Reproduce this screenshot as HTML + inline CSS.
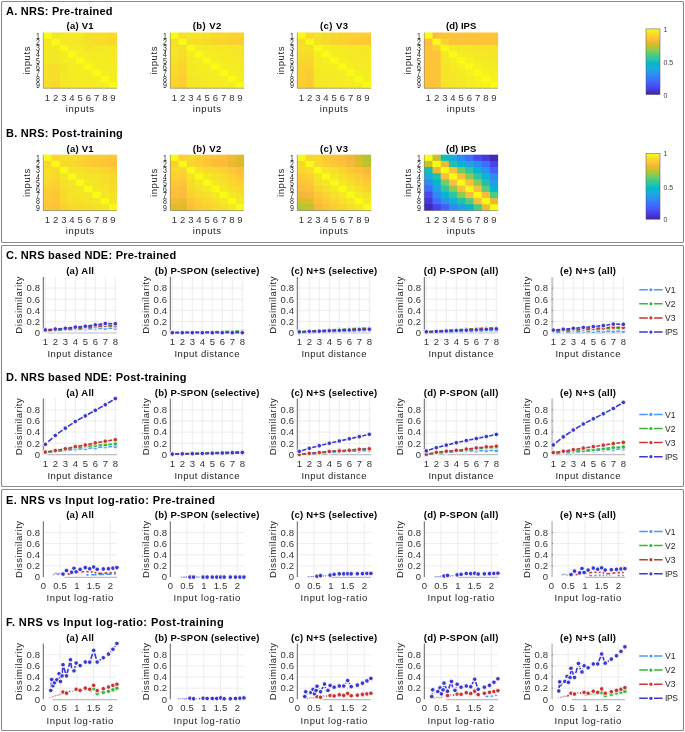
<!DOCTYPE html>
<html><head><meta charset="utf-8"><style>
html,body{margin:0;padding:0;background:#fff;width:685px;height:732px;overflow:hidden;font-family:"Liberation Sans",sans-serif}
svg{display:block;will-change:transform}
</style></head><body>
<svg width="685" height="732" viewBox="0 0 685 732" font-family="'Liberation Sans', sans-serif">
<defs><linearGradient id="parula" x1="0" y1="1" x2="0" y2="0"><stop offset='0.0000' stop-color='#3e26a8'/><stop offset='0.0159' stop-color='#402ab4'/><stop offset='0.0317' stop-color='#422ec0'/><stop offset='0.0476' stop-color='#4332cb'/><stop offset='0.0635' stop-color='#4537d5'/><stop offset='0.0794' stop-color='#463cde'/><stop offset='0.0952' stop-color='#4741e5'/><stop offset='0.1111' stop-color='#4747eb'/><stop offset='0.1270' stop-color='#484df0'/><stop offset='0.1429' stop-color='#4852f4'/><stop offset='0.1587' stop-color='#4758f8'/><stop offset='0.1746' stop-color='#465efb'/><stop offset='0.1905' stop-color='#4563fd'/><stop offset='0.2063' stop-color='#4269fe'/><stop offset='0.2222' stop-color='#3e6fff'/><stop offset='0.2381' stop-color='#3875fe'/><stop offset='0.2540' stop-color='#327cfc'/><stop offset='0.2698' stop-color='#2f81fa'/><stop offset='0.2857' stop-color='#2e87f7'/><stop offset='0.3016' stop-color='#2d8cf3'/><stop offset='0.3175' stop-color='#2b91ef'/><stop offset='0.3333' stop-color='#2797eb'/><stop offset='0.3492' stop-color='#259be8'/><stop offset='0.3651' stop-color='#23a0e5'/><stop offset='0.3810' stop-color='#20a5e3'/><stop offset='0.3968' stop-color='#1ca9df'/><stop offset='0.4127' stop-color='#18addb'/><stop offset='0.4286' stop-color='#12b1d6'/><stop offset='0.4444' stop-color='#08b5d0'/><stop offset='0.4603' stop-color='#01b8ca'/><stop offset='0.4762' stop-color='#02bac3'/><stop offset='0.4921' stop-color='#0bbdbd'/><stop offset='0.5079' stop-color='#19bfb6'/><stop offset='0.5238' stop-color='#24c1ae'/><stop offset='0.5397' stop-color='#2cc4a7'/><stop offset='0.5556' stop-color='#31c69f'/><stop offset='0.5714' stop-color='#37c897'/><stop offset='0.5873' stop-color='#3fca8e'/><stop offset='0.6032' stop-color='#4acb84'/><stop offset='0.6190' stop-color='#57cc7a'/><stop offset='0.6349' stop-color='#64cd6f'/><stop offset='0.6508' stop-color='#72cd64'/><stop offset='0.6667' stop-color='#81cc59'/><stop offset='0.6825' stop-color='#8fcb4e'/><stop offset='0.6984' stop-color='#9dc943'/><stop offset='0.7143' stop-color='#abc739'/><stop offset='0.7302' stop-color='#b9c431'/><stop offset='0.7460' stop-color='#c5c22a'/><stop offset='0.7619' stop-color='#d1bf27'/><stop offset='0.7778' stop-color='#dcbd29'/><stop offset='0.7937' stop-color='#e6bb2d'/><stop offset='0.8095' stop-color='#f0ba36'/><stop offset='0.8254' stop-color='#f8ba3d'/><stop offset='0.8413' stop-color='#febe3c'/><stop offset='0.8571' stop-color='#fec338'/><stop offset='0.8730' stop-color='#fec934'/><stop offset='0.8889' stop-color='#fccf30'/><stop offset='0.9048' stop-color='#fad62d'/><stop offset='0.9206' stop-color='#f7dc2a'/><stop offset='0.9365' stop-color='#f5e327'/><stop offset='0.9524' stop-color='#f5e924'/><stop offset='0.9683' stop-color='#f6ef20'/><stop offset='0.9841' stop-color='#f7f51b'/><stop offset='1.0000' stop-color='#f9fb15'/></linearGradient></defs>
<rect width="685" height="732" fill="#fff"/>
<rect x="1.5" y="1.5" width="682" height="241.0" fill="none" stroke="#8a8a8a" stroke-width="1.1" rx="1"/>
<rect x="1.5" y="245.5" width="682" height="241.0" fill="none" stroke="#8a8a8a" stroke-width="1.1" rx="1"/>
<rect x="1.5" y="489.5" width="682" height="241.0" fill="none" stroke="#8a8a8a" stroke-width="1.1" rx="1"/>
<text x="6.00" y="14.70" font-size="11" text-anchor="start" font-weight="bold" fill="#000" letter-spacing="0.25">A. NRS: Pre-trained</text>
<text x="6.00" y="136.90" font-size="11" text-anchor="start" font-weight="bold" fill="#000" letter-spacing="0.25">B. NRS: Post-training</text>
<text x="80.20" y="29.30" font-size="9.5" text-anchor="middle" font-weight="bold" fill="#000" letter-spacing="0.25">(a) V1</text>
<rect x="43.30" y="32.50" width="9.00" height="7.00" fill="#f9fb15"/>
<rect x="51.50" y="32.50" width="9.00" height="7.00" fill="#f5e626"/>
<rect x="59.70" y="32.50" width="9.00" height="7.00" fill="#f5e825"/>
<rect x="67.90" y="32.50" width="9.00" height="7.00" fill="#f5e825"/>
<rect x="76.10" y="32.50" width="9.00" height="7.00" fill="#f5e825"/>
<rect x="84.30" y="32.50" width="9.00" height="7.00" fill="#f5e227"/>
<rect x="92.50" y="32.50" width="9.00" height="7.00" fill="#f6e028"/>
<rect x="100.70" y="32.50" width="9.00" height="7.00" fill="#f6de29"/>
<rect x="108.90" y="32.50" width="8.20" height="7.00" fill="#f7dc2a"/>
<rect x="43.30" y="38.70" width="9.00" height="7.00" fill="#f5e626"/>
<rect x="51.50" y="38.70" width="9.00" height="7.00" fill="#f9fb15"/>
<rect x="59.70" y="38.70" width="9.00" height="7.00" fill="#f5e825"/>
<rect x="67.90" y="38.70" width="9.00" height="7.00" fill="#f5e825"/>
<rect x="76.10" y="38.70" width="9.00" height="7.00" fill="#f5e626"/>
<rect x="84.30" y="38.70" width="9.00" height="7.00" fill="#f6e028"/>
<rect x="92.50" y="38.70" width="9.00" height="7.00" fill="#f6de29"/>
<rect x="100.70" y="38.70" width="9.00" height="7.00" fill="#f7dc2a"/>
<rect x="108.90" y="38.70" width="8.20" height="7.00" fill="#f9d82c"/>
<rect x="43.30" y="44.90" width="9.00" height="7.00" fill="#f5e825"/>
<rect x="51.50" y="44.90" width="9.00" height="7.00" fill="#f5e825"/>
<rect x="59.70" y="44.90" width="9.00" height="7.00" fill="#f9fb15"/>
<rect x="67.90" y="44.90" width="9.00" height="7.00" fill="#f5ec22"/>
<rect x="76.10" y="44.90" width="9.00" height="7.00" fill="#f5ec22"/>
<rect x="84.30" y="44.90" width="9.00" height="7.00" fill="#f5e427"/>
<rect x="92.50" y="44.90" width="9.00" height="7.00" fill="#f5e825"/>
<rect x="100.70" y="44.90" width="9.00" height="7.00" fill="#f5e825"/>
<rect x="108.90" y="44.90" width="8.20" height="7.00" fill="#f5e626"/>
<rect x="43.30" y="51.10" width="9.00" height="7.00" fill="#f5e825"/>
<rect x="51.50" y="51.10" width="9.00" height="7.00" fill="#f5e825"/>
<rect x="59.70" y="51.10" width="9.00" height="7.00" fill="#f5ec22"/>
<rect x="67.90" y="51.10" width="9.00" height="7.00" fill="#f9fb15"/>
<rect x="76.10" y="51.10" width="9.00" height="7.00" fill="#f5ee21"/>
<rect x="84.30" y="51.10" width="9.00" height="7.00" fill="#f5ec22"/>
<rect x="92.50" y="51.10" width="9.00" height="7.00" fill="#f5ec22"/>
<rect x="100.70" y="51.10" width="9.00" height="7.00" fill="#f5ea24"/>
<rect x="108.90" y="51.10" width="8.20" height="7.00" fill="#f5e825"/>
<rect x="43.30" y="57.30" width="9.00" height="7.00" fill="#f5e825"/>
<rect x="51.50" y="57.30" width="9.00" height="7.00" fill="#f5e626"/>
<rect x="59.70" y="57.30" width="9.00" height="7.00" fill="#f5ec22"/>
<rect x="67.90" y="57.30" width="9.00" height="7.00" fill="#f5ee21"/>
<rect x="76.10" y="57.30" width="9.00" height="7.00" fill="#f9fb15"/>
<rect x="84.30" y="57.30" width="9.00" height="7.00" fill="#f5ee21"/>
<rect x="92.50" y="57.30" width="9.00" height="7.00" fill="#f5ec22"/>
<rect x="100.70" y="57.30" width="9.00" height="7.00" fill="#f5ec22"/>
<rect x="108.90" y="57.30" width="8.20" height="7.00" fill="#f5ea24"/>
<rect x="43.30" y="63.50" width="9.00" height="7.00" fill="#f5e227"/>
<rect x="51.50" y="63.50" width="9.00" height="7.00" fill="#f6e028"/>
<rect x="59.70" y="63.50" width="9.00" height="7.00" fill="#f5e427"/>
<rect x="67.90" y="63.50" width="9.00" height="7.00" fill="#f5ec22"/>
<rect x="76.10" y="63.50" width="9.00" height="7.00" fill="#f5ee21"/>
<rect x="84.30" y="63.50" width="9.00" height="7.00" fill="#f9fb15"/>
<rect x="92.50" y="63.50" width="9.00" height="7.00" fill="#f5ee21"/>
<rect x="100.70" y="63.50" width="9.00" height="7.00" fill="#f5ec22"/>
<rect x="108.90" y="63.50" width="8.20" height="7.00" fill="#f5ea24"/>
<rect x="43.30" y="69.70" width="9.00" height="7.00" fill="#f6e028"/>
<rect x="51.50" y="69.70" width="9.00" height="7.00" fill="#f6de29"/>
<rect x="59.70" y="69.70" width="9.00" height="7.00" fill="#f5e825"/>
<rect x="67.90" y="69.70" width="9.00" height="7.00" fill="#f5ec22"/>
<rect x="76.10" y="69.70" width="9.00" height="7.00" fill="#f5ec22"/>
<rect x="84.30" y="69.70" width="9.00" height="7.00" fill="#f5ee21"/>
<rect x="92.50" y="69.70" width="9.00" height="7.00" fill="#f9fb15"/>
<rect x="100.70" y="69.70" width="9.00" height="7.00" fill="#f5ee21"/>
<rect x="108.90" y="69.70" width="8.20" height="7.00" fill="#f5ec22"/>
<rect x="43.30" y="75.90" width="9.00" height="7.00" fill="#f6de29"/>
<rect x="51.50" y="75.90" width="9.00" height="7.00" fill="#f7dc2a"/>
<rect x="59.70" y="75.90" width="9.00" height="7.00" fill="#f5e825"/>
<rect x="67.90" y="75.90" width="9.00" height="7.00" fill="#f5ea24"/>
<rect x="76.10" y="75.90" width="9.00" height="7.00" fill="#f5ec22"/>
<rect x="84.30" y="75.90" width="9.00" height="7.00" fill="#f5ec22"/>
<rect x="92.50" y="75.90" width="9.00" height="7.00" fill="#f5ee21"/>
<rect x="100.70" y="75.90" width="9.00" height="7.00" fill="#f9fb15"/>
<rect x="108.90" y="75.90" width="8.20" height="7.00" fill="#f5ee21"/>
<rect x="43.30" y="82.10" width="9.00" height="6.20" fill="#f7dc2a"/>
<rect x="51.50" y="82.10" width="9.00" height="6.20" fill="#f9d82c"/>
<rect x="59.70" y="82.10" width="9.00" height="6.20" fill="#f5e626"/>
<rect x="67.90" y="82.10" width="9.00" height="6.20" fill="#f5e825"/>
<rect x="76.10" y="82.10" width="9.00" height="6.20" fill="#f5ea24"/>
<rect x="84.30" y="82.10" width="9.00" height="6.20" fill="#f5ea24"/>
<rect x="92.50" y="82.10" width="9.00" height="6.20" fill="#f5ec22"/>
<rect x="100.70" y="82.10" width="9.00" height="6.20" fill="#f5ee21"/>
<rect x="108.90" y="82.10" width="8.20" height="6.20" fill="#f9fb15"/>
<path d="M43.30 32.50V88.30H117.10" fill="none" stroke="#262626" stroke-width="0.6" stroke-opacity="0.6"/>
<text x="47.50" y="100.50" font-size="9.5" text-anchor="middle" fill="#333" letter-spacing="0.2">1</text>
<text x="55.70" y="100.50" font-size="9.5" text-anchor="middle" fill="#333" letter-spacing="0.2">2</text>
<text x="63.90" y="100.50" font-size="9.5" text-anchor="middle" fill="#333" letter-spacing="0.2">3</text>
<text x="72.10" y="100.50" font-size="9.5" text-anchor="middle" fill="#333" letter-spacing="0.2">4</text>
<text x="80.30" y="100.50" font-size="9.5" text-anchor="middle" fill="#333" letter-spacing="0.2">5</text>
<text x="88.50" y="100.50" font-size="9.5" text-anchor="middle" fill="#333" letter-spacing="0.2">6</text>
<text x="96.70" y="100.50" font-size="9.5" text-anchor="middle" fill="#333" letter-spacing="0.2">7</text>
<text x="104.90" y="100.50" font-size="9.5" text-anchor="middle" fill="#333" letter-spacing="0.2">8</text>
<text x="113.10" y="100.50" font-size="9.5" text-anchor="middle" fill="#333" letter-spacing="0.2">9</text>
<text x="80.20" y="111.70" font-size="9.5" text-anchor="middle" fill="#222" letter-spacing="0.6">inputs</text>
<text transform="translate(39.90,38.80) scale(0.78,1)" font-size="9" text-anchor="end" fill="#222">1</text>
<text transform="translate(39.90,45.00) scale(0.78,1)" font-size="9" text-anchor="end" fill="#222">2</text>
<text transform="translate(39.90,51.20) scale(0.78,1)" font-size="9" text-anchor="end" fill="#222">3</text>
<text transform="translate(39.90,57.40) scale(0.78,1)" font-size="9" text-anchor="end" fill="#222">4</text>
<text transform="translate(39.90,63.60) scale(0.78,1)" font-size="9" text-anchor="end" fill="#222">5</text>
<text transform="translate(39.90,69.80) scale(0.78,1)" font-size="9" text-anchor="end" fill="#222">6</text>
<text transform="translate(39.90,76.00) scale(0.78,1)" font-size="9" text-anchor="end" fill="#222">7</text>
<text transform="translate(39.90,82.20) scale(0.78,1)" font-size="9" text-anchor="end" fill="#222">8</text>
<text transform="translate(39.90,88.40) scale(0.78,1)" font-size="9" text-anchor="end" fill="#222">9</text>
<text transform="translate(30.00,60.40) rotate(-90)" font-size="9.5" text-anchor="middle" fill="#222" letter-spacing="0.6">inputs</text>
<text x="80.20" y="151.50" font-size="9.5" text-anchor="middle" font-weight="bold" fill="#000" letter-spacing="0.25">(a) V1</text>
<rect x="43.30" y="154.70" width="9.00" height="7.00" fill="#f9fb15"/>
<rect x="51.50" y="154.70" width="9.00" height="7.00" fill="#f9d72c"/>
<rect x="59.70" y="154.70" width="9.00" height="7.00" fill="#f6df29"/>
<rect x="67.90" y="154.70" width="9.00" height="7.00" fill="#f6dd29"/>
<rect x="76.10" y="154.70" width="9.00" height="7.00" fill="#f8d92b"/>
<rect x="84.30" y="154.70" width="9.00" height="7.00" fill="#fccf30"/>
<rect x="92.50" y="154.70" width="9.00" height="7.00" fill="#fdcb33"/>
<rect x="100.70" y="154.70" width="9.00" height="7.00" fill="#fec934"/>
<rect x="108.90" y="154.70" width="8.20" height="7.00" fill="#fec636"/>
<rect x="43.30" y="160.90" width="9.00" height="7.00" fill="#f9d72c"/>
<rect x="51.50" y="160.90" width="9.00" height="7.00" fill="#f9fb15"/>
<rect x="59.70" y="160.90" width="9.00" height="7.00" fill="#f7db2a"/>
<rect x="67.90" y="160.90" width="9.00" height="7.00" fill="#f9d72c"/>
<rect x="76.10" y="160.90" width="9.00" height="7.00" fill="#fbd32e"/>
<rect x="84.30" y="160.90" width="9.00" height="7.00" fill="#fdcb33"/>
<rect x="92.50" y="160.90" width="9.00" height="7.00" fill="#fec735"/>
<rect x="100.70" y="160.90" width="9.00" height="7.00" fill="#fec438"/>
<rect x="108.90" y="160.90" width="8.20" height="7.00" fill="#fec239"/>
<rect x="43.30" y="167.10" width="9.00" height="7.00" fill="#f6df29"/>
<rect x="51.50" y="167.10" width="9.00" height="7.00" fill="#f7db2a"/>
<rect x="59.70" y="167.10" width="9.00" height="7.00" fill="#f9fb15"/>
<rect x="67.90" y="167.10" width="9.00" height="7.00" fill="#f5e526"/>
<rect x="76.10" y="167.10" width="9.00" height="7.00" fill="#f5e327"/>
<rect x="84.30" y="167.10" width="9.00" height="7.00" fill="#f6dd29"/>
<rect x="92.50" y="167.10" width="9.00" height="7.00" fill="#f7db2a"/>
<rect x="100.70" y="167.10" width="9.00" height="7.00" fill="#f9d72c"/>
<rect x="108.90" y="167.10" width="8.20" height="7.00" fill="#fccf30"/>
<rect x="43.30" y="173.30" width="9.00" height="7.00" fill="#f6dd29"/>
<rect x="51.50" y="173.30" width="9.00" height="7.00" fill="#f9d72c"/>
<rect x="59.70" y="173.30" width="9.00" height="7.00" fill="#f5e526"/>
<rect x="67.90" y="173.30" width="9.00" height="7.00" fill="#f9fb15"/>
<rect x="76.10" y="173.30" width="9.00" height="7.00" fill="#f5e725"/>
<rect x="84.30" y="173.30" width="9.00" height="7.00" fill="#f5e327"/>
<rect x="92.50" y="173.30" width="9.00" height="7.00" fill="#f5e327"/>
<rect x="100.70" y="173.30" width="9.00" height="7.00" fill="#f6df29"/>
<rect x="108.90" y="173.30" width="8.20" height="7.00" fill="#f9d72c"/>
<rect x="43.30" y="179.50" width="9.00" height="7.00" fill="#f8d92b"/>
<rect x="51.50" y="179.50" width="9.00" height="7.00" fill="#fbd32e"/>
<rect x="59.70" y="179.50" width="9.00" height="7.00" fill="#f5e327"/>
<rect x="67.90" y="179.50" width="9.00" height="7.00" fill="#f5e725"/>
<rect x="76.10" y="179.50" width="9.00" height="7.00" fill="#f9fb15"/>
<rect x="84.30" y="179.50" width="9.00" height="7.00" fill="#f5e725"/>
<rect x="92.50" y="179.50" width="9.00" height="7.00" fill="#f5e526"/>
<rect x="100.70" y="179.50" width="9.00" height="7.00" fill="#f5e128"/>
<rect x="108.90" y="179.50" width="8.20" height="7.00" fill="#f7db2a"/>
<rect x="43.30" y="185.70" width="9.00" height="7.00" fill="#fccf30"/>
<rect x="51.50" y="185.70" width="9.00" height="7.00" fill="#fdcb33"/>
<rect x="59.70" y="185.70" width="9.00" height="7.00" fill="#f6dd29"/>
<rect x="67.90" y="185.70" width="9.00" height="7.00" fill="#f5e327"/>
<rect x="76.10" y="185.70" width="9.00" height="7.00" fill="#f5e725"/>
<rect x="84.30" y="185.70" width="9.00" height="7.00" fill="#f9fb15"/>
<rect x="92.50" y="185.70" width="9.00" height="7.00" fill="#f5e725"/>
<rect x="100.70" y="185.70" width="9.00" height="7.00" fill="#f5e526"/>
<rect x="108.90" y="185.70" width="8.20" height="7.00" fill="#f6dd29"/>
<rect x="43.30" y="191.90" width="9.00" height="7.00" fill="#fdcb33"/>
<rect x="51.50" y="191.90" width="9.00" height="7.00" fill="#fec735"/>
<rect x="59.70" y="191.90" width="9.00" height="7.00" fill="#f7db2a"/>
<rect x="67.90" y="191.90" width="9.00" height="7.00" fill="#f5e327"/>
<rect x="76.10" y="191.90" width="9.00" height="7.00" fill="#f5e526"/>
<rect x="84.30" y="191.90" width="9.00" height="7.00" fill="#f5e725"/>
<rect x="92.50" y="191.90" width="9.00" height="7.00" fill="#f9fb15"/>
<rect x="100.70" y="191.90" width="9.00" height="7.00" fill="#f5e725"/>
<rect x="108.90" y="191.90" width="8.20" height="7.00" fill="#f5e128"/>
<rect x="43.30" y="198.10" width="9.00" height="7.00" fill="#fec934"/>
<rect x="51.50" y="198.10" width="9.00" height="7.00" fill="#fec438"/>
<rect x="59.70" y="198.10" width="9.00" height="7.00" fill="#f9d72c"/>
<rect x="67.90" y="198.10" width="9.00" height="7.00" fill="#f6df29"/>
<rect x="76.10" y="198.10" width="9.00" height="7.00" fill="#f5e128"/>
<rect x="84.30" y="198.10" width="9.00" height="7.00" fill="#f5e526"/>
<rect x="92.50" y="198.10" width="9.00" height="7.00" fill="#f5e725"/>
<rect x="100.70" y="198.10" width="9.00" height="7.00" fill="#f9fb15"/>
<rect x="108.90" y="198.10" width="8.20" height="7.00" fill="#f5e526"/>
<rect x="43.30" y="204.30" width="9.00" height="6.20" fill="#fec636"/>
<rect x="51.50" y="204.30" width="9.00" height="6.20" fill="#fec239"/>
<rect x="59.70" y="204.30" width="9.00" height="6.20" fill="#fccf30"/>
<rect x="67.90" y="204.30" width="9.00" height="6.20" fill="#f9d72c"/>
<rect x="76.10" y="204.30" width="9.00" height="6.20" fill="#f7db2a"/>
<rect x="84.30" y="204.30" width="9.00" height="6.20" fill="#f6dd29"/>
<rect x="92.50" y="204.30" width="9.00" height="6.20" fill="#f5e128"/>
<rect x="100.70" y="204.30" width="9.00" height="6.20" fill="#f5e526"/>
<rect x="108.90" y="204.30" width="8.20" height="6.20" fill="#f9fb15"/>
<path d="M43.30 154.70V210.50H117.10" fill="none" stroke="#262626" stroke-width="0.6" stroke-opacity="0.6"/>
<text x="47.50" y="222.70" font-size="9.5" text-anchor="middle" fill="#333" letter-spacing="0.2">1</text>
<text x="55.70" y="222.70" font-size="9.5" text-anchor="middle" fill="#333" letter-spacing="0.2">2</text>
<text x="63.90" y="222.70" font-size="9.5" text-anchor="middle" fill="#333" letter-spacing="0.2">3</text>
<text x="72.10" y="222.70" font-size="9.5" text-anchor="middle" fill="#333" letter-spacing="0.2">4</text>
<text x="80.30" y="222.70" font-size="9.5" text-anchor="middle" fill="#333" letter-spacing="0.2">5</text>
<text x="88.50" y="222.70" font-size="9.5" text-anchor="middle" fill="#333" letter-spacing="0.2">6</text>
<text x="96.70" y="222.70" font-size="9.5" text-anchor="middle" fill="#333" letter-spacing="0.2">7</text>
<text x="104.90" y="222.70" font-size="9.5" text-anchor="middle" fill="#333" letter-spacing="0.2">8</text>
<text x="113.10" y="222.70" font-size="9.5" text-anchor="middle" fill="#333" letter-spacing="0.2">9</text>
<text x="80.20" y="233.90" font-size="9.5" text-anchor="middle" fill="#222" letter-spacing="0.6">inputs</text>
<text transform="translate(39.90,161.00) scale(0.78,1)" font-size="9" text-anchor="end" fill="#222">1</text>
<text transform="translate(39.90,167.20) scale(0.78,1)" font-size="9" text-anchor="end" fill="#222">2</text>
<text transform="translate(39.90,173.40) scale(0.78,1)" font-size="9" text-anchor="end" fill="#222">3</text>
<text transform="translate(39.90,179.60) scale(0.78,1)" font-size="9" text-anchor="end" fill="#222">4</text>
<text transform="translate(39.90,185.80) scale(0.78,1)" font-size="9" text-anchor="end" fill="#222">5</text>
<text transform="translate(39.90,192.00) scale(0.78,1)" font-size="9" text-anchor="end" fill="#222">6</text>
<text transform="translate(39.90,198.20) scale(0.78,1)" font-size="9" text-anchor="end" fill="#222">7</text>
<text transform="translate(39.90,204.40) scale(0.78,1)" font-size="9" text-anchor="end" fill="#222">8</text>
<text transform="translate(39.90,210.60) scale(0.78,1)" font-size="9" text-anchor="end" fill="#222">9</text>
<text transform="translate(30.00,182.60) rotate(-90)" font-size="9.5" text-anchor="middle" fill="#222" letter-spacing="0.6">inputs</text>
<text x="207.20" y="29.30" font-size="9.5" text-anchor="middle" font-weight="bold" fill="#000" letter-spacing="0.4">(b) V2</text>
<rect x="170.30" y="32.50" width="9.00" height="7.00" fill="#f9fb15"/>
<rect x="178.50" y="32.50" width="9.00" height="7.00" fill="#f6e028"/>
<rect x="186.70" y="32.50" width="9.00" height="7.00" fill="#f5e427"/>
<rect x="194.90" y="32.50" width="9.00" height="7.00" fill="#f5e427"/>
<rect x="203.10" y="32.50" width="9.00" height="7.00" fill="#f6e028"/>
<rect x="211.30" y="32.50" width="9.00" height="7.00" fill="#f7dc2a"/>
<rect x="219.50" y="32.50" width="9.00" height="7.00" fill="#f8da2b"/>
<rect x="227.70" y="32.50" width="9.00" height="7.00" fill="#fad62d"/>
<rect x="235.90" y="32.50" width="8.20" height="7.00" fill="#fad42e"/>
<rect x="170.30" y="38.70" width="9.00" height="7.00" fill="#f6e028"/>
<rect x="178.50" y="38.70" width="9.00" height="7.00" fill="#f9fb15"/>
<rect x="186.70" y="38.70" width="9.00" height="7.00" fill="#f6e028"/>
<rect x="194.90" y="38.70" width="9.00" height="7.00" fill="#f6de29"/>
<rect x="203.10" y="38.70" width="9.00" height="7.00" fill="#f8da2b"/>
<rect x="211.30" y="38.70" width="9.00" height="7.00" fill="#fad62d"/>
<rect x="219.50" y="38.70" width="9.00" height="7.00" fill="#fbd22f"/>
<rect x="227.70" y="38.70" width="9.00" height="7.00" fill="#fdce31"/>
<rect x="235.90" y="38.70" width="8.20" height="7.00" fill="#fdcc32"/>
<rect x="170.30" y="44.90" width="9.00" height="7.00" fill="#f5e427"/>
<rect x="178.50" y="44.90" width="9.00" height="7.00" fill="#f6e028"/>
<rect x="186.70" y="44.90" width="9.00" height="7.00" fill="#f9fb15"/>
<rect x="194.90" y="44.90" width="9.00" height="7.00" fill="#f5ec22"/>
<rect x="203.10" y="44.90" width="9.00" height="7.00" fill="#f5ea24"/>
<rect x="211.30" y="44.90" width="9.00" height="7.00" fill="#f5e825"/>
<rect x="219.50" y="44.90" width="9.00" height="7.00" fill="#f5e825"/>
<rect x="227.70" y="44.90" width="9.00" height="7.00" fill="#f5e626"/>
<rect x="235.90" y="44.90" width="8.20" height="7.00" fill="#f5e427"/>
<rect x="170.30" y="51.10" width="9.00" height="7.00" fill="#f5e427"/>
<rect x="178.50" y="51.10" width="9.00" height="7.00" fill="#f6de29"/>
<rect x="186.70" y="51.10" width="9.00" height="7.00" fill="#f5ec22"/>
<rect x="194.90" y="51.10" width="9.00" height="7.00" fill="#f9fb15"/>
<rect x="203.10" y="51.10" width="9.00" height="7.00" fill="#f5ee21"/>
<rect x="211.30" y="51.10" width="9.00" height="7.00" fill="#f5ec22"/>
<rect x="219.50" y="51.10" width="9.00" height="7.00" fill="#f5ea24"/>
<rect x="227.70" y="51.10" width="9.00" height="7.00" fill="#f5e825"/>
<rect x="235.90" y="51.10" width="8.20" height="7.00" fill="#f5e626"/>
<rect x="170.30" y="57.30" width="9.00" height="7.00" fill="#f6e028"/>
<rect x="178.50" y="57.30" width="9.00" height="7.00" fill="#f8da2b"/>
<rect x="186.70" y="57.30" width="9.00" height="7.00" fill="#f5ea24"/>
<rect x="194.90" y="57.30" width="9.00" height="7.00" fill="#f5ee21"/>
<rect x="203.10" y="57.30" width="9.00" height="7.00" fill="#f9fb15"/>
<rect x="211.30" y="57.30" width="9.00" height="7.00" fill="#f5ee21"/>
<rect x="219.50" y="57.30" width="9.00" height="7.00" fill="#f5ec22"/>
<rect x="227.70" y="57.30" width="9.00" height="7.00" fill="#f5ea24"/>
<rect x="235.90" y="57.30" width="8.20" height="7.00" fill="#f5e825"/>
<rect x="170.30" y="63.50" width="9.00" height="7.00" fill="#f7dc2a"/>
<rect x="178.50" y="63.50" width="9.00" height="7.00" fill="#fad62d"/>
<rect x="186.70" y="63.50" width="9.00" height="7.00" fill="#f5e825"/>
<rect x="194.90" y="63.50" width="9.00" height="7.00" fill="#f5ec22"/>
<rect x="203.10" y="63.50" width="9.00" height="7.00" fill="#f5ee21"/>
<rect x="211.30" y="63.50" width="9.00" height="7.00" fill="#f9fb15"/>
<rect x="219.50" y="63.50" width="9.00" height="7.00" fill="#f5ee21"/>
<rect x="227.70" y="63.50" width="9.00" height="7.00" fill="#f5ec22"/>
<rect x="235.90" y="63.50" width="8.20" height="7.00" fill="#f5ea24"/>
<rect x="170.30" y="69.70" width="9.00" height="7.00" fill="#f8da2b"/>
<rect x="178.50" y="69.70" width="9.00" height="7.00" fill="#fbd22f"/>
<rect x="186.70" y="69.70" width="9.00" height="7.00" fill="#f5e825"/>
<rect x="194.90" y="69.70" width="9.00" height="7.00" fill="#f5ea24"/>
<rect x="203.10" y="69.70" width="9.00" height="7.00" fill="#f5ec22"/>
<rect x="211.30" y="69.70" width="9.00" height="7.00" fill="#f5ee21"/>
<rect x="219.50" y="69.70" width="9.00" height="7.00" fill="#f9fb15"/>
<rect x="227.70" y="69.70" width="9.00" height="7.00" fill="#f5ee21"/>
<rect x="235.90" y="69.70" width="8.20" height="7.00" fill="#f5ec22"/>
<rect x="170.30" y="75.90" width="9.00" height="7.00" fill="#fad62d"/>
<rect x="178.50" y="75.90" width="9.00" height="7.00" fill="#fdce31"/>
<rect x="186.70" y="75.90" width="9.00" height="7.00" fill="#f5e626"/>
<rect x="194.90" y="75.90" width="9.00" height="7.00" fill="#f5e825"/>
<rect x="203.10" y="75.90" width="9.00" height="7.00" fill="#f5ea24"/>
<rect x="211.30" y="75.90" width="9.00" height="7.00" fill="#f5ec22"/>
<rect x="219.50" y="75.90" width="9.00" height="7.00" fill="#f5ee21"/>
<rect x="227.70" y="75.90" width="9.00" height="7.00" fill="#f9fb15"/>
<rect x="235.90" y="75.90" width="8.20" height="7.00" fill="#f5ee21"/>
<rect x="170.30" y="82.10" width="9.00" height="6.20" fill="#fad42e"/>
<rect x="178.50" y="82.10" width="9.00" height="6.20" fill="#fdcc32"/>
<rect x="186.70" y="82.10" width="9.00" height="6.20" fill="#f5e427"/>
<rect x="194.90" y="82.10" width="9.00" height="6.20" fill="#f5e626"/>
<rect x="203.10" y="82.10" width="9.00" height="6.20" fill="#f5e825"/>
<rect x="211.30" y="82.10" width="9.00" height="6.20" fill="#f5ea24"/>
<rect x="219.50" y="82.10" width="9.00" height="6.20" fill="#f5ec22"/>
<rect x="227.70" y="82.10" width="9.00" height="6.20" fill="#f5ee21"/>
<rect x="235.90" y="82.10" width="8.20" height="6.20" fill="#f9fb15"/>
<path d="M170.30 32.50V88.30H244.10" fill="none" stroke="#262626" stroke-width="0.6" stroke-opacity="0.6"/>
<text x="174.50" y="100.50" font-size="9.5" text-anchor="middle" fill="#333" letter-spacing="0.2">1</text>
<text x="182.70" y="100.50" font-size="9.5" text-anchor="middle" fill="#333" letter-spacing="0.2">2</text>
<text x="190.90" y="100.50" font-size="9.5" text-anchor="middle" fill="#333" letter-spacing="0.2">3</text>
<text x="199.10" y="100.50" font-size="9.5" text-anchor="middle" fill="#333" letter-spacing="0.2">4</text>
<text x="207.30" y="100.50" font-size="9.5" text-anchor="middle" fill="#333" letter-spacing="0.2">5</text>
<text x="215.50" y="100.50" font-size="9.5" text-anchor="middle" fill="#333" letter-spacing="0.2">6</text>
<text x="223.70" y="100.50" font-size="9.5" text-anchor="middle" fill="#333" letter-spacing="0.2">7</text>
<text x="231.90" y="100.50" font-size="9.5" text-anchor="middle" fill="#333" letter-spacing="0.2">8</text>
<text x="240.10" y="100.50" font-size="9.5" text-anchor="middle" fill="#333" letter-spacing="0.2">9</text>
<text x="207.20" y="111.70" font-size="9.5" text-anchor="middle" fill="#222" letter-spacing="0.6">inputs</text>
<text transform="translate(166.90,38.80) scale(0.78,1)" font-size="9" text-anchor="end" fill="#222">1</text>
<text transform="translate(166.90,45.00) scale(0.78,1)" font-size="9" text-anchor="end" fill="#222">2</text>
<text transform="translate(166.90,51.20) scale(0.78,1)" font-size="9" text-anchor="end" fill="#222">3</text>
<text transform="translate(166.90,57.40) scale(0.78,1)" font-size="9" text-anchor="end" fill="#222">4</text>
<text transform="translate(166.90,63.60) scale(0.78,1)" font-size="9" text-anchor="end" fill="#222">5</text>
<text transform="translate(166.90,69.80) scale(0.78,1)" font-size="9" text-anchor="end" fill="#222">6</text>
<text transform="translate(166.90,76.00) scale(0.78,1)" font-size="9" text-anchor="end" fill="#222">7</text>
<text transform="translate(166.90,82.20) scale(0.78,1)" font-size="9" text-anchor="end" fill="#222">8</text>
<text transform="translate(166.90,88.40) scale(0.78,1)" font-size="9" text-anchor="end" fill="#222">9</text>
<text transform="translate(157.00,60.40) rotate(-90)" font-size="9.5" text-anchor="middle" fill="#222" letter-spacing="0.6">inputs</text>
<text x="207.20" y="151.50" font-size="9.5" text-anchor="middle" font-weight="bold" fill="#000" letter-spacing="0.4">(b) V2</text>
<rect x="170.30" y="154.70" width="9.00" height="7.00" fill="#f9fb15"/>
<rect x="178.50" y="154.70" width="9.00" height="7.00" fill="#fcd12f"/>
<rect x="186.70" y="154.70" width="9.00" height="7.00" fill="#f8d92c"/>
<rect x="194.90" y="154.70" width="9.00" height="7.00" fill="#fcd12f"/>
<rect x="203.10" y="154.70" width="9.00" height="7.00" fill="#fec934"/>
<rect x="211.30" y="154.70" width="9.00" height="7.00" fill="#fec139"/>
<rect x="219.50" y="154.70" width="9.00" height="7.00" fill="#febe3c"/>
<rect x="227.70" y="154.70" width="9.00" height="7.00" fill="#f1ba37"/>
<rect x="235.90" y="154.70" width="8.20" height="7.00" fill="#dfbc2a"/>
<rect x="170.30" y="160.90" width="9.00" height="7.00" fill="#fcd12f"/>
<rect x="178.50" y="160.90" width="9.00" height="7.00" fill="#f9fb15"/>
<rect x="186.70" y="160.90" width="9.00" height="7.00" fill="#fad52e"/>
<rect x="194.90" y="160.90" width="9.00" height="7.00" fill="#fdcd32"/>
<rect x="203.10" y="160.90" width="9.00" height="7.00" fill="#fec537"/>
<rect x="211.30" y="160.90" width="9.00" height="7.00" fill="#febe3c"/>
<rect x="219.50" y="160.90" width="9.00" height="7.00" fill="#fabc3d"/>
<rect x="227.70" y="160.90" width="9.00" height="7.00" fill="#ebba32"/>
<rect x="235.90" y="160.90" width="8.20" height="7.00" fill="#dfbc2a"/>
<rect x="170.30" y="167.10" width="9.00" height="7.00" fill="#f8d92c"/>
<rect x="178.50" y="167.10" width="9.00" height="7.00" fill="#fad52e"/>
<rect x="186.70" y="167.10" width="9.00" height="7.00" fill="#f9fb15"/>
<rect x="194.90" y="167.10" width="9.00" height="7.00" fill="#f5e526"/>
<rect x="203.10" y="167.10" width="9.00" height="7.00" fill="#f7dd2a"/>
<rect x="211.30" y="167.10" width="9.00" height="7.00" fill="#f8d92c"/>
<rect x="219.50" y="167.10" width="9.00" height="7.00" fill="#fcd12f"/>
<rect x="227.70" y="167.10" width="9.00" height="7.00" fill="#fec537"/>
<rect x="235.90" y="167.10" width="8.20" height="7.00" fill="#febe3c"/>
<rect x="170.30" y="173.30" width="9.00" height="7.00" fill="#fcd12f"/>
<rect x="178.50" y="173.30" width="9.00" height="7.00" fill="#fdcd32"/>
<rect x="186.70" y="173.30" width="9.00" height="7.00" fill="#f5e526"/>
<rect x="194.90" y="173.30" width="9.00" height="7.00" fill="#f9fb15"/>
<rect x="203.10" y="173.30" width="9.00" height="7.00" fill="#f5e924"/>
<rect x="211.30" y="173.30" width="9.00" height="7.00" fill="#f6e128"/>
<rect x="219.50" y="173.30" width="9.00" height="7.00" fill="#f7dd2a"/>
<rect x="227.70" y="173.30" width="9.00" height="7.00" fill="#fcd12f"/>
<rect x="235.90" y="173.30" width="8.20" height="7.00" fill="#fec934"/>
<rect x="170.30" y="179.50" width="9.00" height="7.00" fill="#fec934"/>
<rect x="178.50" y="179.50" width="9.00" height="7.00" fill="#fec537"/>
<rect x="186.70" y="179.50" width="9.00" height="7.00" fill="#f7dd2a"/>
<rect x="194.90" y="179.50" width="9.00" height="7.00" fill="#f5e924"/>
<rect x="203.10" y="179.50" width="9.00" height="7.00" fill="#f9fb15"/>
<rect x="211.30" y="179.50" width="9.00" height="7.00" fill="#f5e924"/>
<rect x="219.50" y="179.50" width="9.00" height="7.00" fill="#f6e128"/>
<rect x="227.70" y="179.50" width="9.00" height="7.00" fill="#f8d92c"/>
<rect x="235.90" y="179.50" width="8.20" height="7.00" fill="#fcd12f"/>
<rect x="170.30" y="185.70" width="9.00" height="7.00" fill="#fec139"/>
<rect x="178.50" y="185.70" width="9.00" height="7.00" fill="#febe3c"/>
<rect x="186.70" y="185.70" width="9.00" height="7.00" fill="#f8d92c"/>
<rect x="194.90" y="185.70" width="9.00" height="7.00" fill="#f6e128"/>
<rect x="203.10" y="185.70" width="9.00" height="7.00" fill="#f5e924"/>
<rect x="211.30" y="185.70" width="9.00" height="7.00" fill="#f9fb15"/>
<rect x="219.50" y="185.70" width="9.00" height="7.00" fill="#f5e924"/>
<rect x="227.70" y="185.70" width="9.00" height="7.00" fill="#f6e128"/>
<rect x="235.90" y="185.70" width="8.20" height="7.00" fill="#f8d92c"/>
<rect x="170.30" y="191.90" width="9.00" height="7.00" fill="#febe3c"/>
<rect x="178.50" y="191.90" width="9.00" height="7.00" fill="#fabc3d"/>
<rect x="186.70" y="191.90" width="9.00" height="7.00" fill="#fcd12f"/>
<rect x="194.90" y="191.90" width="9.00" height="7.00" fill="#f7dd2a"/>
<rect x="203.10" y="191.90" width="9.00" height="7.00" fill="#f6e128"/>
<rect x="211.30" y="191.90" width="9.00" height="7.00" fill="#f5e924"/>
<rect x="219.50" y="191.90" width="9.00" height="7.00" fill="#f9fb15"/>
<rect x="227.70" y="191.90" width="9.00" height="7.00" fill="#f5e924"/>
<rect x="235.90" y="191.90" width="8.20" height="7.00" fill="#f6e128"/>
<rect x="170.30" y="198.10" width="9.00" height="7.00" fill="#f1ba37"/>
<rect x="178.50" y="198.10" width="9.00" height="7.00" fill="#ebba32"/>
<rect x="186.70" y="198.10" width="9.00" height="7.00" fill="#fec537"/>
<rect x="194.90" y="198.10" width="9.00" height="7.00" fill="#fcd12f"/>
<rect x="203.10" y="198.10" width="9.00" height="7.00" fill="#f8d92c"/>
<rect x="211.30" y="198.10" width="9.00" height="7.00" fill="#f6e128"/>
<rect x="219.50" y="198.10" width="9.00" height="7.00" fill="#f5e924"/>
<rect x="227.70" y="198.10" width="9.00" height="7.00" fill="#f9fb15"/>
<rect x="235.90" y="198.10" width="8.20" height="7.00" fill="#f5e924"/>
<rect x="170.30" y="204.30" width="9.00" height="6.20" fill="#dfbc2a"/>
<rect x="178.50" y="204.30" width="9.00" height="6.20" fill="#dfbc2a"/>
<rect x="186.70" y="204.30" width="9.00" height="6.20" fill="#febe3c"/>
<rect x="194.90" y="204.30" width="9.00" height="6.20" fill="#fec934"/>
<rect x="203.10" y="204.30" width="9.00" height="6.20" fill="#fcd12f"/>
<rect x="211.30" y="204.30" width="9.00" height="6.20" fill="#f8d92c"/>
<rect x="219.50" y="204.30" width="9.00" height="6.20" fill="#f6e128"/>
<rect x="227.70" y="204.30" width="9.00" height="6.20" fill="#f5e924"/>
<rect x="235.90" y="204.30" width="8.20" height="6.20" fill="#f9fb15"/>
<path d="M170.30 154.70V210.50H244.10" fill="none" stroke="#262626" stroke-width="0.6" stroke-opacity="0.6"/>
<text x="174.50" y="222.70" font-size="9.5" text-anchor="middle" fill="#333" letter-spacing="0.2">1</text>
<text x="182.70" y="222.70" font-size="9.5" text-anchor="middle" fill="#333" letter-spacing="0.2">2</text>
<text x="190.90" y="222.70" font-size="9.5" text-anchor="middle" fill="#333" letter-spacing="0.2">3</text>
<text x="199.10" y="222.70" font-size="9.5" text-anchor="middle" fill="#333" letter-spacing="0.2">4</text>
<text x="207.30" y="222.70" font-size="9.5" text-anchor="middle" fill="#333" letter-spacing="0.2">5</text>
<text x="215.50" y="222.70" font-size="9.5" text-anchor="middle" fill="#333" letter-spacing="0.2">6</text>
<text x="223.70" y="222.70" font-size="9.5" text-anchor="middle" fill="#333" letter-spacing="0.2">7</text>
<text x="231.90" y="222.70" font-size="9.5" text-anchor="middle" fill="#333" letter-spacing="0.2">8</text>
<text x="240.10" y="222.70" font-size="9.5" text-anchor="middle" fill="#333" letter-spacing="0.2">9</text>
<text x="207.20" y="233.90" font-size="9.5" text-anchor="middle" fill="#222" letter-spacing="0.6">inputs</text>
<text transform="translate(166.90,161.00) scale(0.78,1)" font-size="9" text-anchor="end" fill="#222">1</text>
<text transform="translate(166.90,167.20) scale(0.78,1)" font-size="9" text-anchor="end" fill="#222">2</text>
<text transform="translate(166.90,173.40) scale(0.78,1)" font-size="9" text-anchor="end" fill="#222">3</text>
<text transform="translate(166.90,179.60) scale(0.78,1)" font-size="9" text-anchor="end" fill="#222">4</text>
<text transform="translate(166.90,185.80) scale(0.78,1)" font-size="9" text-anchor="end" fill="#222">5</text>
<text transform="translate(166.90,192.00) scale(0.78,1)" font-size="9" text-anchor="end" fill="#222">6</text>
<text transform="translate(166.90,198.20) scale(0.78,1)" font-size="9" text-anchor="end" fill="#222">7</text>
<text transform="translate(166.90,204.40) scale(0.78,1)" font-size="9" text-anchor="end" fill="#222">8</text>
<text transform="translate(166.90,210.60) scale(0.78,1)" font-size="9" text-anchor="end" fill="#222">9</text>
<text transform="translate(157.00,182.60) rotate(-90)" font-size="9.5" text-anchor="middle" fill="#222" letter-spacing="0.6">inputs</text>
<text x="334.20" y="29.30" font-size="9.5" text-anchor="middle" font-weight="bold" fill="#000" letter-spacing="0.4">(c) V3</text>
<rect x="297.30" y="32.50" width="9.00" height="7.00" fill="#f9fb15"/>
<rect x="305.50" y="32.50" width="9.00" height="7.00" fill="#f7dc2a"/>
<rect x="313.70" y="32.50" width="9.00" height="7.00" fill="#f6e028"/>
<rect x="321.90" y="32.50" width="9.00" height="7.00" fill="#f7dc2a"/>
<rect x="330.10" y="32.50" width="9.00" height="7.00" fill="#f9d82c"/>
<rect x="338.30" y="32.50" width="9.00" height="7.00" fill="#fad42e"/>
<rect x="346.50" y="32.50" width="9.00" height="7.00" fill="#fbd22f"/>
<rect x="354.70" y="32.50" width="9.00" height="7.00" fill="#fcd030"/>
<rect x="362.90" y="32.50" width="8.20" height="7.00" fill="#fdce31"/>
<rect x="297.30" y="38.70" width="9.00" height="7.00" fill="#f7dc2a"/>
<rect x="305.50" y="38.70" width="9.00" height="7.00" fill="#f9fb15"/>
<rect x="313.70" y="38.70" width="9.00" height="7.00" fill="#f6e028"/>
<rect x="321.90" y="38.70" width="9.00" height="7.00" fill="#f8da2b"/>
<rect x="330.10" y="38.70" width="9.00" height="7.00" fill="#fad42e"/>
<rect x="338.30" y="38.70" width="9.00" height="7.00" fill="#fcd030"/>
<rect x="346.50" y="38.70" width="9.00" height="7.00" fill="#fdcc32"/>
<rect x="354.70" y="38.70" width="9.00" height="7.00" fill="#feca33"/>
<rect x="362.90" y="38.70" width="8.20" height="7.00" fill="#fec835"/>
<rect x="297.30" y="44.90" width="9.00" height="7.00" fill="#f6e028"/>
<rect x="305.50" y="44.90" width="9.00" height="7.00" fill="#f6e028"/>
<rect x="313.70" y="44.90" width="9.00" height="7.00" fill="#f9fb15"/>
<rect x="321.90" y="44.90" width="9.00" height="7.00" fill="#f5ee21"/>
<rect x="330.10" y="44.90" width="9.00" height="7.00" fill="#f5ec22"/>
<rect x="338.30" y="44.90" width="9.00" height="7.00" fill="#f5ea24"/>
<rect x="346.50" y="44.90" width="9.00" height="7.00" fill="#f5e825"/>
<rect x="354.70" y="44.90" width="9.00" height="7.00" fill="#f5e825"/>
<rect x="362.90" y="44.90" width="8.20" height="7.00" fill="#f5e626"/>
<rect x="297.30" y="51.10" width="9.00" height="7.00" fill="#f7dc2a"/>
<rect x="305.50" y="51.10" width="9.00" height="7.00" fill="#f8da2b"/>
<rect x="313.70" y="51.10" width="9.00" height="7.00" fill="#f5ee21"/>
<rect x="321.90" y="51.10" width="9.00" height="7.00" fill="#f9fb15"/>
<rect x="330.10" y="51.10" width="9.00" height="7.00" fill="#f5ee21"/>
<rect x="338.30" y="51.10" width="9.00" height="7.00" fill="#f5ec22"/>
<rect x="346.50" y="51.10" width="9.00" height="7.00" fill="#f5ea24"/>
<rect x="354.70" y="51.10" width="9.00" height="7.00" fill="#f5ea24"/>
<rect x="362.90" y="51.10" width="8.20" height="7.00" fill="#f5e825"/>
<rect x="297.30" y="57.30" width="9.00" height="7.00" fill="#f9d82c"/>
<rect x="305.50" y="57.30" width="9.00" height="7.00" fill="#fad42e"/>
<rect x="313.70" y="57.30" width="9.00" height="7.00" fill="#f5ec22"/>
<rect x="321.90" y="57.30" width="9.00" height="7.00" fill="#f5ee21"/>
<rect x="330.10" y="57.30" width="9.00" height="7.00" fill="#f9fb15"/>
<rect x="338.30" y="57.30" width="9.00" height="7.00" fill="#f5ee21"/>
<rect x="346.50" y="57.30" width="9.00" height="7.00" fill="#f5ec22"/>
<rect x="354.70" y="57.30" width="9.00" height="7.00" fill="#f5ea24"/>
<rect x="362.90" y="57.30" width="8.20" height="7.00" fill="#f5ea24"/>
<rect x="297.30" y="63.50" width="9.00" height="7.00" fill="#fad42e"/>
<rect x="305.50" y="63.50" width="9.00" height="7.00" fill="#fcd030"/>
<rect x="313.70" y="63.50" width="9.00" height="7.00" fill="#f5ea24"/>
<rect x="321.90" y="63.50" width="9.00" height="7.00" fill="#f5ec22"/>
<rect x="330.10" y="63.50" width="9.00" height="7.00" fill="#f5ee21"/>
<rect x="338.30" y="63.50" width="9.00" height="7.00" fill="#f9fb15"/>
<rect x="346.50" y="63.50" width="9.00" height="7.00" fill="#f5ee21"/>
<rect x="354.70" y="63.50" width="9.00" height="7.00" fill="#f5ec22"/>
<rect x="362.90" y="63.50" width="8.20" height="7.00" fill="#f5ea24"/>
<rect x="297.30" y="69.70" width="9.00" height="7.00" fill="#fbd22f"/>
<rect x="305.50" y="69.70" width="9.00" height="7.00" fill="#fdcc32"/>
<rect x="313.70" y="69.70" width="9.00" height="7.00" fill="#f5e825"/>
<rect x="321.90" y="69.70" width="9.00" height="7.00" fill="#f5ea24"/>
<rect x="330.10" y="69.70" width="9.00" height="7.00" fill="#f5ec22"/>
<rect x="338.30" y="69.70" width="9.00" height="7.00" fill="#f5ee21"/>
<rect x="346.50" y="69.70" width="9.00" height="7.00" fill="#f9fb15"/>
<rect x="354.70" y="69.70" width="9.00" height="7.00" fill="#f5ee21"/>
<rect x="362.90" y="69.70" width="8.20" height="7.00" fill="#f5ec22"/>
<rect x="297.30" y="75.90" width="9.00" height="7.00" fill="#fcd030"/>
<rect x="305.50" y="75.90" width="9.00" height="7.00" fill="#feca33"/>
<rect x="313.70" y="75.90" width="9.00" height="7.00" fill="#f5e825"/>
<rect x="321.90" y="75.90" width="9.00" height="7.00" fill="#f5ea24"/>
<rect x="330.10" y="75.90" width="9.00" height="7.00" fill="#f5ea24"/>
<rect x="338.30" y="75.90" width="9.00" height="7.00" fill="#f5ec22"/>
<rect x="346.50" y="75.90" width="9.00" height="7.00" fill="#f5ee21"/>
<rect x="354.70" y="75.90" width="9.00" height="7.00" fill="#f9fb15"/>
<rect x="362.90" y="75.90" width="8.20" height="7.00" fill="#f5ee21"/>
<rect x="297.30" y="82.10" width="9.00" height="6.20" fill="#fdce31"/>
<rect x="305.50" y="82.10" width="9.00" height="6.20" fill="#fec835"/>
<rect x="313.70" y="82.10" width="9.00" height="6.20" fill="#f5e626"/>
<rect x="321.90" y="82.10" width="9.00" height="6.20" fill="#f5e825"/>
<rect x="330.10" y="82.10" width="9.00" height="6.20" fill="#f5ea24"/>
<rect x="338.30" y="82.10" width="9.00" height="6.20" fill="#f5ea24"/>
<rect x="346.50" y="82.10" width="9.00" height="6.20" fill="#f5ec22"/>
<rect x="354.70" y="82.10" width="9.00" height="6.20" fill="#f5ee21"/>
<rect x="362.90" y="82.10" width="8.20" height="6.20" fill="#f9fb15"/>
<path d="M297.30 32.50V88.30H371.10" fill="none" stroke="#262626" stroke-width="0.6" stroke-opacity="0.6"/>
<text x="301.50" y="100.50" font-size="9.5" text-anchor="middle" fill="#333" letter-spacing="0.2">1</text>
<text x="309.70" y="100.50" font-size="9.5" text-anchor="middle" fill="#333" letter-spacing="0.2">2</text>
<text x="317.90" y="100.50" font-size="9.5" text-anchor="middle" fill="#333" letter-spacing="0.2">3</text>
<text x="326.10" y="100.50" font-size="9.5" text-anchor="middle" fill="#333" letter-spacing="0.2">4</text>
<text x="334.30" y="100.50" font-size="9.5" text-anchor="middle" fill="#333" letter-spacing="0.2">5</text>
<text x="342.50" y="100.50" font-size="9.5" text-anchor="middle" fill="#333" letter-spacing="0.2">6</text>
<text x="350.70" y="100.50" font-size="9.5" text-anchor="middle" fill="#333" letter-spacing="0.2">7</text>
<text x="358.90" y="100.50" font-size="9.5" text-anchor="middle" fill="#333" letter-spacing="0.2">8</text>
<text x="367.10" y="100.50" font-size="9.5" text-anchor="middle" fill="#333" letter-spacing="0.2">9</text>
<text x="334.20" y="111.70" font-size="9.5" text-anchor="middle" fill="#222" letter-spacing="0.6">inputs</text>
<text transform="translate(293.90,38.80) scale(0.78,1)" font-size="9" text-anchor="end" fill="#222">1</text>
<text transform="translate(293.90,45.00) scale(0.78,1)" font-size="9" text-anchor="end" fill="#222">2</text>
<text transform="translate(293.90,51.20) scale(0.78,1)" font-size="9" text-anchor="end" fill="#222">3</text>
<text transform="translate(293.90,57.40) scale(0.78,1)" font-size="9" text-anchor="end" fill="#222">4</text>
<text transform="translate(293.90,63.60) scale(0.78,1)" font-size="9" text-anchor="end" fill="#222">5</text>
<text transform="translate(293.90,69.80) scale(0.78,1)" font-size="9" text-anchor="end" fill="#222">6</text>
<text transform="translate(293.90,76.00) scale(0.78,1)" font-size="9" text-anchor="end" fill="#222">7</text>
<text transform="translate(293.90,82.20) scale(0.78,1)" font-size="9" text-anchor="end" fill="#222">8</text>
<text transform="translate(293.90,88.40) scale(0.78,1)" font-size="9" text-anchor="end" fill="#222">9</text>
<text transform="translate(284.00,60.40) rotate(-90)" font-size="9.5" text-anchor="middle" fill="#222" letter-spacing="0.6">inputs</text>
<text x="334.20" y="151.50" font-size="9.5" text-anchor="middle" font-weight="bold" fill="#000" letter-spacing="0.4">(c) V3</text>
<rect x="297.30" y="154.70" width="9.00" height="7.00" fill="#f9fb15"/>
<rect x="305.50" y="154.70" width="9.00" height="7.00" fill="#f9d82c"/>
<rect x="313.70" y="154.70" width="9.00" height="7.00" fill="#f9d82c"/>
<rect x="321.90" y="154.70" width="9.00" height="7.00" fill="#fdcc32"/>
<rect x="330.10" y="154.70" width="9.00" height="7.00" fill="#fec437"/>
<rect x="338.30" y="154.70" width="9.00" height="7.00" fill="#fdbd3d"/>
<rect x="346.50" y="154.70" width="9.00" height="7.00" fill="#f0ba36"/>
<rect x="354.70" y="154.70" width="9.00" height="7.00" fill="#d7be28"/>
<rect x="362.90" y="154.70" width="8.20" height="7.00" fill="#b0c636"/>
<rect x="297.30" y="160.90" width="9.00" height="7.00" fill="#f9d82c"/>
<rect x="305.50" y="160.90" width="9.00" height="7.00" fill="#f9fb15"/>
<rect x="313.70" y="160.90" width="9.00" height="7.00" fill="#f7dc2a"/>
<rect x="321.90" y="160.90" width="9.00" height="7.00" fill="#fcd030"/>
<rect x="330.10" y="160.90" width="9.00" height="7.00" fill="#fec835"/>
<rect x="338.30" y="160.90" width="9.00" height="7.00" fill="#fec13a"/>
<rect x="346.50" y="160.90" width="9.00" height="7.00" fill="#f5ba3a"/>
<rect x="354.70" y="160.90" width="9.00" height="7.00" fill="#debd29"/>
<rect x="362.90" y="160.90" width="8.20" height="7.00" fill="#c1c32d"/>
<rect x="297.30" y="167.10" width="9.00" height="7.00" fill="#f9d82c"/>
<rect x="305.50" y="167.10" width="9.00" height="7.00" fill="#f7dc2a"/>
<rect x="313.70" y="167.10" width="9.00" height="7.00" fill="#f9fb15"/>
<rect x="321.90" y="167.10" width="9.00" height="7.00" fill="#f5e427"/>
<rect x="330.10" y="167.10" width="9.00" height="7.00" fill="#f6e028"/>
<rect x="338.30" y="167.10" width="9.00" height="7.00" fill="#fad42e"/>
<rect x="346.50" y="167.10" width="9.00" height="7.00" fill="#fec835"/>
<rect x="354.70" y="167.10" width="9.00" height="7.00" fill="#fec13a"/>
<rect x="362.90" y="167.10" width="8.20" height="7.00" fill="#f5ba3a"/>
<rect x="297.30" y="173.30" width="9.00" height="7.00" fill="#fdcc32"/>
<rect x="305.50" y="173.30" width="9.00" height="7.00" fill="#fcd030"/>
<rect x="313.70" y="173.30" width="9.00" height="7.00" fill="#f5e427"/>
<rect x="321.90" y="173.30" width="9.00" height="7.00" fill="#f9fb15"/>
<rect x="330.10" y="173.30" width="9.00" height="7.00" fill="#f5e825"/>
<rect x="338.30" y="173.30" width="9.00" height="7.00" fill="#f6e028"/>
<rect x="346.50" y="173.30" width="9.00" height="7.00" fill="#fad42e"/>
<rect x="354.70" y="173.30" width="9.00" height="7.00" fill="#fdcc32"/>
<rect x="362.90" y="173.30" width="8.20" height="7.00" fill="#fec13a"/>
<rect x="297.30" y="179.50" width="9.00" height="7.00" fill="#fec437"/>
<rect x="305.50" y="179.50" width="9.00" height="7.00" fill="#fec835"/>
<rect x="313.70" y="179.50" width="9.00" height="7.00" fill="#f6e028"/>
<rect x="321.90" y="179.50" width="9.00" height="7.00" fill="#f5e825"/>
<rect x="330.10" y="179.50" width="9.00" height="7.00" fill="#f9fb15"/>
<rect x="338.30" y="179.50" width="9.00" height="7.00" fill="#f5e825"/>
<rect x="346.50" y="179.50" width="9.00" height="7.00" fill="#f6e028"/>
<rect x="354.70" y="179.50" width="9.00" height="7.00" fill="#fad42e"/>
<rect x="362.90" y="179.50" width="8.20" height="7.00" fill="#fdcc32"/>
<rect x="297.30" y="185.70" width="9.00" height="7.00" fill="#fdbd3d"/>
<rect x="305.50" y="185.70" width="9.00" height="7.00" fill="#fec13a"/>
<rect x="313.70" y="185.70" width="9.00" height="7.00" fill="#fad42e"/>
<rect x="321.90" y="185.70" width="9.00" height="7.00" fill="#f6e028"/>
<rect x="330.10" y="185.70" width="9.00" height="7.00" fill="#f5e825"/>
<rect x="338.30" y="185.70" width="9.00" height="7.00" fill="#f9fb15"/>
<rect x="346.50" y="185.70" width="9.00" height="7.00" fill="#f5e825"/>
<rect x="354.70" y="185.70" width="9.00" height="7.00" fill="#f6e028"/>
<rect x="362.90" y="185.70" width="8.20" height="7.00" fill="#fad42e"/>
<rect x="297.30" y="191.90" width="9.00" height="7.00" fill="#f0ba36"/>
<rect x="305.50" y="191.90" width="9.00" height="7.00" fill="#f5ba3a"/>
<rect x="313.70" y="191.90" width="9.00" height="7.00" fill="#fec835"/>
<rect x="321.90" y="191.90" width="9.00" height="7.00" fill="#fad42e"/>
<rect x="330.10" y="191.90" width="9.00" height="7.00" fill="#f6e028"/>
<rect x="338.30" y="191.90" width="9.00" height="7.00" fill="#f5e825"/>
<rect x="346.50" y="191.90" width="9.00" height="7.00" fill="#f9fb15"/>
<rect x="354.70" y="191.90" width="9.00" height="7.00" fill="#f5e825"/>
<rect x="362.90" y="191.90" width="8.20" height="7.00" fill="#f6e028"/>
<rect x="297.30" y="198.10" width="9.00" height="7.00" fill="#d7be28"/>
<rect x="305.50" y="198.10" width="9.00" height="7.00" fill="#debd29"/>
<rect x="313.70" y="198.10" width="9.00" height="7.00" fill="#fec13a"/>
<rect x="321.90" y="198.10" width="9.00" height="7.00" fill="#fdcc32"/>
<rect x="330.10" y="198.10" width="9.00" height="7.00" fill="#fad42e"/>
<rect x="338.30" y="198.10" width="9.00" height="7.00" fill="#f6e028"/>
<rect x="346.50" y="198.10" width="9.00" height="7.00" fill="#f5e825"/>
<rect x="354.70" y="198.10" width="9.00" height="7.00" fill="#f9fb15"/>
<rect x="362.90" y="198.10" width="8.20" height="7.00" fill="#f5e825"/>
<rect x="297.30" y="204.30" width="9.00" height="6.20" fill="#b0c636"/>
<rect x="305.50" y="204.30" width="9.00" height="6.20" fill="#c1c32d"/>
<rect x="313.70" y="204.30" width="9.00" height="6.20" fill="#f5ba3a"/>
<rect x="321.90" y="204.30" width="9.00" height="6.20" fill="#fec13a"/>
<rect x="330.10" y="204.30" width="9.00" height="6.20" fill="#fdcc32"/>
<rect x="338.30" y="204.30" width="9.00" height="6.20" fill="#fad42e"/>
<rect x="346.50" y="204.30" width="9.00" height="6.20" fill="#f6e028"/>
<rect x="354.70" y="204.30" width="9.00" height="6.20" fill="#f5e825"/>
<rect x="362.90" y="204.30" width="8.20" height="6.20" fill="#f9fb15"/>
<path d="M297.30 154.70V210.50H371.10" fill="none" stroke="#262626" stroke-width="0.6" stroke-opacity="0.6"/>
<text x="301.50" y="222.70" font-size="9.5" text-anchor="middle" fill="#333" letter-spacing="0.2">1</text>
<text x="309.70" y="222.70" font-size="9.5" text-anchor="middle" fill="#333" letter-spacing="0.2">2</text>
<text x="317.90" y="222.70" font-size="9.5" text-anchor="middle" fill="#333" letter-spacing="0.2">3</text>
<text x="326.10" y="222.70" font-size="9.5" text-anchor="middle" fill="#333" letter-spacing="0.2">4</text>
<text x="334.30" y="222.70" font-size="9.5" text-anchor="middle" fill="#333" letter-spacing="0.2">5</text>
<text x="342.50" y="222.70" font-size="9.5" text-anchor="middle" fill="#333" letter-spacing="0.2">6</text>
<text x="350.70" y="222.70" font-size="9.5" text-anchor="middle" fill="#333" letter-spacing="0.2">7</text>
<text x="358.90" y="222.70" font-size="9.5" text-anchor="middle" fill="#333" letter-spacing="0.2">8</text>
<text x="367.10" y="222.70" font-size="9.5" text-anchor="middle" fill="#333" letter-spacing="0.2">9</text>
<text x="334.20" y="233.90" font-size="9.5" text-anchor="middle" fill="#222" letter-spacing="0.6">inputs</text>
<text transform="translate(293.90,161.00) scale(0.78,1)" font-size="9" text-anchor="end" fill="#222">1</text>
<text transform="translate(293.90,167.20) scale(0.78,1)" font-size="9" text-anchor="end" fill="#222">2</text>
<text transform="translate(293.90,173.40) scale(0.78,1)" font-size="9" text-anchor="end" fill="#222">3</text>
<text transform="translate(293.90,179.60) scale(0.78,1)" font-size="9" text-anchor="end" fill="#222">4</text>
<text transform="translate(293.90,185.80) scale(0.78,1)" font-size="9" text-anchor="end" fill="#222">5</text>
<text transform="translate(293.90,192.00) scale(0.78,1)" font-size="9" text-anchor="end" fill="#222">6</text>
<text transform="translate(293.90,198.20) scale(0.78,1)" font-size="9" text-anchor="end" fill="#222">7</text>
<text transform="translate(293.90,204.40) scale(0.78,1)" font-size="9" text-anchor="end" fill="#222">8</text>
<text transform="translate(293.90,210.60) scale(0.78,1)" font-size="9" text-anchor="end" fill="#222">9</text>
<text transform="translate(284.00,182.60) rotate(-90)" font-size="9.5" text-anchor="middle" fill="#222" letter-spacing="0.6">inputs</text>
<text x="461.20" y="29.30" font-size="9.5" text-anchor="middle" font-weight="bold" fill="#000" letter-spacing="0.02">(d) IPS</text>
<rect x="424.30" y="32.50" width="9.00" height="7.00" fill="#f9fb15"/>
<rect x="432.50" y="32.50" width="9.00" height="7.00" fill="#fdbd3d"/>
<rect x="440.70" y="32.50" width="9.00" height="7.00" fill="#fec437"/>
<rect x="448.90" y="32.50" width="9.00" height="7.00" fill="#fec437"/>
<rect x="457.10" y="32.50" width="9.00" height="7.00" fill="#fec437"/>
<rect x="465.30" y="32.50" width="9.00" height="7.00" fill="#fec437"/>
<rect x="473.50" y="32.50" width="9.00" height="7.00" fill="#fec437"/>
<rect x="481.70" y="32.50" width="9.00" height="7.00" fill="#fec437"/>
<rect x="489.90" y="32.50" width="8.20" height="7.00" fill="#fec437"/>
<rect x="424.30" y="38.70" width="9.00" height="7.00" fill="#fdbd3d"/>
<rect x="432.50" y="38.70" width="9.00" height="7.00" fill="#f9fb15"/>
<rect x="440.70" y="38.70" width="9.00" height="7.00" fill="#fcd030"/>
<rect x="448.90" y="38.70" width="9.00" height="7.00" fill="#fec339"/>
<rect x="457.10" y="38.70" width="9.00" height="7.00" fill="#fec339"/>
<rect x="465.30" y="38.70" width="9.00" height="7.00" fill="#fec339"/>
<rect x="473.50" y="38.70" width="9.00" height="7.00" fill="#fec339"/>
<rect x="481.70" y="38.70" width="9.00" height="7.00" fill="#fec339"/>
<rect x="489.90" y="38.70" width="8.20" height="7.00" fill="#fec339"/>
<rect x="424.30" y="44.90" width="9.00" height="7.00" fill="#fec437"/>
<rect x="432.50" y="44.90" width="9.00" height="7.00" fill="#fcd030"/>
<rect x="440.70" y="44.90" width="9.00" height="7.00" fill="#f9fb15"/>
<rect x="448.90" y="44.90" width="9.00" height="7.00" fill="#f5ea24"/>
<rect x="457.10" y="44.90" width="9.00" height="7.00" fill="#f5e825"/>
<rect x="465.30" y="44.90" width="9.00" height="7.00" fill="#f5e626"/>
<rect x="473.50" y="44.90" width="9.00" height="7.00" fill="#f5e427"/>
<rect x="481.70" y="44.90" width="9.00" height="7.00" fill="#f5e427"/>
<rect x="489.90" y="44.90" width="8.20" height="7.00" fill="#f5e227"/>
<rect x="424.30" y="51.10" width="9.00" height="7.00" fill="#fec437"/>
<rect x="432.50" y="51.10" width="9.00" height="7.00" fill="#fec339"/>
<rect x="440.70" y="51.10" width="9.00" height="7.00" fill="#f5ea24"/>
<rect x="448.90" y="51.10" width="9.00" height="7.00" fill="#f9fb15"/>
<rect x="457.10" y="51.10" width="9.00" height="7.00" fill="#f5ee21"/>
<rect x="465.30" y="51.10" width="9.00" height="7.00" fill="#f5ea24"/>
<rect x="473.50" y="51.10" width="9.00" height="7.00" fill="#f5e825"/>
<rect x="481.70" y="51.10" width="9.00" height="7.00" fill="#f5e626"/>
<rect x="489.90" y="51.10" width="8.20" height="7.00" fill="#f5e427"/>
<rect x="424.30" y="57.30" width="9.00" height="7.00" fill="#fec437"/>
<rect x="432.50" y="57.30" width="9.00" height="7.00" fill="#fec339"/>
<rect x="440.70" y="57.30" width="9.00" height="7.00" fill="#f5e825"/>
<rect x="448.90" y="57.30" width="9.00" height="7.00" fill="#f5ee21"/>
<rect x="457.10" y="57.30" width="9.00" height="7.00" fill="#f9fb15"/>
<rect x="465.30" y="57.30" width="9.00" height="7.00" fill="#f6f020"/>
<rect x="473.50" y="57.30" width="9.00" height="7.00" fill="#f5ec22"/>
<rect x="481.70" y="57.30" width="9.00" height="7.00" fill="#f5ea24"/>
<rect x="489.90" y="57.30" width="8.20" height="7.00" fill="#f5e825"/>
<rect x="424.30" y="63.50" width="9.00" height="7.00" fill="#fec437"/>
<rect x="432.50" y="63.50" width="9.00" height="7.00" fill="#fec339"/>
<rect x="440.70" y="63.50" width="9.00" height="7.00" fill="#f5e626"/>
<rect x="448.90" y="63.50" width="9.00" height="7.00" fill="#f5ea24"/>
<rect x="457.10" y="63.50" width="9.00" height="7.00" fill="#f6f020"/>
<rect x="465.30" y="63.50" width="9.00" height="7.00" fill="#f9fb15"/>
<rect x="473.50" y="63.50" width="9.00" height="7.00" fill="#f6f21e"/>
<rect x="481.70" y="63.50" width="9.00" height="7.00" fill="#f5ee21"/>
<rect x="489.90" y="63.50" width="8.20" height="7.00" fill="#f5ec22"/>
<rect x="424.30" y="69.70" width="9.00" height="7.00" fill="#fec437"/>
<rect x="432.50" y="69.70" width="9.00" height="7.00" fill="#fec339"/>
<rect x="440.70" y="69.70" width="9.00" height="7.00" fill="#f5e427"/>
<rect x="448.90" y="69.70" width="9.00" height="7.00" fill="#f5e825"/>
<rect x="457.10" y="69.70" width="9.00" height="7.00" fill="#f5ec22"/>
<rect x="465.30" y="69.70" width="9.00" height="7.00" fill="#f6f21e"/>
<rect x="473.50" y="69.70" width="9.00" height="7.00" fill="#f9fb15"/>
<rect x="481.70" y="69.70" width="9.00" height="7.00" fill="#f6f21e"/>
<rect x="489.90" y="69.70" width="8.20" height="7.00" fill="#f6f020"/>
<rect x="424.30" y="75.90" width="9.00" height="7.00" fill="#fec437"/>
<rect x="432.50" y="75.90" width="9.00" height="7.00" fill="#fec339"/>
<rect x="440.70" y="75.90" width="9.00" height="7.00" fill="#f5e427"/>
<rect x="448.90" y="75.90" width="9.00" height="7.00" fill="#f5e626"/>
<rect x="457.10" y="75.90" width="9.00" height="7.00" fill="#f5ea24"/>
<rect x="465.30" y="75.90" width="9.00" height="7.00" fill="#f5ee21"/>
<rect x="473.50" y="75.90" width="9.00" height="7.00" fill="#f6f21e"/>
<rect x="481.70" y="75.90" width="9.00" height="7.00" fill="#f9fb15"/>
<rect x="489.90" y="75.90" width="8.20" height="7.00" fill="#f6f21e"/>
<rect x="424.30" y="82.10" width="9.00" height="6.20" fill="#fec437"/>
<rect x="432.50" y="82.10" width="9.00" height="6.20" fill="#fec339"/>
<rect x="440.70" y="82.10" width="9.00" height="6.20" fill="#f5e227"/>
<rect x="448.90" y="82.10" width="9.00" height="6.20" fill="#f5e427"/>
<rect x="457.10" y="82.10" width="9.00" height="6.20" fill="#f5e825"/>
<rect x="465.30" y="82.10" width="9.00" height="6.20" fill="#f5ec22"/>
<rect x="473.50" y="82.10" width="9.00" height="6.20" fill="#f6f020"/>
<rect x="481.70" y="82.10" width="9.00" height="6.20" fill="#f6f21e"/>
<rect x="489.90" y="82.10" width="8.20" height="6.20" fill="#f9fb15"/>
<path d="M424.30 32.50V88.30H498.10" fill="none" stroke="#262626" stroke-width="0.6" stroke-opacity="0.6"/>
<text x="428.50" y="100.50" font-size="9.5" text-anchor="middle" fill="#333" letter-spacing="0.2">1</text>
<text x="436.70" y="100.50" font-size="9.5" text-anchor="middle" fill="#333" letter-spacing="0.2">2</text>
<text x="444.90" y="100.50" font-size="9.5" text-anchor="middle" fill="#333" letter-spacing="0.2">3</text>
<text x="453.10" y="100.50" font-size="9.5" text-anchor="middle" fill="#333" letter-spacing="0.2">4</text>
<text x="461.30" y="100.50" font-size="9.5" text-anchor="middle" fill="#333" letter-spacing="0.2">5</text>
<text x="469.50" y="100.50" font-size="9.5" text-anchor="middle" fill="#333" letter-spacing="0.2">6</text>
<text x="477.70" y="100.50" font-size="9.5" text-anchor="middle" fill="#333" letter-spacing="0.2">7</text>
<text x="485.90" y="100.50" font-size="9.5" text-anchor="middle" fill="#333" letter-spacing="0.2">8</text>
<text x="494.10" y="100.50" font-size="9.5" text-anchor="middle" fill="#333" letter-spacing="0.2">9</text>
<text x="461.20" y="111.70" font-size="9.5" text-anchor="middle" fill="#222" letter-spacing="0.6">inputs</text>
<text transform="translate(420.90,38.80) scale(0.78,1)" font-size="9" text-anchor="end" fill="#222">1</text>
<text transform="translate(420.90,45.00) scale(0.78,1)" font-size="9" text-anchor="end" fill="#222">2</text>
<text transform="translate(420.90,51.20) scale(0.78,1)" font-size="9" text-anchor="end" fill="#222">3</text>
<text transform="translate(420.90,57.40) scale(0.78,1)" font-size="9" text-anchor="end" fill="#222">4</text>
<text transform="translate(420.90,63.60) scale(0.78,1)" font-size="9" text-anchor="end" fill="#222">5</text>
<text transform="translate(420.90,69.80) scale(0.78,1)" font-size="9" text-anchor="end" fill="#222">6</text>
<text transform="translate(420.90,76.00) scale(0.78,1)" font-size="9" text-anchor="end" fill="#222">7</text>
<text transform="translate(420.90,82.20) scale(0.78,1)" font-size="9" text-anchor="end" fill="#222">8</text>
<text transform="translate(420.90,88.40) scale(0.78,1)" font-size="9" text-anchor="end" fill="#222">9</text>
<text transform="translate(411.00,60.40) rotate(-90)" font-size="9.5" text-anchor="middle" fill="#222" letter-spacing="0.6">inputs</text>
<text x="461.20" y="151.50" font-size="9.5" text-anchor="middle" font-weight="bold" fill="#000" letter-spacing="0.02">(d) IPS</text>
<rect x="424.30" y="154.70" width="9.00" height="7.00" fill="#f9fb15"/>
<rect x="432.50" y="154.70" width="9.00" height="7.00" fill="#c8c129"/>
<rect x="440.70" y="154.70" width="9.00" height="7.00" fill="#12beb9"/>
<rect x="448.90" y="154.70" width="9.00" height="7.00" fill="#1caadf"/>
<rect x="457.10" y="154.70" width="9.00" height="7.00" fill="#2d8cf3"/>
<rect x="465.30" y="154.70" width="9.00" height="7.00" fill="#3f6eff"/>
<rect x="473.50" y="154.70" width="9.00" height="7.00" fill="#484aee"/>
<rect x="481.70" y="154.70" width="9.00" height="7.00" fill="#4539d9"/>
<rect x="489.90" y="154.70" width="8.20" height="7.00" fill="#402bb7"/>
<rect x="424.30" y="160.90" width="9.00" height="7.00" fill="#c8c129"/>
<rect x="432.50" y="160.90" width="9.00" height="7.00" fill="#f9fb15"/>
<rect x="440.70" y="160.90" width="9.00" height="7.00" fill="#eaba31"/>
<rect x="448.90" y="160.90" width="9.00" height="7.00" fill="#21c1b0"/>
<rect x="457.10" y="160.90" width="9.00" height="7.00" fill="#05b6ce"/>
<rect x="465.30" y="160.90" width="9.00" height="7.00" fill="#22a1e4"/>
<rect x="473.50" y="160.90" width="9.00" height="7.00" fill="#2d8cf3"/>
<rect x="481.70" y="160.90" width="9.00" height="7.00" fill="#3f6eff"/>
<rect x="489.90" y="160.90" width="8.20" height="7.00" fill="#4743e7"/>
<rect x="424.30" y="167.10" width="9.00" height="7.00" fill="#12beb9"/>
<rect x="432.50" y="167.10" width="9.00" height="7.00" fill="#eaba31"/>
<rect x="440.70" y="167.10" width="9.00" height="7.00" fill="#f9fb15"/>
<rect x="448.90" y="167.10" width="9.00" height="7.00" fill="#fdbd3d"/>
<rect x="457.10" y="167.10" width="9.00" height="7.00" fill="#71cd64"/>
<rect x="465.30" y="167.10" width="9.00" height="7.00" fill="#2fc5a2"/>
<rect x="473.50" y="167.10" width="9.00" height="7.00" fill="#05b6ce"/>
<rect x="481.70" y="167.10" width="9.00" height="7.00" fill="#2895ec"/>
<rect x="489.90" y="167.10" width="8.20" height="7.00" fill="#465ffb"/>
<rect x="424.30" y="173.30" width="9.00" height="7.00" fill="#1caadf"/>
<rect x="432.50" y="173.30" width="9.00" height="7.00" fill="#21c1b0"/>
<rect x="440.70" y="173.30" width="9.00" height="7.00" fill="#fdbd3d"/>
<rect x="448.90" y="173.30" width="9.00" height="7.00" fill="#f9fb15"/>
<rect x="457.10" y="173.30" width="9.00" height="7.00" fill="#fdbd3d"/>
<rect x="465.30" y="173.30" width="9.00" height="7.00" fill="#8dcb4f"/>
<rect x="473.50" y="173.30" width="9.00" height="7.00" fill="#2fc5a2"/>
<rect x="481.70" y="173.30" width="9.00" height="7.00" fill="#11b1d6"/>
<rect x="489.90" y="173.30" width="8.20" height="7.00" fill="#2d8cf3"/>
<rect x="424.30" y="179.50" width="9.00" height="7.00" fill="#2d8cf3"/>
<rect x="432.50" y="179.50" width="9.00" height="7.00" fill="#05b6ce"/>
<rect x="440.70" y="179.50" width="9.00" height="7.00" fill="#71cd64"/>
<rect x="448.90" y="179.50" width="9.00" height="7.00" fill="#fdbd3d"/>
<rect x="457.10" y="179.50" width="9.00" height="7.00" fill="#f9fb15"/>
<rect x="465.30" y="179.50" width="9.00" height="7.00" fill="#fdbd3d"/>
<rect x="473.50" y="179.50" width="9.00" height="7.00" fill="#8dcb4f"/>
<rect x="481.70" y="179.50" width="9.00" height="7.00" fill="#21c1b0"/>
<rect x="489.90" y="179.50" width="8.20" height="7.00" fill="#259ce7"/>
<rect x="424.30" y="185.70" width="9.00" height="7.00" fill="#3f6eff"/>
<rect x="432.50" y="185.70" width="9.00" height="7.00" fill="#22a1e4"/>
<rect x="440.70" y="185.70" width="9.00" height="7.00" fill="#2fc5a2"/>
<rect x="448.90" y="185.70" width="9.00" height="7.00" fill="#8dcb4f"/>
<rect x="457.10" y="185.70" width="9.00" height="7.00" fill="#fdbd3d"/>
<rect x="465.30" y="185.70" width="9.00" height="7.00" fill="#f9fb15"/>
<rect x="473.50" y="185.70" width="9.00" height="7.00" fill="#fdbd3d"/>
<rect x="481.70" y="185.70" width="9.00" height="7.00" fill="#58cc79"/>
<rect x="489.90" y="185.70" width="8.20" height="7.00" fill="#05b6ce"/>
<rect x="424.30" y="191.90" width="9.00" height="7.00" fill="#484aee"/>
<rect x="432.50" y="191.90" width="9.00" height="7.00" fill="#2d8cf3"/>
<rect x="440.70" y="191.90" width="9.00" height="7.00" fill="#05b6ce"/>
<rect x="448.90" y="191.90" width="9.00" height="7.00" fill="#2fc5a2"/>
<rect x="457.10" y="191.90" width="9.00" height="7.00" fill="#8dcb4f"/>
<rect x="465.30" y="191.90" width="9.00" height="7.00" fill="#fdbd3d"/>
<rect x="473.50" y="191.90" width="9.00" height="7.00" fill="#f9fb15"/>
<rect x="481.70" y="191.90" width="9.00" height="7.00" fill="#fabb3d"/>
<rect x="489.90" y="191.90" width="8.20" height="7.00" fill="#48cb86"/>
<rect x="424.30" y="198.10" width="9.00" height="7.00" fill="#4539d9"/>
<rect x="432.50" y="198.10" width="9.00" height="7.00" fill="#3f6eff"/>
<rect x="440.70" y="198.10" width="9.00" height="7.00" fill="#2895ec"/>
<rect x="448.90" y="198.10" width="9.00" height="7.00" fill="#11b1d6"/>
<rect x="457.10" y="198.10" width="9.00" height="7.00" fill="#21c1b0"/>
<rect x="465.30" y="198.10" width="9.00" height="7.00" fill="#58cc79"/>
<rect x="473.50" y="198.10" width="9.00" height="7.00" fill="#fabb3d"/>
<rect x="481.70" y="198.10" width="9.00" height="7.00" fill="#f9fb15"/>
<rect x="489.90" y="198.10" width="8.20" height="7.00" fill="#eaba31"/>
<rect x="424.30" y="204.30" width="9.00" height="6.20" fill="#402bb7"/>
<rect x="432.50" y="204.30" width="9.00" height="6.20" fill="#4743e7"/>
<rect x="440.70" y="204.30" width="9.00" height="6.20" fill="#465ffb"/>
<rect x="448.90" y="204.30" width="9.00" height="6.20" fill="#2d8cf3"/>
<rect x="457.10" y="204.30" width="9.00" height="6.20" fill="#259ce7"/>
<rect x="465.30" y="204.30" width="9.00" height="6.20" fill="#05b6ce"/>
<rect x="473.50" y="204.30" width="9.00" height="6.20" fill="#48cb86"/>
<rect x="481.70" y="204.30" width="9.00" height="6.20" fill="#eaba31"/>
<rect x="489.90" y="204.30" width="8.20" height="6.20" fill="#f9fb15"/>
<path d="M424.30 154.70V210.50H498.10" fill="none" stroke="#262626" stroke-width="0.6" stroke-opacity="0.6"/>
<text x="428.50" y="222.70" font-size="9.5" text-anchor="middle" fill="#333" letter-spacing="0.2">1</text>
<text x="436.70" y="222.70" font-size="9.5" text-anchor="middle" fill="#333" letter-spacing="0.2">2</text>
<text x="444.90" y="222.70" font-size="9.5" text-anchor="middle" fill="#333" letter-spacing="0.2">3</text>
<text x="453.10" y="222.70" font-size="9.5" text-anchor="middle" fill="#333" letter-spacing="0.2">4</text>
<text x="461.30" y="222.70" font-size="9.5" text-anchor="middle" fill="#333" letter-spacing="0.2">5</text>
<text x="469.50" y="222.70" font-size="9.5" text-anchor="middle" fill="#333" letter-spacing="0.2">6</text>
<text x="477.70" y="222.70" font-size="9.5" text-anchor="middle" fill="#333" letter-spacing="0.2">7</text>
<text x="485.90" y="222.70" font-size="9.5" text-anchor="middle" fill="#333" letter-spacing="0.2">8</text>
<text x="494.10" y="222.70" font-size="9.5" text-anchor="middle" fill="#333" letter-spacing="0.2">9</text>
<text x="461.20" y="233.90" font-size="9.5" text-anchor="middle" fill="#222" letter-spacing="0.6">inputs</text>
<text transform="translate(420.90,161.00) scale(0.78,1)" font-size="9" text-anchor="end" fill="#222">1</text>
<text transform="translate(420.90,167.20) scale(0.78,1)" font-size="9" text-anchor="end" fill="#222">2</text>
<text transform="translate(420.90,173.40) scale(0.78,1)" font-size="9" text-anchor="end" fill="#222">3</text>
<text transform="translate(420.90,179.60) scale(0.78,1)" font-size="9" text-anchor="end" fill="#222">4</text>
<text transform="translate(420.90,185.80) scale(0.78,1)" font-size="9" text-anchor="end" fill="#222">5</text>
<text transform="translate(420.90,192.00) scale(0.78,1)" font-size="9" text-anchor="end" fill="#222">6</text>
<text transform="translate(420.90,198.20) scale(0.78,1)" font-size="9" text-anchor="end" fill="#222">7</text>
<text transform="translate(420.90,204.40) scale(0.78,1)" font-size="9" text-anchor="end" fill="#222">8</text>
<text transform="translate(420.90,210.60) scale(0.78,1)" font-size="9" text-anchor="end" fill="#222">9</text>
<text transform="translate(411.00,182.60) rotate(-90)" font-size="9.5" text-anchor="middle" fill="#222" letter-spacing="0.6">inputs</text>
<rect x="646" y="28.9" width="14" height="65.70" fill="url(#parula)" stroke="#555" stroke-width="0.5"/>
<text x="663.50" y="31.50" font-size="7" text-anchor="start" fill="#444" >1</text>
<text x="663.50" y="65.25" font-size="7" text-anchor="start" fill="#444" >0.5</text>
<text x="663.50" y="97.60" font-size="7" text-anchor="start" fill="#444" >0</text>
<rect x="646" y="153.4" width="14" height="65.80" fill="url(#parula)" stroke="#555" stroke-width="0.5"/>
<text x="663.50" y="156.00" font-size="7" text-anchor="start" fill="#444" >1</text>
<text x="663.50" y="189.80" font-size="7" text-anchor="start" fill="#444" >0.5</text>
<text x="663.50" y="222.20" font-size="7" text-anchor="start" fill="#444" >0</text>
<text x="6.00" y="259.10" font-size="11" text-anchor="start" font-weight="bold" fill="#000" letter-spacing="0.25">C. NRS based NDE: Pre-trained</text>
<text x="6.00" y="381.30" font-size="11" text-anchor="start" font-weight="bold" fill="#000" letter-spacing="0.25">D. NRS based NDE: Post-training</text>
<text x="6.00" y="503.50" font-size="11" text-anchor="start" font-weight="bold" fill="#000" letter-spacing="0.41">E. NRS vs Input log-ratio: Pre-trained</text>
<text x="6.00" y="625.70" font-size="11" text-anchor="start" font-weight="bold" fill="#000" letter-spacing="0.41">F. NRS vs Input log-ratio: Post-training</text>
<text x="80.20" y="273.90" font-size="9.5" text-anchor="middle" font-weight="bold" fill="#000" letter-spacing="0.3">(a) All</text>
<path d="M43.30 321.54H117.10M43.30 310.38H117.10M43.30 299.22H117.10M43.30 288.06H117.10M45.30 276.90V332.70M55.30 276.90V332.70M65.30 276.90V332.70M75.30 276.90V332.70M85.30 276.90V332.70M95.30 276.90V332.70M105.30 276.90V332.70M115.30 276.90V332.70" stroke="#ebebeb" stroke-width="0.9" fill="none"/>
<path d="M43.30 276.90V332.70" stroke="#3a3a3a" stroke-width="0.8" fill="none"/>
<text x="40.30" y="336.00" font-size="9.5" text-anchor="end" fill="#333" letter-spacing="0.2">0</text>
<text x="40.30" y="324.84" font-size="9.5" text-anchor="end" fill="#333" letter-spacing="0.2">0.2</text>
<text x="40.30" y="313.68" font-size="9.5" text-anchor="end" fill="#333" letter-spacing="0.2">0.4</text>
<text x="40.30" y="302.52" font-size="9.5" text-anchor="end" fill="#333" letter-spacing="0.2">0.6</text>
<text x="40.30" y="291.36" font-size="9.5" text-anchor="end" fill="#333" letter-spacing="0.2">0.8</text>
<text x="45.40" y="344.80" font-size="9.5" text-anchor="middle" fill="#333" letter-spacing="0.2">1</text>
<text x="55.40" y="344.80" font-size="9.5" text-anchor="middle" fill="#333" letter-spacing="0.2">2</text>
<text x="65.40" y="344.80" font-size="9.5" text-anchor="middle" fill="#333" letter-spacing="0.2">3</text>
<text x="75.40" y="344.80" font-size="9.5" text-anchor="middle" fill="#333" letter-spacing="0.2">4</text>
<text x="85.40" y="344.80" font-size="9.5" text-anchor="middle" fill="#333" letter-spacing="0.2">5</text>
<text x="95.40" y="344.80" font-size="9.5" text-anchor="middle" fill="#333" letter-spacing="0.2">6</text>
<text x="105.40" y="344.80" font-size="9.5" text-anchor="middle" fill="#333" letter-spacing="0.2">7</text>
<text x="115.40" y="344.80" font-size="9.5" text-anchor="middle" fill="#333" letter-spacing="0.2">8</text>
<text x="80.20" y="356.90" font-size="9.5" text-anchor="middle" fill="#222" letter-spacing="0.46">Input distance</text>
<text transform="translate(22.40,304.80) rotate(-90)" font-size="9.5" text-anchor="middle" fill="#222" letter-spacing="0.54">Dissimilarity</text>
<path d="M47.30 333.00H117.00" stroke="#bdbdbd" stroke-width="1.2" fill="none"/>
<path d="M48.30 330.61L52.30 330.43M58.30 330.18L62.30 330.03M68.30 329.78L72.30 329.60M78.30 329.33L82.30 329.15M88.30 328.88L92.30 328.70M98.30 328.47L102.30 328.34M108.30 328.24L112.30 328.24" stroke="#4a98fb" stroke-width="1.6" fill="none"/>
<circle cx="45.30" cy="330.75" r="2.3" fill="#4a98fb" stroke="#fff" stroke-width="0.9"/>
<circle cx="55.30" cy="330.30" r="2.3" fill="#4a98fb" stroke="#fff" stroke-width="0.9"/>
<circle cx="65.30" cy="329.91" r="2.3" fill="#4a98fb" stroke="#fff" stroke-width="0.9"/>
<circle cx="75.30" cy="329.46" r="2.3" fill="#4a98fb" stroke="#fff" stroke-width="0.9"/>
<circle cx="85.30" cy="329.02" r="2.3" fill="#4a98fb" stroke="#fff" stroke-width="0.9"/>
<circle cx="95.30" cy="328.57" r="2.3" fill="#4a98fb" stroke="#fff" stroke-width="0.9"/>
<circle cx="105.30" cy="328.24" r="2.3" fill="#4a98fb" stroke="#fff" stroke-width="0.9"/>
<circle cx="115.30" cy="328.24" r="2.3" fill="#4a98fb" stroke="#fff" stroke-width="0.9"/>
<path d="M48.30 330.47L52.30 330.24M58.29 329.84L62.31 329.53M68.29 329.05L72.31 328.71M78.29 328.23L82.31 327.91M88.29 327.44L92.31 327.13M98.28 326.56L102.32 326.11M108.30 325.85L112.30 325.94" stroke="#35b835" stroke-width="1.6" fill="none"/>
<circle cx="45.30" cy="330.64" r="2.3" fill="#35b835" stroke="#fff" stroke-width="0.9"/>
<circle cx="55.30" cy="330.08" r="2.3" fill="#35b835" stroke="#fff" stroke-width="0.9"/>
<circle cx="65.30" cy="329.30" r="2.3" fill="#35b835" stroke="#fff" stroke-width="0.9"/>
<circle cx="75.30" cy="328.46" r="2.3" fill="#35b835" stroke="#fff" stroke-width="0.9"/>
<circle cx="85.30" cy="327.68" r="2.3" fill="#35b835" stroke="#fff" stroke-width="0.9"/>
<circle cx="95.30" cy="326.90" r="2.3" fill="#35b835" stroke="#fff" stroke-width="0.9"/>
<circle cx="105.30" cy="325.78" r="2.3" fill="#35b835" stroke="#fff" stroke-width="0.9"/>
<circle cx="115.30" cy="326.00" r="2.3" fill="#35b835" stroke="#fff" stroke-width="0.9"/>
<path d="M48.30 330.30L52.30 330.08M58.29 329.66L62.31 329.32M68.29 328.82L72.31 328.49M78.29 327.99L82.31 327.65M88.29 327.15L92.31 326.81M98.28 326.23L102.32 325.78M108.30 325.53L112.30 325.64" stroke="#c83636" stroke-width="1.6" fill="none"/>
<circle cx="45.30" cy="330.47" r="2.3" fill="#c83636" stroke="#fff" stroke-width="0.9"/>
<circle cx="55.30" cy="329.91" r="2.3" fill="#c83636" stroke="#fff" stroke-width="0.9"/>
<circle cx="65.30" cy="329.07" r="2.3" fill="#c83636" stroke="#fff" stroke-width="0.9"/>
<circle cx="75.30" cy="328.24" r="2.3" fill="#c83636" stroke="#fff" stroke-width="0.9"/>
<circle cx="85.30" cy="327.40" r="2.3" fill="#c83636" stroke="#fff" stroke-width="0.9"/>
<circle cx="95.30" cy="326.56" r="2.3" fill="#c83636" stroke="#fff" stroke-width="0.9"/>
<circle cx="105.30" cy="325.45" r="2.3" fill="#c83636" stroke="#fff" stroke-width="0.9"/>
<circle cx="115.30" cy="325.73" r="2.3" fill="#c83636" stroke="#fff" stroke-width="0.9"/>
<path d="M48.29 329.66L52.31 329.32M58.29 328.82L62.31 328.49M68.28 327.90L72.32 327.45M78.29 326.87L82.31 326.53M88.27 325.87L92.33 325.30M98.27 324.47L102.33 323.91M108.30 323.58L112.30 323.69" stroke="#3a3ad0" stroke-width="1.6" fill="none"/>
<circle cx="45.30" cy="329.91" r="2.3" fill="#3a3ad0" stroke="#fff" stroke-width="0.9"/>
<circle cx="55.30" cy="329.07" r="2.3" fill="#3a3ad0" stroke="#fff" stroke-width="0.9"/>
<circle cx="65.30" cy="328.24" r="2.3" fill="#3a3ad0" stroke="#fff" stroke-width="0.9"/>
<circle cx="75.30" cy="327.12" r="2.3" fill="#3a3ad0" stroke="#fff" stroke-width="0.9"/>
<circle cx="85.30" cy="326.28" r="2.3" fill="#3a3ad0" stroke="#fff" stroke-width="0.9"/>
<circle cx="95.30" cy="324.89" r="2.3" fill="#3a3ad0" stroke="#fff" stroke-width="0.9"/>
<circle cx="105.30" cy="323.49" r="2.3" fill="#3a3ad0" stroke="#fff" stroke-width="0.9"/>
<circle cx="115.30" cy="323.77" r="2.3" fill="#3a3ad0" stroke="#fff" stroke-width="0.9"/>
<text x="80.20" y="395.60" font-size="9.5" text-anchor="middle" font-weight="bold" fill="#000" letter-spacing="0.3">(a) All</text>
<path d="M43.30 443.24H117.10M43.30 432.08H117.10M43.30 420.92H117.10M43.30 409.76H117.10M45.30 398.60V454.40M55.30 398.60V454.40M65.30 398.60V454.40M75.30 398.60V454.40M85.30 398.60V454.40M95.30 398.60V454.40M105.30 398.60V454.40M115.30 398.60V454.40" stroke="#ebebeb" stroke-width="0.9" fill="none"/>
<path d="M43.30 398.60V454.40" stroke="#3a3a3a" stroke-width="0.8" fill="none"/>
<text x="40.30" y="457.70" font-size="9.5" text-anchor="end" fill="#333" letter-spacing="0.2">0</text>
<text x="40.30" y="446.54" font-size="9.5" text-anchor="end" fill="#333" letter-spacing="0.2">0.2</text>
<text x="40.30" y="435.38" font-size="9.5" text-anchor="end" fill="#333" letter-spacing="0.2">0.4</text>
<text x="40.30" y="424.22" font-size="9.5" text-anchor="end" fill="#333" letter-spacing="0.2">0.6</text>
<text x="40.30" y="413.06" font-size="9.5" text-anchor="end" fill="#333" letter-spacing="0.2">0.8</text>
<text x="45.40" y="466.50" font-size="9.5" text-anchor="middle" fill="#333" letter-spacing="0.2">1</text>
<text x="55.40" y="466.50" font-size="9.5" text-anchor="middle" fill="#333" letter-spacing="0.2">2</text>
<text x="65.40" y="466.50" font-size="9.5" text-anchor="middle" fill="#333" letter-spacing="0.2">3</text>
<text x="75.40" y="466.50" font-size="9.5" text-anchor="middle" fill="#333" letter-spacing="0.2">4</text>
<text x="85.40" y="466.50" font-size="9.5" text-anchor="middle" fill="#333" letter-spacing="0.2">5</text>
<text x="95.40" y="466.50" font-size="9.5" text-anchor="middle" fill="#333" letter-spacing="0.2">6</text>
<text x="105.40" y="466.50" font-size="9.5" text-anchor="middle" fill="#333" letter-spacing="0.2">7</text>
<text x="115.40" y="466.50" font-size="9.5" text-anchor="middle" fill="#333" letter-spacing="0.2">8</text>
<text x="80.20" y="478.60" font-size="9.5" text-anchor="middle" fill="#222" letter-spacing="0.46">Input distance</text>
<text transform="translate(22.40,426.50) rotate(-90)" font-size="9.5" text-anchor="middle" fill="#222" letter-spacing="0.54">Dissimilarity</text>
<path d="M47.30 454.70H117.00" stroke="#bdbdbd" stroke-width="1.2" fill="none"/>
<path d="M48.29 452.20L52.31 451.86M58.28 451.28L62.32 450.83M68.28 450.19L72.32 449.79M78.29 449.21L82.31 448.82M88.29 448.29L92.31 447.95M98.28 447.39L102.32 446.96M108.30 446.58L112.30 446.49" stroke="#4a98fb" stroke-width="1.6" fill="none"/>
<circle cx="45.30" cy="452.45" r="2.3" fill="#4a98fb" stroke="#fff" stroke-width="0.9"/>
<circle cx="55.30" cy="451.61" r="2.3" fill="#4a98fb" stroke="#fff" stroke-width="0.9"/>
<circle cx="65.30" cy="450.49" r="2.3" fill="#4a98fb" stroke="#fff" stroke-width="0.9"/>
<circle cx="75.30" cy="449.49" r="2.3" fill="#4a98fb" stroke="#fff" stroke-width="0.9"/>
<circle cx="85.30" cy="448.54" r="2.3" fill="#4a98fb" stroke="#fff" stroke-width="0.9"/>
<circle cx="95.30" cy="447.70" r="2.3" fill="#4a98fb" stroke="#fff" stroke-width="0.9"/>
<circle cx="105.30" cy="446.64" r="2.3" fill="#4a98fb" stroke="#fff" stroke-width="0.9"/>
<circle cx="115.30" cy="446.42" r="2.3" fill="#4a98fb" stroke="#fff" stroke-width="0.9"/>
<path d="M48.28 451.84L52.32 451.38M58.27 450.64L62.33 450.07M68.27 449.24L72.33 448.68M78.25 447.72L82.35 446.96M88.29 446.14L92.31 445.76M98.29 445.24L102.31 444.92M108.29 444.44L112.31 444.10" stroke="#35b835" stroke-width="1.6" fill="none"/>
<circle cx="45.30" cy="452.17" r="2.3" fill="#35b835" stroke="#fff" stroke-width="0.9"/>
<circle cx="55.30" cy="451.05" r="2.3" fill="#35b835" stroke="#fff" stroke-width="0.9"/>
<circle cx="65.30" cy="449.66" r="2.3" fill="#35b835" stroke="#fff" stroke-width="0.9"/>
<circle cx="75.30" cy="448.26" r="2.3" fill="#35b835" stroke="#fff" stroke-width="0.9"/>
<circle cx="85.30" cy="446.42" r="2.3" fill="#35b835" stroke="#fff" stroke-width="0.9"/>
<circle cx="95.30" cy="445.47" r="2.3" fill="#35b835" stroke="#fff" stroke-width="0.9"/>
<circle cx="105.30" cy="444.69" r="2.3" fill="#35b835" stroke="#fff" stroke-width="0.9"/>
<circle cx="115.30" cy="443.85" r="2.3" fill="#35b835" stroke="#fff" stroke-width="0.9"/>
<path d="M48.27 451.61L52.33 451.00M58.26 450.04L62.34 449.33M68.23 448.18L72.37 447.28M78.26 446.16L82.34 445.50M88.23 444.40L92.37 443.53M98.26 442.39L102.34 441.69M108.27 440.74L112.33 440.16" stroke="#c83636" stroke-width="1.6" fill="none"/>
<circle cx="45.30" cy="452.06" r="2.3" fill="#c83636" stroke="#fff" stroke-width="0.9"/>
<circle cx="55.30" cy="450.55" r="2.3" fill="#c83636" stroke="#fff" stroke-width="0.9"/>
<circle cx="65.30" cy="448.82" r="2.3" fill="#c83636" stroke="#fff" stroke-width="0.9"/>
<circle cx="75.30" cy="446.64" r="2.3" fill="#c83636" stroke="#fff" stroke-width="0.9"/>
<circle cx="85.30" cy="445.03" r="2.3" fill="#c83636" stroke="#fff" stroke-width="0.9"/>
<circle cx="95.30" cy="442.91" r="2.3" fill="#c83636" stroke="#fff" stroke-width="0.9"/>
<circle cx="105.30" cy="441.18" r="2.3" fill="#c83636" stroke="#fff" stroke-width="0.9"/>
<circle cx="115.30" cy="439.72" r="2.3" fill="#c83636" stroke="#fff" stroke-width="0.9"/>
<path d="M48.25 441.72L52.35 438.06M58.07 433.42L62.53 430.19M68.01 426.36L72.59 423.30M77.92 420.02L82.68 417.36M87.92 414.44L92.68 411.78M97.92 408.86L102.68 406.20M107.96 403.11L112.64 400.23" stroke="#3a3ad0" stroke-width="1.6" fill="none"/>
<circle cx="45.30" cy="444.36" r="2.3" fill="#3a3ad0" stroke="#fff" stroke-width="0.9"/>
<circle cx="55.30" cy="435.43" r="2.3" fill="#3a3ad0" stroke="#fff" stroke-width="0.9"/>
<circle cx="65.30" cy="428.17" r="2.3" fill="#3a3ad0" stroke="#fff" stroke-width="0.9"/>
<circle cx="75.30" cy="421.48" r="2.3" fill="#3a3ad0" stroke="#fff" stroke-width="0.9"/>
<circle cx="85.30" cy="415.90" r="2.3" fill="#3a3ad0" stroke="#fff" stroke-width="0.9"/>
<circle cx="95.30" cy="410.32" r="2.3" fill="#3a3ad0" stroke="#fff" stroke-width="0.9"/>
<circle cx="105.30" cy="404.74" r="2.3" fill="#3a3ad0" stroke="#fff" stroke-width="0.9"/>
<circle cx="115.30" cy="398.60" r="2.3" fill="#3a3ad0" stroke="#fff" stroke-width="0.9"/>
<text x="80.20" y="518.30" font-size="9.5" text-anchor="middle" font-weight="bold" fill="#000" letter-spacing="0.3">(a) All</text>
<path d="M43.30 565.94H117.10M43.30 554.78H117.10M43.30 543.62H117.10M43.30 532.46H117.10M60.05 521.30V577.10M76.80 521.30V577.10M93.55 521.30V577.10M110.30 521.30V577.10" stroke="#ebebeb" stroke-width="0.9" fill="none"/>
<path d="M43.30 521.30V577.10" stroke="#3a3a3a" stroke-width="0.8" fill="none"/>
<text x="40.30" y="580.40" font-size="9.5" text-anchor="end" fill="#333" letter-spacing="0.2">0</text>
<text x="40.30" y="569.24" font-size="9.5" text-anchor="end" fill="#333" letter-spacing="0.2">0.2</text>
<text x="40.30" y="558.08" font-size="9.5" text-anchor="end" fill="#333" letter-spacing="0.2">0.4</text>
<text x="40.30" y="546.92" font-size="9.5" text-anchor="end" fill="#333" letter-spacing="0.2">0.6</text>
<text x="40.30" y="535.76" font-size="9.5" text-anchor="end" fill="#333" letter-spacing="0.2">0.8</text>
<text x="43.40" y="589.20" font-size="9.5" text-anchor="middle" fill="#333" letter-spacing="0.2">0</text>
<text x="60.15" y="589.20" font-size="9.5" text-anchor="middle" fill="#333" letter-spacing="0.2">0.5</text>
<text x="76.90" y="589.20" font-size="9.5" text-anchor="middle" fill="#333" letter-spacing="0.2">1</text>
<text x="93.65" y="589.20" font-size="9.5" text-anchor="middle" fill="#333" letter-spacing="0.2">1.5</text>
<text x="110.40" y="589.20" font-size="9.5" text-anchor="middle" fill="#333" letter-spacing="0.2">2</text>
<text x="80.20" y="601.30" font-size="9.5" text-anchor="middle" fill="#222" letter-spacing="0.62">Input log-ratio</text>
<text transform="translate(22.40,549.20) rotate(-90)" font-size="9.5" text-anchor="middle" fill="#222" letter-spacing="0.54">Dissimilarity</text>
<path d="M64.41 577.40H117.00" stroke="#bdbdbd" stroke-width="1.2" fill="none"/>
<path d="M86.38 574.87L88.63 574.87M91.10 574.82L96.59 574.62M98.59 574.55L104.09 574.35M106.09 574.28L111.58 574.08M114.04 573.95L115.80 573.83" stroke="#4a98fb" stroke-width="1.6" fill="none"/>
<path d="M67.60 574.15L72.90 573.36M75.07 573.00L79.03 572.28M81.20 571.90L84.19 571.42M86.34 571.51L88.66 572.09M90.81 572.13L92.61 571.75M94.65 572.05L96.24 572.94M98.30 573.42L102.23 573.24M104.43 573.13L107.39 572.97M109.59 572.85L111.85 572.70M114.04 572.56L115.80 572.43" stroke="#c83636" stroke-width="1.6" fill="none"/>
<path d="M53.23 575.14L54.28 574.04M54.87 573.51L55.71 572.88M56.26 572.96L57.81 575.10M58.19 575.06L59.06 573.00M59.51 572.90L60.76 574.04" stroke="#3a3ad0" stroke-width="1.28" stroke-opacity="0.55" fill="none"/>
<circle cx="63.00" cy="574.09" r="2.3" fill="#3a3ad0" stroke="#fff" stroke-width="0.9"/>
<circle cx="66.52" cy="570.57" r="2.3" fill="#3a3ad0" stroke="#fff" stroke-width="0.9"/>
<circle cx="71.67" cy="572.19" r="2.3" fill="#3a3ad0" stroke="#fff" stroke-width="0.9"/>
<circle cx="73.99" cy="568.28" r="2.3" fill="#3a3ad0" stroke="#fff" stroke-width="0.9"/>
<circle cx="76.13" cy="571.80" r="2.3" fill="#3a3ad0" stroke="#fff" stroke-width="0.9"/>
<circle cx="80.12" cy="569.40" r="2.3" fill="#3a3ad0" stroke="#fff" stroke-width="0.9"/>
<circle cx="85.28" cy="567.61" r="2.3" fill="#3a3ad0" stroke="#fff" stroke-width="0.9"/>
<circle cx="89.73" cy="568.73" r="2.3" fill="#3a3ad0" stroke="#fff" stroke-width="0.9"/>
<circle cx="93.68" cy="567.06" r="2.3" fill="#3a3ad0" stroke="#fff" stroke-width="0.9"/>
<circle cx="97.20" cy="569.29" r="2.3" fill="#3a3ad0" stroke="#fff" stroke-width="0.9"/>
<circle cx="103.33" cy="568.95" r="2.3" fill="#3a3ad0" stroke="#fff" stroke-width="0.9"/>
<circle cx="108.49" cy="568.73" r="2.3" fill="#3a3ad0" stroke="#fff" stroke-width="0.9"/>
<circle cx="112.95" cy="568.17" r="2.3" fill="#3a3ad0" stroke="#fff" stroke-width="0.9"/>
<circle cx="116.90" cy="567.61" r="2.3" fill="#3a3ad0" stroke="#fff" stroke-width="0.9"/>
<text x="80.20" y="640.50" font-size="9.5" text-anchor="middle" font-weight="bold" fill="#000" letter-spacing="0.3">(a) All</text>
<path d="M43.30 688.14H117.10M43.30 676.98H117.10M43.30 665.82H117.10M43.30 654.66H117.10M60.05 643.50V699.30M76.80 643.50V699.30M93.55 643.50V699.30M110.30 643.50V699.30" stroke="#ebebeb" stroke-width="0.9" fill="none"/>
<path d="M43.30 643.50V699.30" stroke="#3a3a3a" stroke-width="0.8" fill="none"/>
<text x="40.30" y="702.60" font-size="9.5" text-anchor="end" fill="#333" letter-spacing="0.2">0</text>
<text x="40.30" y="691.44" font-size="9.5" text-anchor="end" fill="#333" letter-spacing="0.2">0.2</text>
<text x="40.30" y="680.28" font-size="9.5" text-anchor="end" fill="#333" letter-spacing="0.2">0.4</text>
<text x="40.30" y="669.12" font-size="9.5" text-anchor="end" fill="#333" letter-spacing="0.2">0.6</text>
<text x="40.30" y="657.96" font-size="9.5" text-anchor="end" fill="#333" letter-spacing="0.2">0.8</text>
<text x="43.40" y="711.40" font-size="9.5" text-anchor="middle" fill="#333" letter-spacing="0.2">0</text>
<text x="60.15" y="711.40" font-size="9.5" text-anchor="middle" fill="#333" letter-spacing="0.2">0.5</text>
<text x="76.90" y="711.40" font-size="9.5" text-anchor="middle" fill="#333" letter-spacing="0.2">1</text>
<text x="93.65" y="711.40" font-size="9.5" text-anchor="middle" fill="#333" letter-spacing="0.2">1.5</text>
<text x="110.40" y="711.40" font-size="9.5" text-anchor="middle" fill="#333" letter-spacing="0.2">2</text>
<text x="80.20" y="723.50" font-size="9.5" text-anchor="middle" fill="#222" letter-spacing="0.62">Input log-ratio</text>
<text transform="translate(22.40,671.40) rotate(-90)" font-size="9.5" text-anchor="middle" fill="#222" letter-spacing="0.54">Dissimilarity</text>
<path d="M52.85 699.60H117.00" stroke="#bdbdbd" stroke-width="1.2" fill="none"/>
<path d="M97.60 692.57L102.93 692.08M103.73 692.00L108.09 691.53M108.89 691.49L112.55 691.49M113.34 691.43L116.50 690.99" stroke="#4a98fb" stroke-width="1.28" stroke-opacity="0.55" fill="none"/>
<path d="M90.04 691.79L91.39 690.64" stroke="#35b835" stroke-width="1.6" fill="none"/>
<circle cx="93.68" cy="688.70" r="2.3" fill="#35b835" stroke="#fff" stroke-width="0.9"/>
<circle cx="97.20" cy="693.72" r="2.3" fill="#35b835" stroke="#fff" stroke-width="0.9"/>
<circle cx="103.33" cy="692.33" r="2.3" fill="#35b835" stroke="#fff" stroke-width="0.9"/>
<circle cx="108.49" cy="691.21" r="2.3" fill="#35b835" stroke="#fff" stroke-width="0.9"/>
<circle cx="112.95" cy="689.81" r="2.3" fill="#35b835" stroke="#fff" stroke-width="0.9"/>
<circle cx="116.90" cy="688.14" r="2.3" fill="#35b835" stroke="#fff" stroke-width="0.9"/>
<path d="M69.13 691.69L70.12 691.13" stroke="#c83636" stroke-width="1.6" fill="none"/>
<path d="M49.71 697.93L50.46 697.32M51.95 697.30L52.71 696.27M53.33 696.08L54.18 696.38M54.88 696.28L56.54 695.07M57.25 694.94L58.66 695.29M59.30 695.08L60.16 694.03M60.80 693.85L61.68 694.15M70.83 691.10L71.31 691.32M72.06 691.39L73.60 691.02" stroke="#c83636" stroke-width="1.28" stroke-opacity="0.55" fill="none"/>
<circle cx="63.00" cy="692.05" r="2.3" fill="#c83636" stroke="#fff" stroke-width="0.9"/>
<circle cx="66.52" cy="693.16" r="2.3" fill="#c83636" stroke="#fff" stroke-width="0.9"/>
<circle cx="76.13" cy="689.26" r="2.3" fill="#c83636" stroke="#fff" stroke-width="0.9"/>
<circle cx="80.12" cy="690.37" r="2.3" fill="#c83636" stroke="#fff" stroke-width="0.9"/>
<circle cx="85.28" cy="688.14" r="2.3" fill="#c83636" stroke="#fff" stroke-width="0.9"/>
<circle cx="89.73" cy="689.26" r="2.3" fill="#c83636" stroke="#fff" stroke-width="0.9"/>
<circle cx="93.68" cy="685.35" r="2.3" fill="#c83636" stroke="#fff" stroke-width="0.9"/>
<circle cx="97.20" cy="690.65" r="2.3" fill="#c83636" stroke="#fff" stroke-width="0.9"/>
<circle cx="103.33" cy="688.70" r="2.3" fill="#c83636" stroke="#fff" stroke-width="0.9"/>
<circle cx="108.49" cy="687.02" r="2.3" fill="#c83636" stroke="#fff" stroke-width="0.9"/>
<circle cx="112.95" cy="685.35" r="2.3" fill="#c83636" stroke="#fff" stroke-width="0.9"/>
<circle cx="116.90" cy="684.23" r="2.3" fill="#c83636" stroke="#fff" stroke-width="0.9"/>
<path d="M51.03 687.44L51.45 682.54M59.57 676.70L59.90 678.55M62.31 672.93L62.75 667.69M63.93 667.66L65.58 672.91M67.23 672.95L68.25 668.80M68.73 666.86L69.75 662.71M70.88 662.77L71.62 668.21M74.78 667.95L75.34 665.92M90.83 658.88L92.59 653.67M94.65 653.59L96.24 658.85M99.66 660.30L100.88 659.45M110.52 651.89L110.92 651.46M114.65 646.78L115.20 645.97" stroke="#3a3ad0" stroke-width="1.6" fill="none"/>
<circle cx="50.77" cy="690.43" r="2.3" fill="#3a3ad0" stroke="#fff" stroke-width="0.9"/>
<circle cx="51.71" cy="679.55" r="2.3" fill="#3a3ad0" stroke="#fff" stroke-width="0.9"/>
<circle cx="52.95" cy="685.80" r="2.3" fill="#3a3ad0" stroke="#fff" stroke-width="0.9"/>
<circle cx="54.56" cy="682.67" r="2.3" fill="#3a3ad0" stroke="#fff" stroke-width="0.9"/>
<circle cx="56.87" cy="679.77" r="2.3" fill="#3a3ad0" stroke="#fff" stroke-width="0.9"/>
<circle cx="59.04" cy="673.74" r="2.3" fill="#3a3ad0" stroke="#fff" stroke-width="0.9"/>
<circle cx="60.42" cy="681.50" r="2.3" fill="#3a3ad0" stroke="#fff" stroke-width="0.9"/>
<circle cx="62.06" cy="675.92" r="2.3" fill="#3a3ad0" stroke="#fff" stroke-width="0.9"/>
<circle cx="63.00" cy="664.70" r="2.3" fill="#3a3ad0" stroke="#fff" stroke-width="0.9"/>
<circle cx="66.52" cy="675.86" r="2.3" fill="#3a3ad0" stroke="#fff" stroke-width="0.9"/>
<circle cx="70.47" cy="659.79" r="2.3" fill="#3a3ad0" stroke="#fff" stroke-width="0.9"/>
<circle cx="73.99" cy="670.84" r="2.3" fill="#3a3ad0" stroke="#fff" stroke-width="0.9"/>
<circle cx="76.13" cy="663.03" r="2.3" fill="#3a3ad0" stroke="#fff" stroke-width="0.9"/>
<circle cx="80.12" cy="665.60" r="2.3" fill="#3a3ad0" stroke="#fff" stroke-width="0.9"/>
<circle cx="85.28" cy="662.03" r="2.3" fill="#3a3ad0" stroke="#fff" stroke-width="0.9"/>
<circle cx="89.73" cy="662.14" r="2.3" fill="#3a3ad0" stroke="#fff" stroke-width="0.9"/>
<circle cx="93.68" cy="650.42" r="2.3" fill="#3a3ad0" stroke="#fff" stroke-width="0.9"/>
<circle cx="97.20" cy="662.03" r="2.3" fill="#3a3ad0" stroke="#fff" stroke-width="0.9"/>
<circle cx="103.33" cy="657.73" r="2.3" fill="#3a3ad0" stroke="#fff" stroke-width="0.9"/>
<circle cx="108.49" cy="654.10" r="2.3" fill="#3a3ad0" stroke="#fff" stroke-width="0.9"/>
<circle cx="112.95" cy="649.25" r="2.3" fill="#3a3ad0" stroke="#fff" stroke-width="0.9"/>
<circle cx="116.90" cy="643.50" r="2.3" fill="#3a3ad0" stroke="#fff" stroke-width="0.9"/>
<text x="207.20" y="273.90" font-size="9.5" text-anchor="middle" font-weight="bold" fill="#000" letter-spacing="0.2">(b) P-SPON (selective)</text>
<path d="M170.30 321.54H244.10M170.30 310.38H244.10M170.30 299.22H244.10M170.30 288.06H244.10M172.30 276.90V332.70M182.30 276.90V332.70M192.30 276.90V332.70M202.30 276.90V332.70M212.30 276.90V332.70M222.30 276.90V332.70M232.30 276.90V332.70M242.30 276.90V332.70" stroke="#ebebeb" stroke-width="0.9" fill="none"/>
<path d="M170.30 276.90V332.70" stroke="#3a3a3a" stroke-width="0.8" fill="none"/>
<text x="167.30" y="336.00" font-size="9.5" text-anchor="end" fill="#333" letter-spacing="0.2">0</text>
<text x="167.30" y="324.84" font-size="9.5" text-anchor="end" fill="#333" letter-spacing="0.2">0.2</text>
<text x="167.30" y="313.68" font-size="9.5" text-anchor="end" fill="#333" letter-spacing="0.2">0.4</text>
<text x="167.30" y="302.52" font-size="9.5" text-anchor="end" fill="#333" letter-spacing="0.2">0.6</text>
<text x="167.30" y="291.36" font-size="9.5" text-anchor="end" fill="#333" letter-spacing="0.2">0.8</text>
<text x="172.40" y="344.80" font-size="9.5" text-anchor="middle" fill="#333" letter-spacing="0.2">1</text>
<text x="182.40" y="344.80" font-size="9.5" text-anchor="middle" fill="#333" letter-spacing="0.2">2</text>
<text x="192.40" y="344.80" font-size="9.5" text-anchor="middle" fill="#333" letter-spacing="0.2">3</text>
<text x="202.40" y="344.80" font-size="9.5" text-anchor="middle" fill="#333" letter-spacing="0.2">4</text>
<text x="212.40" y="344.80" font-size="9.5" text-anchor="middle" fill="#333" letter-spacing="0.2">5</text>
<text x="222.40" y="344.80" font-size="9.5" text-anchor="middle" fill="#333" letter-spacing="0.2">6</text>
<text x="232.40" y="344.80" font-size="9.5" text-anchor="middle" fill="#333" letter-spacing="0.2">7</text>
<text x="242.40" y="344.80" font-size="9.5" text-anchor="middle" fill="#333" letter-spacing="0.2">8</text>
<text x="207.20" y="356.90" font-size="9.5" text-anchor="middle" fill="#222" letter-spacing="0.46">Input distance</text>
<text transform="translate(149.40,304.80) rotate(-90)" font-size="9.5" text-anchor="middle" fill="#222" letter-spacing="0.54">Dissimilarity</text>
<path d="M175.30 332.57L179.30 332.55M185.30 332.52L189.30 332.49M195.30 332.46L199.30 332.44M205.30 332.40L209.30 332.38M215.30 332.35L219.30 332.33M225.30 332.29L229.30 332.27M235.30 332.24L239.30 332.21" stroke="#4a98fb" stroke-width="1.6" fill="none"/>
<circle cx="172.30" cy="332.59" r="2.3" fill="#4a98fb" stroke="#fff" stroke-width="0.9"/>
<circle cx="182.30" cy="332.53" r="2.3" fill="#4a98fb" stroke="#fff" stroke-width="0.9"/>
<circle cx="192.30" cy="332.48" r="2.3" fill="#4a98fb" stroke="#fff" stroke-width="0.9"/>
<circle cx="202.30" cy="332.42" r="2.3" fill="#4a98fb" stroke="#fff" stroke-width="0.9"/>
<circle cx="212.30" cy="332.37" r="2.3" fill="#4a98fb" stroke="#fff" stroke-width="0.9"/>
<circle cx="222.30" cy="332.31" r="2.3" fill="#4a98fb" stroke="#fff" stroke-width="0.9"/>
<circle cx="232.30" cy="332.25" r="2.3" fill="#4a98fb" stroke="#fff" stroke-width="0.9"/>
<circle cx="242.30" cy="332.20" r="2.3" fill="#4a98fb" stroke="#fff" stroke-width="0.9"/>
<path d="M175.30 332.37L179.30 332.30M185.30 332.19L189.30 332.10M195.30 331.98L199.30 331.91M205.30 331.81L209.30 331.75M215.30 331.63L219.30 331.54M225.30 331.39L229.30 331.28M235.30 331.14L239.30 331.08" stroke="#35b835" stroke-width="1.6" fill="none"/>
<circle cx="172.30" cy="332.42" r="2.3" fill="#35b835" stroke="#fff" stroke-width="0.9"/>
<circle cx="182.30" cy="332.25" r="2.3" fill="#35b835" stroke="#fff" stroke-width="0.9"/>
<circle cx="192.30" cy="332.03" r="2.3" fill="#35b835" stroke="#fff" stroke-width="0.9"/>
<circle cx="202.30" cy="331.86" r="2.3" fill="#35b835" stroke="#fff" stroke-width="0.9"/>
<circle cx="212.30" cy="331.70" r="2.3" fill="#35b835" stroke="#fff" stroke-width="0.9"/>
<circle cx="222.30" cy="331.47" r="2.3" fill="#35b835" stroke="#fff" stroke-width="0.9"/>
<circle cx="232.30" cy="331.19" r="2.3" fill="#35b835" stroke="#fff" stroke-width="0.9"/>
<circle cx="242.30" cy="331.03" r="2.3" fill="#35b835" stroke="#fff" stroke-width="0.9"/>
<path d="M175.30 332.50L179.30 332.45M185.30 332.39L189.30 332.34M195.30 332.28L199.30 332.23M205.30 332.16L209.30 332.12M215.30 332.05L219.30 332.01M225.30 331.94L229.30 331.90M235.30 331.83L239.30 331.78" stroke="#c83636" stroke-width="1.6" fill="none"/>
<circle cx="172.30" cy="332.53" r="2.3" fill="#c83636" stroke="#fff" stroke-width="0.9"/>
<circle cx="182.30" cy="332.42" r="2.3" fill="#c83636" stroke="#fff" stroke-width="0.9"/>
<circle cx="192.30" cy="332.31" r="2.3" fill="#c83636" stroke="#fff" stroke-width="0.9"/>
<circle cx="202.30" cy="332.20" r="2.3" fill="#c83636" stroke="#fff" stroke-width="0.9"/>
<circle cx="212.30" cy="332.09" r="2.3" fill="#c83636" stroke="#fff" stroke-width="0.9"/>
<circle cx="222.30" cy="331.97" r="2.3" fill="#c83636" stroke="#fff" stroke-width="0.9"/>
<circle cx="232.30" cy="331.86" r="2.3" fill="#c83636" stroke="#fff" stroke-width="0.9"/>
<circle cx="242.30" cy="331.75" r="2.3" fill="#c83636" stroke="#fff" stroke-width="0.9"/>
<path d="M175.30 332.70L179.30 332.70M185.30 332.70L189.30 332.70M195.30 332.70L199.30 332.70M205.30 332.70L209.30 332.70M215.30 332.70L219.30 332.70M225.30 332.70L229.30 332.70M235.30 332.70L239.30 332.70" stroke="#3a3ad0" stroke-width="1.6" fill="none"/>
<circle cx="172.30" cy="332.70" r="2.3" fill="#3a3ad0" stroke="#fff" stroke-width="0.9"/>
<circle cx="182.30" cy="332.70" r="2.3" fill="#3a3ad0" stroke="#fff" stroke-width="0.9"/>
<circle cx="192.30" cy="332.70" r="2.3" fill="#3a3ad0" stroke="#fff" stroke-width="0.9"/>
<circle cx="202.30" cy="332.70" r="2.3" fill="#3a3ad0" stroke="#fff" stroke-width="0.9"/>
<circle cx="212.30" cy="332.70" r="2.3" fill="#3a3ad0" stroke="#fff" stroke-width="0.9"/>
<circle cx="222.30" cy="332.70" r="2.3" fill="#3a3ad0" stroke="#fff" stroke-width="0.9"/>
<circle cx="232.30" cy="332.70" r="2.3" fill="#3a3ad0" stroke="#fff" stroke-width="0.9"/>
<circle cx="242.30" cy="332.70" r="2.3" fill="#3a3ad0" stroke="#fff" stroke-width="0.9"/>
<text x="207.20" y="395.60" font-size="9.5" text-anchor="middle" font-weight="bold" fill="#000" letter-spacing="0.2">(b) P-SPON (selective)</text>
<path d="M170.30 443.24H244.10M170.30 432.08H244.10M170.30 420.92H244.10M170.30 409.76H244.10M172.30 398.60V454.40M182.30 398.60V454.40M192.30 398.60V454.40M202.30 398.60V454.40M212.30 398.60V454.40M222.30 398.60V454.40M232.30 398.60V454.40M242.30 398.60V454.40" stroke="#ebebeb" stroke-width="0.9" fill="none"/>
<path d="M170.30 398.60V454.40" stroke="#3a3a3a" stroke-width="0.8" fill="none"/>
<text x="167.30" y="457.70" font-size="9.5" text-anchor="end" fill="#333" letter-spacing="0.2">0</text>
<text x="167.30" y="446.54" font-size="9.5" text-anchor="end" fill="#333" letter-spacing="0.2">0.2</text>
<text x="167.30" y="435.38" font-size="9.5" text-anchor="end" fill="#333" letter-spacing="0.2">0.4</text>
<text x="167.30" y="424.22" font-size="9.5" text-anchor="end" fill="#333" letter-spacing="0.2">0.6</text>
<text x="167.30" y="413.06" font-size="9.5" text-anchor="end" fill="#333" letter-spacing="0.2">0.8</text>
<text x="172.40" y="466.50" font-size="9.5" text-anchor="middle" fill="#333" letter-spacing="0.2">1</text>
<text x="182.40" y="466.50" font-size="9.5" text-anchor="middle" fill="#333" letter-spacing="0.2">2</text>
<text x="192.40" y="466.50" font-size="9.5" text-anchor="middle" fill="#333" letter-spacing="0.2">3</text>
<text x="202.40" y="466.50" font-size="9.5" text-anchor="middle" fill="#333" letter-spacing="0.2">4</text>
<text x="212.40" y="466.50" font-size="9.5" text-anchor="middle" fill="#333" letter-spacing="0.2">5</text>
<text x="222.40" y="466.50" font-size="9.5" text-anchor="middle" fill="#333" letter-spacing="0.2">6</text>
<text x="232.40" y="466.50" font-size="9.5" text-anchor="middle" fill="#333" letter-spacing="0.2">7</text>
<text x="242.40" y="466.50" font-size="9.5" text-anchor="middle" fill="#333" letter-spacing="0.2">8</text>
<text x="207.20" y="478.60" font-size="9.5" text-anchor="middle" fill="#222" letter-spacing="0.46">Input distance</text>
<text transform="translate(149.40,426.50) rotate(-90)" font-size="9.5" text-anchor="middle" fill="#222" letter-spacing="0.54">Dissimilarity</text>
<path d="M175.30 454.18L179.30 454.12M185.30 454.01L189.30 453.95M195.30 453.85L199.30 453.78M205.30 453.68L209.30 453.61M215.30 453.51L219.30 453.45M225.30 453.35L229.30 453.28M235.30 453.18L239.30 453.11" stroke="#4a98fb" stroke-width="1.6" fill="none"/>
<circle cx="172.30" cy="454.23" r="2.3" fill="#4a98fb" stroke="#fff" stroke-width="0.9"/>
<circle cx="182.30" cy="454.07" r="2.3" fill="#4a98fb" stroke="#fff" stroke-width="0.9"/>
<circle cx="192.30" cy="453.90" r="2.3" fill="#4a98fb" stroke="#fff" stroke-width="0.9"/>
<circle cx="202.30" cy="453.73" r="2.3" fill="#4a98fb" stroke="#fff" stroke-width="0.9"/>
<circle cx="212.30" cy="453.56" r="2.3" fill="#4a98fb" stroke="#fff" stroke-width="0.9"/>
<circle cx="222.30" cy="453.40" r="2.3" fill="#4a98fb" stroke="#fff" stroke-width="0.9"/>
<circle cx="232.30" cy="453.23" r="2.3" fill="#4a98fb" stroke="#fff" stroke-width="0.9"/>
<circle cx="242.30" cy="453.06" r="2.3" fill="#4a98fb" stroke="#fff" stroke-width="0.9"/>
<path d="M175.30 453.76L179.30 453.65M185.30 453.48L189.30 453.37M195.30 453.18L199.30 453.05M205.30 452.85L209.30 452.71M215.30 452.51L219.30 452.38M225.30 452.16L229.30 452.01M235.30 451.81L239.30 451.69" stroke="#35b835" stroke-width="1.6" fill="none"/>
<circle cx="172.30" cy="453.84" r="2.3" fill="#35b835" stroke="#fff" stroke-width="0.9"/>
<circle cx="182.30" cy="453.56" r="2.3" fill="#35b835" stroke="#fff" stroke-width="0.9"/>
<circle cx="192.30" cy="453.28" r="2.3" fill="#35b835" stroke="#fff" stroke-width="0.9"/>
<circle cx="202.30" cy="452.95" r="2.3" fill="#35b835" stroke="#fff" stroke-width="0.9"/>
<circle cx="212.30" cy="452.61" r="2.3" fill="#35b835" stroke="#fff" stroke-width="0.9"/>
<circle cx="222.30" cy="452.28" r="2.3" fill="#35b835" stroke="#fff" stroke-width="0.9"/>
<circle cx="232.30" cy="451.89" r="2.3" fill="#35b835" stroke="#fff" stroke-width="0.9"/>
<circle cx="242.30" cy="451.61" r="2.3" fill="#35b835" stroke="#fff" stroke-width="0.9"/>
<path d="M175.30 454.32L179.30 454.20M185.30 454.07L189.30 454.00M195.30 453.90L199.30 453.84M205.30 453.74L209.30 453.67M215.30 453.57L219.30 453.50M225.30 453.40L229.30 453.33M235.30 453.25L239.30 453.21" stroke="#c83636" stroke-width="1.6" fill="none"/>
<circle cx="172.30" cy="454.40" r="2.3" fill="#c83636" stroke="#fff" stroke-width="0.9"/>
<circle cx="182.30" cy="454.12" r="2.3" fill="#c83636" stroke="#fff" stroke-width="0.9"/>
<circle cx="192.30" cy="453.95" r="2.3" fill="#c83636" stroke="#fff" stroke-width="0.9"/>
<circle cx="202.30" cy="453.79" r="2.3" fill="#c83636" stroke="#fff" stroke-width="0.9"/>
<circle cx="212.30" cy="453.62" r="2.3" fill="#c83636" stroke="#fff" stroke-width="0.9"/>
<circle cx="222.30" cy="453.45" r="2.3" fill="#c83636" stroke="#fff" stroke-width="0.9"/>
<circle cx="232.30" cy="453.28" r="2.3" fill="#c83636" stroke="#fff" stroke-width="0.9"/>
<circle cx="242.30" cy="453.17" r="2.3" fill="#c83636" stroke="#fff" stroke-width="0.9"/>
<path d="M175.30 454.04L179.30 453.93M185.30 453.79L189.30 453.72M195.30 453.61L199.30 453.52M205.30 453.38L209.30 453.30M215.30 453.16L219.30 453.07M225.30 452.92L229.30 452.81M235.30 452.64L239.30 452.53" stroke="#3a3ad0" stroke-width="1.6" fill="none"/>
<circle cx="172.30" cy="454.12" r="2.3" fill="#3a3ad0" stroke="#fff" stroke-width="0.9"/>
<circle cx="182.30" cy="453.84" r="2.3" fill="#3a3ad0" stroke="#fff" stroke-width="0.9"/>
<circle cx="192.30" cy="453.67" r="2.3" fill="#3a3ad0" stroke="#fff" stroke-width="0.9"/>
<circle cx="202.30" cy="453.45" r="2.3" fill="#3a3ad0" stroke="#fff" stroke-width="0.9"/>
<circle cx="212.30" cy="453.23" r="2.3" fill="#3a3ad0" stroke="#fff" stroke-width="0.9"/>
<circle cx="222.30" cy="453.00" r="2.3" fill="#3a3ad0" stroke="#fff" stroke-width="0.9"/>
<circle cx="232.30" cy="452.73" r="2.3" fill="#3a3ad0" stroke="#fff" stroke-width="0.9"/>
<circle cx="242.30" cy="452.45" r="2.3" fill="#3a3ad0" stroke="#fff" stroke-width="0.9"/>
<text x="207.20" y="518.30" font-size="9.5" text-anchor="middle" font-weight="bold" fill="#000" letter-spacing="0.2">(b) P-SPON (selective)</text>
<path d="M170.30 565.94H244.10M170.30 554.78H244.10M170.30 543.62H244.10M170.30 532.46H244.10M187.05 521.30V577.10M203.80 521.30V577.10M220.55 521.30V577.10M237.30 521.30V577.10" stroke="#ebebeb" stroke-width="0.9" fill="none"/>
<path d="M170.30 521.30V577.10" stroke="#3a3a3a" stroke-width="0.8" fill="none"/>
<text x="167.30" y="580.40" font-size="9.5" text-anchor="end" fill="#333" letter-spacing="0.2">0</text>
<text x="167.30" y="569.24" font-size="9.5" text-anchor="end" fill="#333" letter-spacing="0.2">0.2</text>
<text x="167.30" y="558.08" font-size="9.5" text-anchor="end" fill="#333" letter-spacing="0.2">0.4</text>
<text x="167.30" y="546.92" font-size="9.5" text-anchor="end" fill="#333" letter-spacing="0.2">0.6</text>
<text x="167.30" y="535.76" font-size="9.5" text-anchor="end" fill="#333" letter-spacing="0.2">0.8</text>
<text x="170.40" y="589.20" font-size="9.5" text-anchor="middle" fill="#333" letter-spacing="0.2">0</text>
<text x="187.15" y="589.20" font-size="9.5" text-anchor="middle" fill="#333" letter-spacing="0.2">0.5</text>
<text x="203.90" y="589.20" font-size="9.5" text-anchor="middle" fill="#333" letter-spacing="0.2">1</text>
<text x="220.65" y="589.20" font-size="9.5" text-anchor="middle" fill="#333" letter-spacing="0.2">1.5</text>
<text x="237.40" y="589.20" font-size="9.5" text-anchor="middle" fill="#333" letter-spacing="0.2">2</text>
<text x="207.20" y="601.30" font-size="9.5" text-anchor="middle" fill="#222" letter-spacing="0.62">Input log-ratio</text>
<text transform="translate(149.40,549.20) rotate(-90)" font-size="9.5" text-anchor="middle" fill="#222" letter-spacing="0.54">Dissimilarity</text>
<path d="M186.45 577.10L187.00 577.10M196.52 577.10L197.37 577.10" stroke="#3a3ad0" stroke-width="1.6" fill="none"/>
<path d="M180.75 577.10L181.96 577.10M182.76 577.10L185.65 577.10M198.17 577.10L199.72 577.10" stroke="#3a3ad0" stroke-width="1.28" stroke-opacity="0.55" fill="none"/>
<circle cx="190.00" cy="577.10" r="2.3" fill="#3a3ad0" stroke="#fff" stroke-width="0.9"/>
<circle cx="193.52" cy="577.10" r="2.3" fill="#3a3ad0" stroke="#fff" stroke-width="0.9"/>
<circle cx="203.13" cy="577.10" r="2.3" fill="#3a3ad0" stroke="#fff" stroke-width="0.9"/>
<circle cx="207.12" cy="577.10" r="2.3" fill="#3a3ad0" stroke="#fff" stroke-width="0.9"/>
<circle cx="212.28" cy="577.10" r="2.3" fill="#3a3ad0" stroke="#fff" stroke-width="0.9"/>
<circle cx="216.73" cy="577.10" r="2.3" fill="#3a3ad0" stroke="#fff" stroke-width="0.9"/>
<circle cx="220.68" cy="577.10" r="2.3" fill="#3a3ad0" stroke="#fff" stroke-width="0.9"/>
<circle cx="224.20" cy="577.10" r="2.3" fill="#3a3ad0" stroke="#fff" stroke-width="0.9"/>
<circle cx="230.33" cy="577.10" r="2.3" fill="#3a3ad0" stroke="#fff" stroke-width="0.9"/>
<circle cx="235.49" cy="577.10" r="2.3" fill="#3a3ad0" stroke="#fff" stroke-width="0.9"/>
<circle cx="239.95" cy="577.10" r="2.3" fill="#3a3ad0" stroke="#fff" stroke-width="0.9"/>
<circle cx="243.90" cy="577.10" r="2.3" fill="#3a3ad0" stroke="#fff" stroke-width="0.9"/>
<text x="207.20" y="640.50" font-size="9.5" text-anchor="middle" font-weight="bold" fill="#000" letter-spacing="0.2">(b) P-SPON (selective)</text>
<path d="M170.30 688.14H244.10M170.30 676.98H244.10M170.30 665.82H244.10M170.30 654.66H244.10M187.05 643.50V699.30M203.80 643.50V699.30M220.55 643.50V699.30M237.30 643.50V699.30" stroke="#ebebeb" stroke-width="0.9" fill="none"/>
<path d="M170.30 643.50V699.30" stroke="#3a3a3a" stroke-width="0.8" fill="none"/>
<text x="167.30" y="702.60" font-size="9.5" text-anchor="end" fill="#333" letter-spacing="0.2">0</text>
<text x="167.30" y="691.44" font-size="9.5" text-anchor="end" fill="#333" letter-spacing="0.2">0.2</text>
<text x="167.30" y="680.28" font-size="9.5" text-anchor="end" fill="#333" letter-spacing="0.2">0.4</text>
<text x="167.30" y="669.12" font-size="9.5" text-anchor="end" fill="#333" letter-spacing="0.2">0.6</text>
<text x="167.30" y="657.96" font-size="9.5" text-anchor="end" fill="#333" letter-spacing="0.2">0.8</text>
<text x="170.40" y="711.40" font-size="9.5" text-anchor="middle" fill="#333" letter-spacing="0.2">0</text>
<text x="187.15" y="711.40" font-size="9.5" text-anchor="middle" fill="#333" letter-spacing="0.2">0.5</text>
<text x="203.90" y="711.40" font-size="9.5" text-anchor="middle" fill="#333" letter-spacing="0.2">1</text>
<text x="220.65" y="711.40" font-size="9.5" text-anchor="middle" fill="#333" letter-spacing="0.2">1.5</text>
<text x="237.40" y="711.40" font-size="9.5" text-anchor="middle" fill="#333" letter-spacing="0.2">2</text>
<text x="207.20" y="723.50" font-size="9.5" text-anchor="middle" fill="#222" letter-spacing="0.62">Input log-ratio</text>
<text transform="translate(149.40,671.40) rotate(-90)" font-size="9.5" text-anchor="middle" fill="#222" letter-spacing="0.54">Dissimilarity</text>
<path d="M186.44 698.69L187.03 698.60M196.51 698.53L197.04 698.49M199.07 698.69L200.15 698.56" stroke="#3a3ad0" stroke-width="1.6" fill="none"/>
<path d="M178.17 698.74L179.55 698.74M180.35 698.71L181.16 698.66M181.96 698.65L183.47 698.72M184.27 698.74L185.65 698.74" stroke="#3a3ad0" stroke-width="1.28" stroke-opacity="0.55" fill="none"/>
<circle cx="190.00" cy="698.18" r="2.3" fill="#3a3ad0" stroke="#fff" stroke-width="0.9"/>
<circle cx="193.52" cy="698.74" r="2.3" fill="#3a3ad0" stroke="#fff" stroke-width="0.9"/>
<circle cx="203.13" cy="698.18" r="2.3" fill="#3a3ad0" stroke="#fff" stroke-width="0.9"/>
<circle cx="207.12" cy="698.46" r="2.3" fill="#3a3ad0" stroke="#fff" stroke-width="0.9"/>
<circle cx="212.28" cy="698.46" r="2.3" fill="#3a3ad0" stroke="#fff" stroke-width="0.9"/>
<circle cx="216.73" cy="698.46" r="2.3" fill="#3a3ad0" stroke="#fff" stroke-width="0.9"/>
<circle cx="220.68" cy="697.91" r="2.3" fill="#3a3ad0" stroke="#fff" stroke-width="0.9"/>
<circle cx="224.20" cy="698.74" r="2.3" fill="#3a3ad0" stroke="#fff" stroke-width="0.9"/>
<circle cx="230.33" cy="698.74" r="2.3" fill="#3a3ad0" stroke="#fff" stroke-width="0.9"/>
<circle cx="235.49" cy="698.46" r="2.3" fill="#3a3ad0" stroke="#fff" stroke-width="0.9"/>
<circle cx="239.95" cy="698.18" r="2.3" fill="#3a3ad0" stroke="#fff" stroke-width="0.9"/>
<circle cx="243.90" cy="697.91" r="2.3" fill="#3a3ad0" stroke="#fff" stroke-width="0.9"/>
<text x="334.20" y="273.90" font-size="9.5" text-anchor="middle" font-weight="bold" fill="#000" letter-spacing="0.22">(c) N+S (selective)</text>
<path d="M297.30 321.54H371.10M297.30 310.38H371.10M297.30 299.22H371.10M297.30 288.06H371.10M299.30 276.90V332.70M309.30 276.90V332.70M319.30 276.90V332.70M329.30 276.90V332.70M339.30 276.90V332.70M349.30 276.90V332.70M359.30 276.90V332.70M369.30 276.90V332.70" stroke="#ebebeb" stroke-width="0.9" fill="none"/>
<path d="M297.30 276.90V332.70" stroke="#3a3a3a" stroke-width="0.8" fill="none"/>
<text x="294.30" y="336.00" font-size="9.5" text-anchor="end" fill="#333" letter-spacing="0.2">0</text>
<text x="294.30" y="324.84" font-size="9.5" text-anchor="end" fill="#333" letter-spacing="0.2">0.2</text>
<text x="294.30" y="313.68" font-size="9.5" text-anchor="end" fill="#333" letter-spacing="0.2">0.4</text>
<text x="294.30" y="302.52" font-size="9.5" text-anchor="end" fill="#333" letter-spacing="0.2">0.6</text>
<text x="294.30" y="291.36" font-size="9.5" text-anchor="end" fill="#333" letter-spacing="0.2">0.8</text>
<text x="299.40" y="344.80" font-size="9.5" text-anchor="middle" fill="#333" letter-spacing="0.2">1</text>
<text x="309.40" y="344.80" font-size="9.5" text-anchor="middle" fill="#333" letter-spacing="0.2">2</text>
<text x="319.40" y="344.80" font-size="9.5" text-anchor="middle" fill="#333" letter-spacing="0.2">3</text>
<text x="329.40" y="344.80" font-size="9.5" text-anchor="middle" fill="#333" letter-spacing="0.2">4</text>
<text x="339.40" y="344.80" font-size="9.5" text-anchor="middle" fill="#333" letter-spacing="0.2">5</text>
<text x="349.40" y="344.80" font-size="9.5" text-anchor="middle" fill="#333" letter-spacing="0.2">6</text>
<text x="359.40" y="344.80" font-size="9.5" text-anchor="middle" fill="#333" letter-spacing="0.2">7</text>
<text x="369.40" y="344.80" font-size="9.5" text-anchor="middle" fill="#333" letter-spacing="0.2">8</text>
<text x="334.20" y="356.90" font-size="9.5" text-anchor="middle" fill="#222" letter-spacing="0.46">Input distance</text>
<text transform="translate(276.40,304.80) rotate(-90)" font-size="9.5" text-anchor="middle" fill="#222" letter-spacing="0.54">Dissimilarity</text>
<path d="M301.30 333.00H371.00" stroke="#bdbdbd" stroke-width="1.2" fill="none"/>
<path d="M302.30 332.34L306.30 332.23M312.30 332.06L316.30 331.95M322.30 331.78L326.30 331.67M332.30 331.50L336.30 331.39M342.30 331.22L346.30 331.11M352.30 330.94L356.30 330.83M362.30 330.66L366.30 330.55" stroke="#4a98fb" stroke-width="1.6" fill="none"/>
<circle cx="299.30" cy="332.42" r="2.3" fill="#4a98fb" stroke="#fff" stroke-width="0.9"/>
<circle cx="309.30" cy="332.14" r="2.3" fill="#4a98fb" stroke="#fff" stroke-width="0.9"/>
<circle cx="319.30" cy="331.86" r="2.3" fill="#4a98fb" stroke="#fff" stroke-width="0.9"/>
<circle cx="329.30" cy="331.58" r="2.3" fill="#4a98fb" stroke="#fff" stroke-width="0.9"/>
<circle cx="339.30" cy="331.31" r="2.3" fill="#4a98fb" stroke="#fff" stroke-width="0.9"/>
<circle cx="349.30" cy="331.03" r="2.3" fill="#4a98fb" stroke="#fff" stroke-width="0.9"/>
<circle cx="359.30" cy="330.75" r="2.3" fill="#4a98fb" stroke="#fff" stroke-width="0.9"/>
<circle cx="369.30" cy="330.47" r="2.3" fill="#4a98fb" stroke="#fff" stroke-width="0.9"/>
<path d="M302.30 331.42L306.30 331.19M312.30 330.86L316.30 330.64M322.30 330.30L326.30 330.08M332.30 329.74L336.30 329.52M342.30 329.18L346.30 328.96M352.30 328.63L356.30 328.40M362.30 328.15L366.30 328.04" stroke="#35b835" stroke-width="1.6" fill="none"/>
<circle cx="299.30" cy="331.58" r="2.3" fill="#35b835" stroke="#fff" stroke-width="0.9"/>
<circle cx="309.30" cy="331.03" r="2.3" fill="#35b835" stroke="#fff" stroke-width="0.9"/>
<circle cx="319.30" cy="330.47" r="2.3" fill="#35b835" stroke="#fff" stroke-width="0.9"/>
<circle cx="329.30" cy="329.91" r="2.3" fill="#35b835" stroke="#fff" stroke-width="0.9"/>
<circle cx="339.30" cy="329.35" r="2.3" fill="#35b835" stroke="#fff" stroke-width="0.9"/>
<circle cx="349.30" cy="328.79" r="2.3" fill="#35b835" stroke="#fff" stroke-width="0.9"/>
<circle cx="359.30" cy="328.24" r="2.3" fill="#35b835" stroke="#fff" stroke-width="0.9"/>
<circle cx="369.30" cy="327.96" r="2.3" fill="#35b835" stroke="#fff" stroke-width="0.9"/>
<path d="M302.30 331.70L306.30 331.47M312.30 331.17L316.30 330.99M322.30 330.71L326.30 330.51M332.30 330.22L336.30 330.04M342.30 329.78L346.30 329.60M352.30 329.33L356.30 329.15M362.30 328.92L366.30 328.78" stroke="#c83636" stroke-width="1.6" fill="none"/>
<circle cx="299.30" cy="331.86" r="2.3" fill="#c83636" stroke="#fff" stroke-width="0.9"/>
<circle cx="309.30" cy="331.31" r="2.3" fill="#c83636" stroke="#fff" stroke-width="0.9"/>
<circle cx="319.30" cy="330.86" r="2.3" fill="#c83636" stroke="#fff" stroke-width="0.9"/>
<circle cx="329.30" cy="330.36" r="2.3" fill="#c83636" stroke="#fff" stroke-width="0.9"/>
<circle cx="339.30" cy="329.91" r="2.3" fill="#c83636" stroke="#fff" stroke-width="0.9"/>
<circle cx="349.30" cy="329.46" r="2.3" fill="#c83636" stroke="#fff" stroke-width="0.9"/>
<circle cx="359.30" cy="329.02" r="2.3" fill="#c83636" stroke="#fff" stroke-width="0.9"/>
<circle cx="369.30" cy="328.68" r="2.3" fill="#c83636" stroke="#fff" stroke-width="0.9"/>
<path d="M302.30 331.77L306.30 331.57M312.30 331.35L316.30 331.26M322.30 331.08L326.30 330.92M332.30 330.69L336.30 330.53M342.30 330.30L346.30 330.14M352.30 329.87L356.30 329.67M362.30 329.44L366.30 329.32" stroke="#3a3ad0" stroke-width="1.6" fill="none"/>
<circle cx="299.30" cy="331.92" r="2.3" fill="#3a3ad0" stroke="#fff" stroke-width="0.9"/>
<circle cx="309.30" cy="331.42" r="2.3" fill="#3a3ad0" stroke="#fff" stroke-width="0.9"/>
<circle cx="319.30" cy="331.19" r="2.3" fill="#3a3ad0" stroke="#fff" stroke-width="0.9"/>
<circle cx="329.30" cy="330.80" r="2.3" fill="#3a3ad0" stroke="#fff" stroke-width="0.9"/>
<circle cx="339.30" cy="330.41" r="2.3" fill="#3a3ad0" stroke="#fff" stroke-width="0.9"/>
<circle cx="349.30" cy="330.02" r="2.3" fill="#3a3ad0" stroke="#fff" stroke-width="0.9"/>
<circle cx="359.30" cy="329.52" r="2.3" fill="#3a3ad0" stroke="#fff" stroke-width="0.9"/>
<circle cx="369.30" cy="329.24" r="2.3" fill="#3a3ad0" stroke="#fff" stroke-width="0.9"/>
<text x="334.20" y="395.60" font-size="9.5" text-anchor="middle" font-weight="bold" fill="#000" letter-spacing="0.22">(c) N+S (selective)</text>
<path d="M297.30 443.24H371.10M297.30 432.08H371.10M297.30 420.92H371.10M297.30 409.76H371.10M299.30 398.60V454.40M309.30 398.60V454.40M319.30 398.60V454.40M329.30 398.60V454.40M339.30 398.60V454.40M349.30 398.60V454.40M359.30 398.60V454.40M369.30 398.60V454.40" stroke="#ebebeb" stroke-width="0.9" fill="none"/>
<path d="M297.30 398.60V454.40" stroke="#3a3a3a" stroke-width="0.8" fill="none"/>
<text x="294.30" y="457.70" font-size="9.5" text-anchor="end" fill="#333" letter-spacing="0.2">0</text>
<text x="294.30" y="446.54" font-size="9.5" text-anchor="end" fill="#333" letter-spacing="0.2">0.2</text>
<text x="294.30" y="435.38" font-size="9.5" text-anchor="end" fill="#333" letter-spacing="0.2">0.4</text>
<text x="294.30" y="424.22" font-size="9.5" text-anchor="end" fill="#333" letter-spacing="0.2">0.6</text>
<text x="294.30" y="413.06" font-size="9.5" text-anchor="end" fill="#333" letter-spacing="0.2">0.8</text>
<text x="299.40" y="466.50" font-size="9.5" text-anchor="middle" fill="#333" letter-spacing="0.2">1</text>
<text x="309.40" y="466.50" font-size="9.5" text-anchor="middle" fill="#333" letter-spacing="0.2">2</text>
<text x="319.40" y="466.50" font-size="9.5" text-anchor="middle" fill="#333" letter-spacing="0.2">3</text>
<text x="329.40" y="466.50" font-size="9.5" text-anchor="middle" fill="#333" letter-spacing="0.2">4</text>
<text x="339.40" y="466.50" font-size="9.5" text-anchor="middle" fill="#333" letter-spacing="0.2">5</text>
<text x="349.40" y="466.50" font-size="9.5" text-anchor="middle" fill="#333" letter-spacing="0.2">6</text>
<text x="359.40" y="466.50" font-size="9.5" text-anchor="middle" fill="#333" letter-spacing="0.2">7</text>
<text x="369.40" y="466.50" font-size="9.5" text-anchor="middle" fill="#333" letter-spacing="0.2">8</text>
<text x="334.20" y="478.60" font-size="9.5" text-anchor="middle" fill="#222" letter-spacing="0.46">Input distance</text>
<text transform="translate(276.40,426.50) rotate(-90)" font-size="9.5" text-anchor="middle" fill="#222" letter-spacing="0.54">Dissimilarity</text>
<path d="M301.30 454.70H371.00" stroke="#bdbdbd" stroke-width="1.2" fill="none"/>
<path d="M302.30 454.23L306.30 454.01M312.30 453.67L316.30 453.45M322.29 453.03L326.31 452.70M332.30 452.28L336.30 452.06M342.30 451.72L346.30 451.50M352.30 451.21L356.30 451.06M362.30 450.81L366.30 450.63" stroke="#4a98fb" stroke-width="1.6" fill="none"/>
<circle cx="299.30" cy="454.40" r="2.3" fill="#4a98fb" stroke="#fff" stroke-width="0.9"/>
<circle cx="309.30" cy="453.84" r="2.3" fill="#4a98fb" stroke="#fff" stroke-width="0.9"/>
<circle cx="319.30" cy="453.28" r="2.3" fill="#4a98fb" stroke="#fff" stroke-width="0.9"/>
<circle cx="329.30" cy="452.45" r="2.3" fill="#4a98fb" stroke="#fff" stroke-width="0.9"/>
<circle cx="339.30" cy="451.89" r="2.3" fill="#4a98fb" stroke="#fff" stroke-width="0.9"/>
<circle cx="349.30" cy="451.33" r="2.3" fill="#4a98fb" stroke="#fff" stroke-width="0.9"/>
<circle cx="359.30" cy="450.94" r="2.3" fill="#4a98fb" stroke="#fff" stroke-width="0.9"/>
<circle cx="369.30" cy="450.49" r="2.3" fill="#4a98fb" stroke="#fff" stroke-width="0.9"/>
<path d="M302.28 454.07L306.32 453.62M312.29 453.03L316.31 452.70M322.28 452.11L326.32 451.66M332.29 451.13L336.31 450.86M342.29 450.48L346.31 450.23M352.28 449.68L356.32 449.19M362.30 448.74L366.30 448.62" stroke="#35b835" stroke-width="1.6" fill="none"/>
<circle cx="299.30" cy="454.40" r="2.3" fill="#35b835" stroke="#fff" stroke-width="0.9"/>
<circle cx="309.30" cy="453.28" r="2.3" fill="#35b835" stroke="#fff" stroke-width="0.9"/>
<circle cx="319.30" cy="452.45" r="2.3" fill="#35b835" stroke="#fff" stroke-width="0.9"/>
<circle cx="329.30" cy="451.33" r="2.3" fill="#35b835" stroke="#fff" stroke-width="0.9"/>
<circle cx="339.30" cy="450.66" r="2.3" fill="#35b835" stroke="#fff" stroke-width="0.9"/>
<circle cx="349.30" cy="450.05" r="2.3" fill="#35b835" stroke="#fff" stroke-width="0.9"/>
<circle cx="359.30" cy="448.82" r="2.3" fill="#35b835" stroke="#fff" stroke-width="0.9"/>
<circle cx="369.30" cy="448.54" r="2.3" fill="#35b835" stroke="#fff" stroke-width="0.9"/>
<path d="M302.28 454.10L306.32 453.70M312.29 453.16L316.31 452.85M322.28 452.27L326.32 451.79M332.30 451.28L336.30 451.05M342.30 450.72L346.30 450.49M352.29 450.04L356.31 449.66M362.30 449.21L366.30 448.99" stroke="#c83636" stroke-width="1.6" fill="none"/>
<circle cx="299.30" cy="454.40" r="2.3" fill="#c83636" stroke="#fff" stroke-width="0.9"/>
<circle cx="309.30" cy="453.40" r="2.3" fill="#c83636" stroke="#fff" stroke-width="0.9"/>
<circle cx="319.30" cy="452.61" r="2.3" fill="#c83636" stroke="#fff" stroke-width="0.9"/>
<circle cx="329.30" cy="451.44" r="2.3" fill="#c83636" stroke="#fff" stroke-width="0.9"/>
<circle cx="339.30" cy="450.88" r="2.3" fill="#c83636" stroke="#fff" stroke-width="0.9"/>
<circle cx="349.30" cy="450.33" r="2.3" fill="#c83636" stroke="#fff" stroke-width="0.9"/>
<circle cx="359.30" cy="449.38" r="2.3" fill="#c83636" stroke="#fff" stroke-width="0.9"/>
<circle cx="369.30" cy="448.82" r="2.3" fill="#c83636" stroke="#fff" stroke-width="0.9"/>
<path d="M302.17 450.45L306.43 449.14M312.21 447.53L316.39 446.48M322.21 445.02L326.39 443.97M332.23 442.59L336.37 441.66M342.23 440.35L346.37 439.43M352.23 438.15L356.37 437.28M362.22 435.97L366.38 435.00" stroke="#3a3ad0" stroke-width="1.6" fill="none"/>
<circle cx="299.30" cy="451.33" r="2.3" fill="#3a3ad0" stroke="#fff" stroke-width="0.9"/>
<circle cx="309.30" cy="448.26" r="2.3" fill="#3a3ad0" stroke="#fff" stroke-width="0.9"/>
<circle cx="319.30" cy="445.75" r="2.3" fill="#3a3ad0" stroke="#fff" stroke-width="0.9"/>
<circle cx="329.30" cy="443.24" r="2.3" fill="#3a3ad0" stroke="#fff" stroke-width="0.9"/>
<circle cx="339.30" cy="441.01" r="2.3" fill="#3a3ad0" stroke="#fff" stroke-width="0.9"/>
<circle cx="349.30" cy="438.78" r="2.3" fill="#3a3ad0" stroke="#fff" stroke-width="0.9"/>
<circle cx="359.30" cy="436.66" r="2.3" fill="#3a3ad0" stroke="#fff" stroke-width="0.9"/>
<circle cx="369.30" cy="434.31" r="2.3" fill="#3a3ad0" stroke="#fff" stroke-width="0.9"/>
<text x="334.20" y="518.30" font-size="9.5" text-anchor="middle" font-weight="bold" fill="#000" letter-spacing="0.22">(c) N+S (selective)</text>
<path d="M297.30 565.94H371.10M297.30 554.78H371.10M297.30 543.62H371.10M297.30 532.46H371.10M314.05 521.30V577.10M330.80 521.30V577.10M347.55 521.30V577.10M364.30 521.30V577.10" stroke="#ebebeb" stroke-width="0.9" fill="none"/>
<path d="M297.30 521.30V577.10" stroke="#3a3a3a" stroke-width="0.8" fill="none"/>
<text x="294.30" y="580.40" font-size="9.5" text-anchor="end" fill="#333" letter-spacing="0.2">0</text>
<text x="294.30" y="569.24" font-size="9.5" text-anchor="end" fill="#333" letter-spacing="0.2">0.2</text>
<text x="294.30" y="558.08" font-size="9.5" text-anchor="end" fill="#333" letter-spacing="0.2">0.4</text>
<text x="294.30" y="546.92" font-size="9.5" text-anchor="end" fill="#333" letter-spacing="0.2">0.6</text>
<text x="294.30" y="535.76" font-size="9.5" text-anchor="end" fill="#333" letter-spacing="0.2">0.8</text>
<text x="297.40" y="589.20" font-size="9.5" text-anchor="middle" fill="#333" letter-spacing="0.2">0</text>
<text x="314.15" y="589.20" font-size="9.5" text-anchor="middle" fill="#333" letter-spacing="0.2">0.5</text>
<text x="330.90" y="589.20" font-size="9.5" text-anchor="middle" fill="#333" letter-spacing="0.2">1</text>
<text x="347.65" y="589.20" font-size="9.5" text-anchor="middle" fill="#333" letter-spacing="0.2">1.5</text>
<text x="364.40" y="589.20" font-size="9.5" text-anchor="middle" fill="#333" letter-spacing="0.2">2</text>
<text x="334.20" y="601.30" font-size="9.5" text-anchor="middle" fill="#222" letter-spacing="0.62">Input log-ratio</text>
<text transform="translate(276.40,549.20) rotate(-90)" font-size="9.5" text-anchor="middle" fill="#222" letter-spacing="0.54">Dissimilarity</text>
<path d="M330.80 577.40H371.00" stroke="#bdbdbd" stroke-width="1.2" fill="none"/>
<path d="M313.44 576.51L314.01 576.46M323.50 575.90L324.04 575.95" stroke="#3a3ad0" stroke-width="1.6" fill="none"/>
<path d="M307.75 576.78L309.63 576.58M310.43 576.54L312.65 576.54M324.82 575.89L326.39 575.52" stroke="#3a3ad0" stroke-width="1.28" stroke-opacity="0.55" fill="none"/>
<circle cx="317.00" cy="576.21" r="2.3" fill="#3a3ad0" stroke="#fff" stroke-width="0.9"/>
<circle cx="320.52" cy="575.65" r="2.3" fill="#3a3ad0" stroke="#fff" stroke-width="0.9"/>
<circle cx="330.13" cy="575.15" r="2.3" fill="#3a3ad0" stroke="#fff" stroke-width="0.9"/>
<circle cx="334.12" cy="574.37" r="2.3" fill="#3a3ad0" stroke="#fff" stroke-width="0.9"/>
<circle cx="339.28" cy="573.86" r="2.3" fill="#3a3ad0" stroke="#fff" stroke-width="0.9"/>
<circle cx="343.73" cy="573.86" r="2.3" fill="#3a3ad0" stroke="#fff" stroke-width="0.9"/>
<circle cx="347.68" cy="573.75" r="2.3" fill="#3a3ad0" stroke="#fff" stroke-width="0.9"/>
<circle cx="351.20" cy="573.86" r="2.3" fill="#3a3ad0" stroke="#fff" stroke-width="0.9"/>
<circle cx="357.33" cy="573.75" r="2.3" fill="#3a3ad0" stroke="#fff" stroke-width="0.9"/>
<circle cx="362.49" cy="573.64" r="2.3" fill="#3a3ad0" stroke="#fff" stroke-width="0.9"/>
<circle cx="366.95" cy="573.42" r="2.3" fill="#3a3ad0" stroke="#fff" stroke-width="0.9"/>
<circle cx="370.90" cy="573.42" r="2.3" fill="#3a3ad0" stroke="#fff" stroke-width="0.9"/>
<text x="334.20" y="640.50" font-size="9.5" text-anchor="middle" font-weight="bold" fill="#000" letter-spacing="0.22">(c) N+S (selective)</text>
<path d="M297.30 688.14H371.10M297.30 676.98H371.10M297.30 665.82H371.10M297.30 654.66H371.10M314.05 643.50V699.30M330.80 643.50V699.30M347.55 643.50V699.30M364.30 643.50V699.30" stroke="#ebebeb" stroke-width="0.9" fill="none"/>
<path d="M297.30 643.50V699.30" stroke="#3a3a3a" stroke-width="0.8" fill="none"/>
<text x="294.30" y="702.60" font-size="9.5" text-anchor="end" fill="#333" letter-spacing="0.2">0</text>
<text x="294.30" y="691.44" font-size="9.5" text-anchor="end" fill="#333" letter-spacing="0.2">0.2</text>
<text x="294.30" y="680.28" font-size="9.5" text-anchor="end" fill="#333" letter-spacing="0.2">0.4</text>
<text x="294.30" y="669.12" font-size="9.5" text-anchor="end" fill="#333" letter-spacing="0.2">0.6</text>
<text x="294.30" y="657.96" font-size="9.5" text-anchor="end" fill="#333" letter-spacing="0.2">0.8</text>
<text x="297.40" y="711.40" font-size="9.5" text-anchor="middle" fill="#333" letter-spacing="0.2">0</text>
<text x="314.15" y="711.40" font-size="9.5" text-anchor="middle" fill="#333" letter-spacing="0.2">0.5</text>
<text x="330.90" y="711.40" font-size="9.5" text-anchor="middle" fill="#333" letter-spacing="0.2">1</text>
<text x="347.65" y="711.40" font-size="9.5" text-anchor="middle" fill="#333" letter-spacing="0.2">1.5</text>
<text x="364.40" y="711.40" font-size="9.5" text-anchor="middle" fill="#333" letter-spacing="0.2">2</text>
<text x="334.20" y="723.50" font-size="9.5" text-anchor="middle" fill="#222" letter-spacing="0.62">Input log-ratio</text>
<text transform="translate(276.40,671.40) rotate(-90)" font-size="9.5" text-anchor="middle" fill="#222" letter-spacing="0.54">Dissimilarity</text>
<path d="M322.59 699.60H371.00" stroke="#bdbdbd" stroke-width="1.2" fill="none"/>
<path d="M323.37 696.31L324.09 696.08M326.07 696.17L327.16 696.01" stroke="#c83636" stroke-width="1.6" fill="none"/>
<path d="M306.07 698.67L308.16 698.26M308.94 698.09L310.48 697.72M311.25 697.73L312.66 698.08M313.42 698.05L315.68 697.21" stroke="#c83636" stroke-width="1.28" stroke-opacity="0.55" fill="none"/>
<circle cx="317.00" cy="696.68" r="2.3" fill="#c83636" stroke="#fff" stroke-width="0.9"/>
<circle cx="320.52" cy="697.24" r="2.3" fill="#c83636" stroke="#fff" stroke-width="0.9"/>
<circle cx="330.13" cy="695.56" r="2.3" fill="#c83636" stroke="#fff" stroke-width="0.9"/>
<circle cx="334.12" cy="695.95" r="2.3" fill="#c83636" stroke="#fff" stroke-width="0.9"/>
<circle cx="339.28" cy="694.84" r="2.3" fill="#c83636" stroke="#fff" stroke-width="0.9"/>
<circle cx="343.73" cy="695.39" r="2.3" fill="#c83636" stroke="#fff" stroke-width="0.9"/>
<circle cx="347.68" cy="693.44" r="2.3" fill="#c83636" stroke="#fff" stroke-width="0.9"/>
<circle cx="351.20" cy="695.78" r="2.3" fill="#c83636" stroke="#fff" stroke-width="0.9"/>
<circle cx="357.33" cy="695.17" r="2.3" fill="#c83636" stroke="#fff" stroke-width="0.9"/>
<circle cx="362.49" cy="694.39" r="2.3" fill="#c83636" stroke="#fff" stroke-width="0.9"/>
<circle cx="366.95" cy="693.94" r="2.3" fill="#c83636" stroke="#fff" stroke-width="0.9"/>
<circle cx="370.90" cy="693.27" r="2.3" fill="#c83636" stroke="#fff" stroke-width="0.9"/>
<path d="M318.61 688.77L318.90 689.24M321.89 689.10L323.10 686.74M325.29 686.95L325.57 687.92M345.49 683.59L345.93 682.98M349.19 683.15L349.70 684.04" stroke="#3a3ad0" stroke-width="1.6" fill="none"/>
<path d="M307.30 694.42L308.21 693.91" stroke="#3a3ad0" stroke-width="1.28" stroke-opacity="0.55" fill="none"/>
<circle cx="304.77" cy="696.57" r="2.3" fill="#3a3ad0" stroke="#fff" stroke-width="0.9"/>
<circle cx="305.71" cy="691.77" r="2.3" fill="#3a3ad0" stroke="#fff" stroke-width="0.9"/>
<circle cx="310.87" cy="692.60" r="2.3" fill="#3a3ad0" stroke="#fff" stroke-width="0.9"/>
<circle cx="313.05" cy="689.42" r="2.3" fill="#3a3ad0" stroke="#fff" stroke-width="0.9"/>
<circle cx="314.42" cy="693.72" r="2.3" fill="#3a3ad0" stroke="#fff" stroke-width="0.9"/>
<circle cx="316.06" cy="690.60" r="2.3" fill="#3a3ad0" stroke="#fff" stroke-width="0.9"/>
<circle cx="317.00" cy="686.24" r="2.3" fill="#3a3ad0" stroke="#fff" stroke-width="0.9"/>
<circle cx="320.52" cy="691.77" r="2.3" fill="#3a3ad0" stroke="#fff" stroke-width="0.9"/>
<circle cx="324.47" cy="684.07" r="2.3" fill="#3a3ad0" stroke="#fff" stroke-width="0.9"/>
<circle cx="327.99" cy="690.37" r="2.3" fill="#3a3ad0" stroke="#fff" stroke-width="0.9"/>
<circle cx="330.13" cy="685.46" r="2.3" fill="#3a3ad0" stroke="#fff" stroke-width="0.9"/>
<circle cx="334.12" cy="687.19" r="2.3" fill="#3a3ad0" stroke="#fff" stroke-width="0.9"/>
<circle cx="339.28" cy="686.02" r="2.3" fill="#3a3ad0" stroke="#fff" stroke-width="0.9"/>
<circle cx="343.73" cy="686.02" r="2.3" fill="#3a3ad0" stroke="#fff" stroke-width="0.9"/>
<circle cx="347.68" cy="680.55" r="2.3" fill="#3a3ad0" stroke="#fff" stroke-width="0.9"/>
<circle cx="351.20" cy="686.63" r="2.3" fill="#3a3ad0" stroke="#fff" stroke-width="0.9"/>
<circle cx="357.33" cy="685.13" r="2.3" fill="#3a3ad0" stroke="#fff" stroke-width="0.9"/>
<circle cx="362.49" cy="683.17" r="2.3" fill="#3a3ad0" stroke="#fff" stroke-width="0.9"/>
<circle cx="366.95" cy="680.89" r="2.3" fill="#3a3ad0" stroke="#fff" stroke-width="0.9"/>
<circle cx="370.90" cy="678.38" r="2.3" fill="#3a3ad0" stroke="#fff" stroke-width="0.9"/>
<text x="461.20" y="273.90" font-size="9.5" text-anchor="middle" font-weight="bold" fill="#000" letter-spacing="0.26">(d) P-SPON (all)</text>
<path d="M424.30 321.54H498.10M424.30 310.38H498.10M424.30 299.22H498.10M424.30 288.06H498.10M426.30 276.90V332.70M436.30 276.90V332.70M446.30 276.90V332.70M456.30 276.90V332.70M466.30 276.90V332.70M476.30 276.90V332.70M486.30 276.90V332.70M496.30 276.90V332.70" stroke="#ebebeb" stroke-width="0.9" fill="none"/>
<path d="M424.30 276.90V332.70" stroke="#3a3a3a" stroke-width="0.8" fill="none"/>
<text x="421.30" y="336.00" font-size="9.5" text-anchor="end" fill="#333" letter-spacing="0.2">0</text>
<text x="421.30" y="324.84" font-size="9.5" text-anchor="end" fill="#333" letter-spacing="0.2">0.2</text>
<text x="421.30" y="313.68" font-size="9.5" text-anchor="end" fill="#333" letter-spacing="0.2">0.4</text>
<text x="421.30" y="302.52" font-size="9.5" text-anchor="end" fill="#333" letter-spacing="0.2">0.6</text>
<text x="421.30" y="291.36" font-size="9.5" text-anchor="end" fill="#333" letter-spacing="0.2">0.8</text>
<text x="426.40" y="344.80" font-size="9.5" text-anchor="middle" fill="#333" letter-spacing="0.2">1</text>
<text x="436.40" y="344.80" font-size="9.5" text-anchor="middle" fill="#333" letter-spacing="0.2">2</text>
<text x="446.40" y="344.80" font-size="9.5" text-anchor="middle" fill="#333" letter-spacing="0.2">3</text>
<text x="456.40" y="344.80" font-size="9.5" text-anchor="middle" fill="#333" letter-spacing="0.2">4</text>
<text x="466.40" y="344.80" font-size="9.5" text-anchor="middle" fill="#333" letter-spacing="0.2">5</text>
<text x="476.40" y="344.80" font-size="9.5" text-anchor="middle" fill="#333" letter-spacing="0.2">6</text>
<text x="486.40" y="344.80" font-size="9.5" text-anchor="middle" fill="#333" letter-spacing="0.2">7</text>
<text x="496.40" y="344.80" font-size="9.5" text-anchor="middle" fill="#333" letter-spacing="0.2">8</text>
<text x="461.20" y="356.90" font-size="9.5" text-anchor="middle" fill="#222" letter-spacing="0.46">Input distance</text>
<text transform="translate(403.40,304.80) rotate(-90)" font-size="9.5" text-anchor="middle" fill="#222" letter-spacing="0.54">Dissimilarity</text>
<path d="M428.30 333.00H498.00" stroke="#bdbdbd" stroke-width="1.2" fill="none"/>
<path d="M429.30 332.34L433.30 332.23M439.30 332.06L443.30 331.95M449.30 331.78L453.30 331.67M459.30 331.50L463.30 331.39M469.30 331.22L473.30 331.11M479.30 330.94L483.30 330.83M489.30 330.66L493.30 330.55" stroke="#4a98fb" stroke-width="1.6" fill="none"/>
<circle cx="426.30" cy="332.42" r="2.3" fill="#4a98fb" stroke="#fff" stroke-width="0.9"/>
<circle cx="436.30" cy="332.14" r="2.3" fill="#4a98fb" stroke="#fff" stroke-width="0.9"/>
<circle cx="446.30" cy="331.86" r="2.3" fill="#4a98fb" stroke="#fff" stroke-width="0.9"/>
<circle cx="456.30" cy="331.58" r="2.3" fill="#4a98fb" stroke="#fff" stroke-width="0.9"/>
<circle cx="466.30" cy="331.31" r="2.3" fill="#4a98fb" stroke="#fff" stroke-width="0.9"/>
<circle cx="476.30" cy="331.03" r="2.3" fill="#4a98fb" stroke="#fff" stroke-width="0.9"/>
<circle cx="486.30" cy="330.75" r="2.3" fill="#4a98fb" stroke="#fff" stroke-width="0.9"/>
<circle cx="496.30" cy="330.47" r="2.3" fill="#4a98fb" stroke="#fff" stroke-width="0.9"/>
<path d="M429.30 331.42L433.30 331.19M439.29 330.83L443.31 330.56M449.29 330.14L453.31 329.85M459.30 329.46L463.30 329.24M469.30 328.91L473.30 328.68M479.30 328.35L483.30 328.12M489.30 327.87L493.30 327.76" stroke="#35b835" stroke-width="1.6" fill="none"/>
<circle cx="426.30" cy="331.58" r="2.3" fill="#35b835" stroke="#fff" stroke-width="0.9"/>
<circle cx="436.30" cy="331.03" r="2.3" fill="#35b835" stroke="#fff" stroke-width="0.9"/>
<circle cx="446.30" cy="330.36" r="2.3" fill="#35b835" stroke="#fff" stroke-width="0.9"/>
<circle cx="456.30" cy="329.63" r="2.3" fill="#35b835" stroke="#fff" stroke-width="0.9"/>
<circle cx="466.30" cy="329.07" r="2.3" fill="#35b835" stroke="#fff" stroke-width="0.9"/>
<circle cx="476.30" cy="328.52" r="2.3" fill="#35b835" stroke="#fff" stroke-width="0.9"/>
<circle cx="486.30" cy="327.96" r="2.3" fill="#35b835" stroke="#fff" stroke-width="0.9"/>
<circle cx="496.30" cy="327.68" r="2.3" fill="#35b835" stroke="#fff" stroke-width="0.9"/>
<path d="M429.30 331.70L433.30 331.47M439.30 331.14L443.30 330.91M449.30 330.58L453.30 330.36M459.30 330.02L463.30 329.80M469.30 329.46L473.30 329.24M479.30 328.99L483.30 328.88M489.30 328.71L493.30 328.60" stroke="#c83636" stroke-width="1.6" fill="none"/>
<circle cx="426.30" cy="331.86" r="2.3" fill="#c83636" stroke="#fff" stroke-width="0.9"/>
<circle cx="436.30" cy="331.31" r="2.3" fill="#c83636" stroke="#fff" stroke-width="0.9"/>
<circle cx="446.30" cy="330.75" r="2.3" fill="#c83636" stroke="#fff" stroke-width="0.9"/>
<circle cx="456.30" cy="330.19" r="2.3" fill="#c83636" stroke="#fff" stroke-width="0.9"/>
<circle cx="466.30" cy="329.63" r="2.3" fill="#c83636" stroke="#fff" stroke-width="0.9"/>
<circle cx="476.30" cy="329.07" r="2.3" fill="#c83636" stroke="#fff" stroke-width="0.9"/>
<circle cx="486.30" cy="328.79" r="2.3" fill="#c83636" stroke="#fff" stroke-width="0.9"/>
<circle cx="496.30" cy="328.52" r="2.3" fill="#c83636" stroke="#fff" stroke-width="0.9"/>
<path d="M429.30 331.71L433.30 331.57M439.30 331.34L443.30 331.16M449.30 330.89L453.30 330.71M459.30 330.46L463.30 330.31M469.30 330.07L473.30 329.92M479.30 329.66L483.30 329.49M489.30 329.22L493.30 329.04" stroke="#3a3ad0" stroke-width="1.6" fill="none"/>
<circle cx="426.30" cy="331.81" r="2.3" fill="#3a3ad0" stroke="#fff" stroke-width="0.9"/>
<circle cx="436.30" cy="331.47" r="2.3" fill="#3a3ad0" stroke="#fff" stroke-width="0.9"/>
<circle cx="446.30" cy="331.03" r="2.3" fill="#3a3ad0" stroke="#fff" stroke-width="0.9"/>
<circle cx="456.30" cy="330.58" r="2.3" fill="#3a3ad0" stroke="#fff" stroke-width="0.9"/>
<circle cx="466.30" cy="330.19" r="2.3" fill="#3a3ad0" stroke="#fff" stroke-width="0.9"/>
<circle cx="476.30" cy="329.80" r="2.3" fill="#3a3ad0" stroke="#fff" stroke-width="0.9"/>
<circle cx="486.30" cy="329.35" r="2.3" fill="#3a3ad0" stroke="#fff" stroke-width="0.9"/>
<circle cx="496.30" cy="328.91" r="2.3" fill="#3a3ad0" stroke="#fff" stroke-width="0.9"/>
<text x="461.20" y="395.60" font-size="9.5" text-anchor="middle" font-weight="bold" fill="#000" letter-spacing="0.26">(d) P-SPON (all)</text>
<path d="M424.30 443.24H498.10M424.30 432.08H498.10M424.30 420.92H498.10M424.30 409.76H498.10M426.30 398.60V454.40M436.30 398.60V454.40M446.30 398.60V454.40M456.30 398.60V454.40M466.30 398.60V454.40M476.30 398.60V454.40M486.30 398.60V454.40M496.30 398.60V454.40" stroke="#ebebeb" stroke-width="0.9" fill="none"/>
<path d="M424.30 398.60V454.40" stroke="#3a3a3a" stroke-width="0.8" fill="none"/>
<text x="421.30" y="457.70" font-size="9.5" text-anchor="end" fill="#333" letter-spacing="0.2">0</text>
<text x="421.30" y="446.54" font-size="9.5" text-anchor="end" fill="#333" letter-spacing="0.2">0.2</text>
<text x="421.30" y="435.38" font-size="9.5" text-anchor="end" fill="#333" letter-spacing="0.2">0.4</text>
<text x="421.30" y="424.22" font-size="9.5" text-anchor="end" fill="#333" letter-spacing="0.2">0.6</text>
<text x="421.30" y="413.06" font-size="9.5" text-anchor="end" fill="#333" letter-spacing="0.2">0.8</text>
<text x="426.40" y="466.50" font-size="9.5" text-anchor="middle" fill="#333" letter-spacing="0.2">1</text>
<text x="436.40" y="466.50" font-size="9.5" text-anchor="middle" fill="#333" letter-spacing="0.2">2</text>
<text x="446.40" y="466.50" font-size="9.5" text-anchor="middle" fill="#333" letter-spacing="0.2">3</text>
<text x="456.40" y="466.50" font-size="9.5" text-anchor="middle" fill="#333" letter-spacing="0.2">4</text>
<text x="466.40" y="466.50" font-size="9.5" text-anchor="middle" fill="#333" letter-spacing="0.2">5</text>
<text x="476.40" y="466.50" font-size="9.5" text-anchor="middle" fill="#333" letter-spacing="0.2">6</text>
<text x="486.40" y="466.50" font-size="9.5" text-anchor="middle" fill="#333" letter-spacing="0.2">7</text>
<text x="496.40" y="466.50" font-size="9.5" text-anchor="middle" fill="#333" letter-spacing="0.2">8</text>
<text x="461.20" y="478.60" font-size="9.5" text-anchor="middle" fill="#222" letter-spacing="0.46">Input distance</text>
<text transform="translate(403.40,426.50) rotate(-90)" font-size="9.5" text-anchor="middle" fill="#222" letter-spacing="0.54">Dissimilarity</text>
<path d="M428.30 454.70H498.00" stroke="#bdbdbd" stroke-width="1.2" fill="none"/>
<path d="M429.28 454.07L433.32 453.62M439.29 453.03L443.31 452.70M449.29 452.20L453.31 451.86M459.30 451.44L463.30 451.22M469.30 450.97L473.30 450.86M479.30 450.72L483.30 450.66M489.30 450.57L493.30 450.53" stroke="#4a98fb" stroke-width="1.6" fill="none"/>
<circle cx="426.30" cy="454.40" r="2.3" fill="#4a98fb" stroke="#fff" stroke-width="0.9"/>
<circle cx="436.30" cy="453.28" r="2.3" fill="#4a98fb" stroke="#fff" stroke-width="0.9"/>
<circle cx="446.30" cy="452.45" r="2.3" fill="#4a98fb" stroke="#fff" stroke-width="0.9"/>
<circle cx="456.30" cy="451.61" r="2.3" fill="#4a98fb" stroke="#fff" stroke-width="0.9"/>
<circle cx="466.30" cy="451.05" r="2.3" fill="#4a98fb" stroke="#fff" stroke-width="0.9"/>
<circle cx="476.30" cy="450.77" r="2.3" fill="#4a98fb" stroke="#fff" stroke-width="0.9"/>
<circle cx="486.30" cy="450.61" r="2.3" fill="#4a98fb" stroke="#fff" stroke-width="0.9"/>
<circle cx="496.30" cy="450.49" r="2.3" fill="#4a98fb" stroke="#fff" stroke-width="0.9"/>
<path d="M429.26 453.90L433.34 453.22M439.28 452.39L443.32 451.94M449.29 451.36L453.31 451.02M459.29 450.52L463.31 450.19M469.28 449.60L473.32 449.15M479.29 448.57L483.31 448.23M489.30 447.82L493.30 447.59" stroke="#35b835" stroke-width="1.6" fill="none"/>
<circle cx="426.30" cy="454.40" r="2.3" fill="#35b835" stroke="#fff" stroke-width="0.9"/>
<circle cx="436.30" cy="452.73" r="2.3" fill="#35b835" stroke="#fff" stroke-width="0.9"/>
<circle cx="446.30" cy="451.61" r="2.3" fill="#35b835" stroke="#fff" stroke-width="0.9"/>
<circle cx="456.30" cy="450.77" r="2.3" fill="#35b835" stroke="#fff" stroke-width="0.9"/>
<circle cx="466.30" cy="449.94" r="2.3" fill="#35b835" stroke="#fff" stroke-width="0.9"/>
<circle cx="476.30" cy="448.82" r="2.3" fill="#35b835" stroke="#fff" stroke-width="0.9"/>
<circle cx="486.30" cy="447.98" r="2.3" fill="#35b835" stroke="#fff" stroke-width="0.9"/>
<circle cx="496.30" cy="447.42" r="2.3" fill="#35b835" stroke="#fff" stroke-width="0.9"/>
<path d="M429.24 453.79L433.36 452.94M439.28 452.00L443.32 451.55M449.29 450.94L453.31 450.55M459.28 449.94L463.32 449.49M469.28 448.81L473.32 448.33M479.28 447.65L483.32 447.20M489.29 446.67L493.31 446.40" stroke="#c83636" stroke-width="1.6" fill="none"/>
<circle cx="426.30" cy="454.40" r="2.3" fill="#c83636" stroke="#fff" stroke-width="0.9"/>
<circle cx="436.30" cy="452.34" r="2.3" fill="#c83636" stroke="#fff" stroke-width="0.9"/>
<circle cx="446.30" cy="451.22" r="2.3" fill="#c83636" stroke="#fff" stroke-width="0.9"/>
<circle cx="456.30" cy="450.27" r="2.3" fill="#c83636" stroke="#fff" stroke-width="0.9"/>
<circle cx="466.30" cy="449.15" r="2.3" fill="#c83636" stroke="#fff" stroke-width="0.9"/>
<circle cx="476.30" cy="447.98" r="2.3" fill="#c83636" stroke="#fff" stroke-width="0.9"/>
<circle cx="486.30" cy="446.87" r="2.3" fill="#c83636" stroke="#fff" stroke-width="0.9"/>
<circle cx="496.30" cy="446.20" r="2.3" fill="#c83636" stroke="#fff" stroke-width="0.9"/>
<path d="M429.16 449.98L433.44 448.61M439.21 446.96L443.39 445.88M449.21 444.42L453.39 443.40M459.23 442.06L463.37 441.18M469.24 439.96L473.36 439.10M479.24 437.92L483.36 437.12M489.23 435.92L493.37 435.05" stroke="#3a3ad0" stroke-width="1.6" fill="none"/>
<circle cx="426.30" cy="450.88" r="2.3" fill="#3a3ad0" stroke="#fff" stroke-width="0.9"/>
<circle cx="436.30" cy="447.70" r="2.3" fill="#3a3ad0" stroke="#fff" stroke-width="0.9"/>
<circle cx="446.30" cy="445.14" r="2.3" fill="#3a3ad0" stroke="#fff" stroke-width="0.9"/>
<circle cx="456.30" cy="442.68" r="2.3" fill="#3a3ad0" stroke="#fff" stroke-width="0.9"/>
<circle cx="466.30" cy="440.56" r="2.3" fill="#3a3ad0" stroke="#fff" stroke-width="0.9"/>
<circle cx="476.30" cy="438.50" r="2.3" fill="#3a3ad0" stroke="#fff" stroke-width="0.9"/>
<circle cx="486.30" cy="436.54" r="2.3" fill="#3a3ad0" stroke="#fff" stroke-width="0.9"/>
<circle cx="496.30" cy="434.42" r="2.3" fill="#3a3ad0" stroke="#fff" stroke-width="0.9"/>
<text x="461.20" y="518.30" font-size="9.5" text-anchor="middle" font-weight="bold" fill="#000" letter-spacing="0.26">(d) P-SPON (all)</text>
<path d="M424.30 565.94H498.10M424.30 554.78H498.10M424.30 543.62H498.10M424.30 532.46H498.10M441.05 521.30V577.10M457.80 521.30V577.10M474.55 521.30V577.10M491.30 521.30V577.10" stroke="#ebebeb" stroke-width="0.9" fill="none"/>
<path d="M424.30 521.30V577.10" stroke="#3a3a3a" stroke-width="0.8" fill="none"/>
<text x="421.30" y="580.40" font-size="9.5" text-anchor="end" fill="#333" letter-spacing="0.2">0</text>
<text x="421.30" y="569.24" font-size="9.5" text-anchor="end" fill="#333" letter-spacing="0.2">0.2</text>
<text x="421.30" y="558.08" font-size="9.5" text-anchor="end" fill="#333" letter-spacing="0.2">0.4</text>
<text x="421.30" y="546.92" font-size="9.5" text-anchor="end" fill="#333" letter-spacing="0.2">0.6</text>
<text x="421.30" y="535.76" font-size="9.5" text-anchor="end" fill="#333" letter-spacing="0.2">0.8</text>
<text x="424.40" y="589.20" font-size="9.5" text-anchor="middle" fill="#333" letter-spacing="0.2">0</text>
<text x="441.15" y="589.20" font-size="9.5" text-anchor="middle" fill="#333" letter-spacing="0.2">0.5</text>
<text x="457.90" y="589.20" font-size="9.5" text-anchor="middle" fill="#333" letter-spacing="0.2">1</text>
<text x="474.65" y="589.20" font-size="9.5" text-anchor="middle" fill="#333" letter-spacing="0.2">1.5</text>
<text x="491.40" y="589.20" font-size="9.5" text-anchor="middle" fill="#333" letter-spacing="0.2">2</text>
<text x="461.20" y="601.30" font-size="9.5" text-anchor="middle" fill="#222" letter-spacing="0.62">Input log-ratio</text>
<text transform="translate(403.40,549.20) rotate(-90)" font-size="9.5" text-anchor="middle" fill="#222" letter-spacing="0.54">Dissimilarity</text>
<path d="M457.80 577.40H498.00" stroke="#bdbdbd" stroke-width="1.2" fill="none"/>
<path d="M440.44 576.49L441.03 576.40M450.49 575.85L451.04 575.93" stroke="#3a3ad0" stroke-width="1.6" fill="none"/>
<path d="M434.75 576.78L436.63 576.58M437.43 576.54L439.65 576.54M451.81 575.85L453.40 575.28" stroke="#3a3ad0" stroke-width="1.28" stroke-opacity="0.55" fill="none"/>
<circle cx="444.00" cy="575.98" r="2.3" fill="#3a3ad0" stroke="#fff" stroke-width="0.9"/>
<circle cx="447.52" cy="575.43" r="2.3" fill="#3a3ad0" stroke="#fff" stroke-width="0.9"/>
<circle cx="457.13" cy="574.87" r="2.3" fill="#3a3ad0" stroke="#fff" stroke-width="0.9"/>
<circle cx="461.12" cy="574.31" r="2.3" fill="#3a3ad0" stroke="#fff" stroke-width="0.9"/>
<circle cx="466.28" cy="573.47" r="2.3" fill="#3a3ad0" stroke="#fff" stroke-width="0.9"/>
<circle cx="470.73" cy="573.64" r="2.3" fill="#3a3ad0" stroke="#fff" stroke-width="0.9"/>
<circle cx="474.68" cy="573.31" r="2.3" fill="#3a3ad0" stroke="#fff" stroke-width="0.9"/>
<circle cx="478.20" cy="574.03" r="2.3" fill="#3a3ad0" stroke="#fff" stroke-width="0.9"/>
<circle cx="484.33" cy="573.86" r="2.3" fill="#3a3ad0" stroke="#fff" stroke-width="0.9"/>
<circle cx="489.49" cy="573.64" r="2.3" fill="#3a3ad0" stroke="#fff" stroke-width="0.9"/>
<circle cx="493.95" cy="573.42" r="2.3" fill="#3a3ad0" stroke="#fff" stroke-width="0.9"/>
<circle cx="497.90" cy="573.19" r="2.3" fill="#3a3ad0" stroke="#fff" stroke-width="0.9"/>
<text x="461.20" y="640.50" font-size="9.5" text-anchor="middle" font-weight="bold" fill="#000" letter-spacing="0.26">(d) P-SPON (all)</text>
<path d="M424.30 688.14H498.10M424.30 676.98H498.10M424.30 665.82H498.10M424.30 654.66H498.10M441.05 643.50V699.30M457.80 643.50V699.30M474.55 643.50V699.30M491.30 643.50V699.30" stroke="#ebebeb" stroke-width="0.9" fill="none"/>
<path d="M424.30 643.50V699.30" stroke="#3a3a3a" stroke-width="0.8" fill="none"/>
<text x="421.30" y="702.60" font-size="9.5" text-anchor="end" fill="#333" letter-spacing="0.2">0</text>
<text x="421.30" y="691.44" font-size="9.5" text-anchor="end" fill="#333" letter-spacing="0.2">0.2</text>
<text x="421.30" y="680.28" font-size="9.5" text-anchor="end" fill="#333" letter-spacing="0.2">0.4</text>
<text x="421.30" y="669.12" font-size="9.5" text-anchor="end" fill="#333" letter-spacing="0.2">0.6</text>
<text x="421.30" y="657.96" font-size="9.5" text-anchor="end" fill="#333" letter-spacing="0.2">0.8</text>
<text x="424.40" y="711.40" font-size="9.5" text-anchor="middle" fill="#333" letter-spacing="0.2">0</text>
<text x="441.15" y="711.40" font-size="9.5" text-anchor="middle" fill="#333" letter-spacing="0.2">0.5</text>
<text x="457.90" y="711.40" font-size="9.5" text-anchor="middle" fill="#333" letter-spacing="0.2">1</text>
<text x="474.65" y="711.40" font-size="9.5" text-anchor="middle" fill="#333" letter-spacing="0.2">1.5</text>
<text x="491.40" y="711.40" font-size="9.5" text-anchor="middle" fill="#333" letter-spacing="0.2">2</text>
<text x="461.20" y="723.50" font-size="9.5" text-anchor="middle" fill="#222" letter-spacing="0.62">Input log-ratio</text>
<text transform="translate(403.40,671.40) rotate(-90)" font-size="9.5" text-anchor="middle" fill="#222" letter-spacing="0.54">Dissimilarity</text>
<path d="M446.07 699.60H498.00" stroke="#bdbdbd" stroke-width="1.2" fill="none"/>
<path d="M485.43 696.47L488.39 696.38M490.58 696.21L492.86 695.92M495.03 695.57L496.82 695.22" stroke="#4a98fb" stroke-width="1.6" fill="none"/>
<path d="M450.47 695.02L451.08 694.91M453.06 695.28L454.26 694.92" stroke="#c83636" stroke-width="1.6" fill="none"/>
<path d="M433.05 698.60L435.18 697.77M435.94 697.53L437.48 697.16M438.25 697.17L439.66 697.53M440.42 697.49L442.68 696.65M451.83 695.00L452.31 695.23" stroke="#c83636" stroke-width="1.28" stroke-opacity="0.55" fill="none"/>
<circle cx="447.52" cy="695.56" r="2.3" fill="#c83636" stroke="#fff" stroke-width="0.9"/>
<circle cx="457.13" cy="694.05" r="2.3" fill="#c83636" stroke="#fff" stroke-width="0.9"/>
<circle cx="461.12" cy="694.28" r="2.3" fill="#c83636" stroke="#fff" stroke-width="0.9"/>
<circle cx="466.28" cy="692.72" r="2.3" fill="#c83636" stroke="#fff" stroke-width="0.9"/>
<circle cx="470.73" cy="693.50" r="2.3" fill="#c83636" stroke="#fff" stroke-width="0.9"/>
<circle cx="474.68" cy="691.15" r="2.3" fill="#c83636" stroke="#fff" stroke-width="0.9"/>
<circle cx="478.20" cy="694.61" r="2.3" fill="#c83636" stroke="#fff" stroke-width="0.9"/>
<circle cx="484.33" cy="693.27" r="2.3" fill="#c83636" stroke="#fff" stroke-width="0.9"/>
<circle cx="489.49" cy="692.33" r="2.3" fill="#c83636" stroke="#fff" stroke-width="0.9"/>
<circle cx="493.95" cy="691.49" r="2.3" fill="#c83636" stroke="#fff" stroke-width="0.9"/>
<circle cx="497.90" cy="690.65" r="2.3" fill="#c83636" stroke="#fff" stroke-width="0.9"/>
<path d="M432.18 693.59L432.30 692.79M443.48 686.84L443.58 686.09M445.19 685.87L446.32 688.46M448.64 688.43L450.34 684.22M452.02 684.39L452.60 687.47M455.98 687.54L456.14 687.07M472.12 684.14L473.30 681.87M475.68 682.04L477.21 686.42" stroke="#3a3ad0" stroke-width="1.6" fill="none"/>
<path d="M434.34 692.81L435.16 692.67" stroke="#3a3ad0" stroke-width="1.28" stroke-opacity="0.55" fill="none"/>
<circle cx="431.77" cy="696.57" r="2.3" fill="#3a3ad0" stroke="#fff" stroke-width="0.9"/>
<circle cx="432.71" cy="689.81" r="2.3" fill="#3a3ad0" stroke="#fff" stroke-width="0.9"/>
<circle cx="437.87" cy="691.49" r="2.3" fill="#3a3ad0" stroke="#fff" stroke-width="0.9"/>
<circle cx="440.05" cy="687.81" r="2.3" fill="#3a3ad0" stroke="#fff" stroke-width="0.9"/>
<circle cx="441.42" cy="693.83" r="2.3" fill="#3a3ad0" stroke="#fff" stroke-width="0.9"/>
<circle cx="443.06" cy="689.81" r="2.3" fill="#3a3ad0" stroke="#fff" stroke-width="0.9"/>
<circle cx="444.00" cy="683.12" r="2.3" fill="#3a3ad0" stroke="#fff" stroke-width="0.9"/>
<circle cx="447.52" cy="691.21" r="2.3" fill="#3a3ad0" stroke="#fff" stroke-width="0.9"/>
<circle cx="451.47" cy="681.44" r="2.3" fill="#3a3ad0" stroke="#fff" stroke-width="0.9"/>
<circle cx="454.99" cy="690.37" r="2.3" fill="#3a3ad0" stroke="#fff" stroke-width="0.9"/>
<circle cx="457.13" cy="684.23" r="2.3" fill="#3a3ad0" stroke="#fff" stroke-width="0.9"/>
<circle cx="461.12" cy="687.19" r="2.3" fill="#3a3ad0" stroke="#fff" stroke-width="0.9"/>
<circle cx="466.28" cy="686.02" r="2.3" fill="#3a3ad0" stroke="#fff" stroke-width="0.9"/>
<circle cx="470.73" cy="686.80" r="2.3" fill="#3a3ad0" stroke="#fff" stroke-width="0.9"/>
<circle cx="474.68" cy="679.21" r="2.3" fill="#3a3ad0" stroke="#fff" stroke-width="0.9"/>
<circle cx="478.20" cy="689.26" r="2.3" fill="#3a3ad0" stroke="#fff" stroke-width="0.9"/>
<circle cx="484.33" cy="687.19" r="2.3" fill="#3a3ad0" stroke="#fff" stroke-width="0.9"/>
<circle cx="489.49" cy="685.35" r="2.3" fill="#3a3ad0" stroke="#fff" stroke-width="0.9"/>
<circle cx="493.95" cy="682.23" r="2.3" fill="#3a3ad0" stroke="#fff" stroke-width="0.9"/>
<circle cx="497.90" cy="678.77" r="2.3" fill="#3a3ad0" stroke="#fff" stroke-width="0.9"/>
<text x="588.20" y="273.90" font-size="9.5" text-anchor="middle" font-weight="bold" fill="#000" letter-spacing="0.28">(e) N+S (all)</text>
<path d="M551.30 321.54H625.10M551.30 310.38H625.10M551.30 299.22H625.10M551.30 288.06H625.10M553.30 276.90V332.70M563.30 276.90V332.70M573.30 276.90V332.70M583.30 276.90V332.70M593.30 276.90V332.70M603.30 276.90V332.70M613.30 276.90V332.70M623.30 276.90V332.70" stroke="#ebebeb" stroke-width="0.9" fill="none"/>
<path d="M552.10 276.90V332.70" stroke="#c4c4c4" stroke-width="1.6" fill="none"/>
<path d="M551.80 321.54h1M551.80 310.38h1M551.80 299.22h1M551.80 288.06h1" stroke="#555" stroke-width="0.8" fill="none"/>
<text x="548.30" y="336.00" font-size="9.5" text-anchor="end" fill="#333" letter-spacing="0.2">0</text>
<text x="548.30" y="324.84" font-size="9.5" text-anchor="end" fill="#333" letter-spacing="0.2">0.2</text>
<text x="548.30" y="313.68" font-size="9.5" text-anchor="end" fill="#333" letter-spacing="0.2">0.4</text>
<text x="548.30" y="302.52" font-size="9.5" text-anchor="end" fill="#333" letter-spacing="0.2">0.6</text>
<text x="548.30" y="291.36" font-size="9.5" text-anchor="end" fill="#333" letter-spacing="0.2">0.8</text>
<text x="553.40" y="344.80" font-size="9.5" text-anchor="middle" fill="#333" letter-spacing="0.2">1</text>
<text x="563.40" y="344.80" font-size="9.5" text-anchor="middle" fill="#333" letter-spacing="0.2">2</text>
<text x="573.40" y="344.80" font-size="9.5" text-anchor="middle" fill="#333" letter-spacing="0.2">3</text>
<text x="583.40" y="344.80" font-size="9.5" text-anchor="middle" fill="#333" letter-spacing="0.2">4</text>
<text x="593.40" y="344.80" font-size="9.5" text-anchor="middle" fill="#333" letter-spacing="0.2">5</text>
<text x="603.40" y="344.80" font-size="9.5" text-anchor="middle" fill="#333" letter-spacing="0.2">6</text>
<text x="613.40" y="344.80" font-size="9.5" text-anchor="middle" fill="#333" letter-spacing="0.2">7</text>
<text x="623.40" y="344.80" font-size="9.5" text-anchor="middle" fill="#333" letter-spacing="0.2">8</text>
<text x="588.20" y="356.90" font-size="9.5" text-anchor="middle" fill="#222" letter-spacing="0.46">Input distance</text>
<text transform="translate(530.40,304.80) rotate(-90)" font-size="9.5" text-anchor="middle" fill="#222" letter-spacing="0.54">Dissimilarity</text>
<path d="M555.30 333.00H625.00" stroke="#bdbdbd" stroke-width="1.2" fill="none"/>
<path d="M556.30 332.08L560.30 331.99M566.30 331.85L570.30 331.76M576.30 331.66L580.30 331.62M586.30 331.55L590.30 331.51M596.30 331.42L600.30 331.36M606.30 331.27L610.30 331.23M616.30 331.19L620.30 331.19" stroke="#4a98fb" stroke-width="1.6" fill="none"/>
<circle cx="553.30" cy="332.14" r="2.3" fill="#4a98fb" stroke="#fff" stroke-width="0.9"/>
<circle cx="563.30" cy="331.92" r="2.3" fill="#4a98fb" stroke="#fff" stroke-width="0.9"/>
<circle cx="573.30" cy="331.70" r="2.3" fill="#4a98fb" stroke="#fff" stroke-width="0.9"/>
<circle cx="583.30" cy="331.58" r="2.3" fill="#4a98fb" stroke="#fff" stroke-width="0.9"/>
<circle cx="593.30" cy="331.47" r="2.3" fill="#4a98fb" stroke="#fff" stroke-width="0.9"/>
<circle cx="603.30" cy="331.31" r="2.3" fill="#4a98fb" stroke="#fff" stroke-width="0.9"/>
<circle cx="613.30" cy="331.19" r="2.3" fill="#4a98fb" stroke="#fff" stroke-width="0.9"/>
<circle cx="623.30" cy="331.19" r="2.3" fill="#4a98fb" stroke="#fff" stroke-width="0.9"/>
<path d="M556.30 331.14L560.30 330.91M566.30 330.58L570.30 330.36M576.30 330.07L580.30 329.92M586.30 329.66L590.30 329.49M596.30 329.22L600.30 329.04M606.30 328.79L610.30 328.63M616.30 328.52L620.30 328.52" stroke="#35b835" stroke-width="1.6" fill="none"/>
<circle cx="553.30" cy="331.31" r="2.3" fill="#35b835" stroke="#fff" stroke-width="0.9"/>
<circle cx="563.30" cy="330.75" r="2.3" fill="#35b835" stroke="#fff" stroke-width="0.9"/>
<circle cx="573.30" cy="330.19" r="2.3" fill="#35b835" stroke="#fff" stroke-width="0.9"/>
<circle cx="583.30" cy="329.80" r="2.3" fill="#35b835" stroke="#fff" stroke-width="0.9"/>
<circle cx="593.30" cy="329.35" r="2.3" fill="#35b835" stroke="#fff" stroke-width="0.9"/>
<circle cx="603.30" cy="328.91" r="2.3" fill="#35b835" stroke="#fff" stroke-width="0.9"/>
<circle cx="613.30" cy="328.52" r="2.3" fill="#35b835" stroke="#fff" stroke-width="0.9"/>
<circle cx="623.30" cy="328.52" r="2.3" fill="#35b835" stroke="#fff" stroke-width="0.9"/>
<path d="M556.30 330.58L560.30 330.36M566.30 330.02L570.30 329.80M576.30 329.46L580.30 329.24M586.30 328.91L590.30 328.68M596.30 328.35L600.30 328.12M606.29 327.72L610.31 327.41M616.30 327.24L620.30 327.33" stroke="#c83636" stroke-width="1.6" fill="none"/>
<circle cx="553.30" cy="330.75" r="2.3" fill="#c83636" stroke="#fff" stroke-width="0.9"/>
<circle cx="563.30" cy="330.19" r="2.3" fill="#c83636" stroke="#fff" stroke-width="0.9"/>
<circle cx="573.30" cy="329.63" r="2.3" fill="#c83636" stroke="#fff" stroke-width="0.9"/>
<circle cx="583.30" cy="329.07" r="2.3" fill="#c83636" stroke="#fff" stroke-width="0.9"/>
<circle cx="593.30" cy="328.52" r="2.3" fill="#c83636" stroke="#fff" stroke-width="0.9"/>
<circle cx="603.30" cy="327.96" r="2.3" fill="#c83636" stroke="#fff" stroke-width="0.9"/>
<circle cx="613.30" cy="327.18" r="2.3" fill="#c83636" stroke="#fff" stroke-width="0.9"/>
<circle cx="623.30" cy="327.40" r="2.3" fill="#c83636" stroke="#fff" stroke-width="0.9"/>
<path d="M556.29 329.83L560.31 329.49M566.29 328.97L570.31 328.61M576.29 328.08L580.31 327.72M586.29 327.20L590.31 326.87M596.28 326.32L600.32 325.91M606.27 325.17L610.33 324.55M616.30 324.17L620.30 324.26" stroke="#3a3ad0" stroke-width="1.6" fill="none"/>
<circle cx="553.30" cy="330.08" r="2.3" fill="#3a3ad0" stroke="#fff" stroke-width="0.9"/>
<circle cx="563.30" cy="329.24" r="2.3" fill="#3a3ad0" stroke="#fff" stroke-width="0.9"/>
<circle cx="573.30" cy="328.35" r="2.3" fill="#3a3ad0" stroke="#fff" stroke-width="0.9"/>
<circle cx="583.30" cy="327.45" r="2.3" fill="#3a3ad0" stroke="#fff" stroke-width="0.9"/>
<circle cx="593.30" cy="326.62" r="2.3" fill="#3a3ad0" stroke="#fff" stroke-width="0.9"/>
<circle cx="603.30" cy="325.61" r="2.3" fill="#3a3ad0" stroke="#fff" stroke-width="0.9"/>
<circle cx="613.30" cy="324.11" r="2.3" fill="#3a3ad0" stroke="#fff" stroke-width="0.9"/>
<circle cx="623.30" cy="324.33" r="2.3" fill="#3a3ad0" stroke="#fff" stroke-width="0.9"/>
<text x="588.20" y="395.60" font-size="9.5" text-anchor="middle" font-weight="bold" fill="#000" letter-spacing="0.28">(e) N+S (all)</text>
<path d="M551.30 443.24H625.10M551.30 432.08H625.10M551.30 420.92H625.10M551.30 409.76H625.10M553.30 398.60V454.40M563.30 398.60V454.40M573.30 398.60V454.40M583.30 398.60V454.40M593.30 398.60V454.40M603.30 398.60V454.40M613.30 398.60V454.40M623.30 398.60V454.40" stroke="#ebebeb" stroke-width="0.9" fill="none"/>
<path d="M552.10 398.60V454.40" stroke="#c4c4c4" stroke-width="1.6" fill="none"/>
<path d="M551.80 443.24h1M551.80 432.08h1M551.80 420.92h1M551.80 409.76h1" stroke="#555" stroke-width="0.8" fill="none"/>
<text x="548.30" y="457.70" font-size="9.5" text-anchor="end" fill="#333" letter-spacing="0.2">0</text>
<text x="548.30" y="446.54" font-size="9.5" text-anchor="end" fill="#333" letter-spacing="0.2">0.2</text>
<text x="548.30" y="435.38" font-size="9.5" text-anchor="end" fill="#333" letter-spacing="0.2">0.4</text>
<text x="548.30" y="424.22" font-size="9.5" text-anchor="end" fill="#333" letter-spacing="0.2">0.6</text>
<text x="548.30" y="413.06" font-size="9.5" text-anchor="end" fill="#333" letter-spacing="0.2">0.8</text>
<text x="553.40" y="466.50" font-size="9.5" text-anchor="middle" fill="#333" letter-spacing="0.2">1</text>
<text x="563.40" y="466.50" font-size="9.5" text-anchor="middle" fill="#333" letter-spacing="0.2">2</text>
<text x="573.40" y="466.50" font-size="9.5" text-anchor="middle" fill="#333" letter-spacing="0.2">3</text>
<text x="583.40" y="466.50" font-size="9.5" text-anchor="middle" fill="#333" letter-spacing="0.2">4</text>
<text x="593.40" y="466.50" font-size="9.5" text-anchor="middle" fill="#333" letter-spacing="0.2">5</text>
<text x="603.40" y="466.50" font-size="9.5" text-anchor="middle" fill="#333" letter-spacing="0.2">6</text>
<text x="613.40" y="466.50" font-size="9.5" text-anchor="middle" fill="#333" letter-spacing="0.2">7</text>
<text x="623.40" y="466.50" font-size="9.5" text-anchor="middle" fill="#333" letter-spacing="0.2">8</text>
<text x="588.20" y="478.60" font-size="9.5" text-anchor="middle" fill="#222" letter-spacing="0.46">Input distance</text>
<text transform="translate(530.40,426.50) rotate(-90)" font-size="9.5" text-anchor="middle" fill="#222" letter-spacing="0.54">Dissimilarity</text>
<path d="M555.30 454.70H625.00" stroke="#bdbdbd" stroke-width="1.2" fill="none"/>
<path d="M556.29 453.35L560.31 453.05M566.29 452.64L570.31 452.37M576.29 451.97L580.31 451.70M586.29 451.26L590.31 450.95M596.29 450.48L600.31 450.17M606.30 449.77L610.30 449.55M616.30 449.21L620.30 448.99" stroke="#4a98fb" stroke-width="1.6" fill="none"/>
<circle cx="553.30" cy="453.56" r="2.3" fill="#4a98fb" stroke="#fff" stroke-width="0.9"/>
<circle cx="563.30" cy="452.84" r="2.3" fill="#4a98fb" stroke="#fff" stroke-width="0.9"/>
<circle cx="573.30" cy="452.17" r="2.3" fill="#4a98fb" stroke="#fff" stroke-width="0.9"/>
<circle cx="583.30" cy="451.50" r="2.3" fill="#4a98fb" stroke="#fff" stroke-width="0.9"/>
<circle cx="593.30" cy="450.72" r="2.3" fill="#4a98fb" stroke="#fff" stroke-width="0.9"/>
<circle cx="603.30" cy="449.94" r="2.3" fill="#4a98fb" stroke="#fff" stroke-width="0.9"/>
<circle cx="613.30" cy="449.38" r="2.3" fill="#4a98fb" stroke="#fff" stroke-width="0.9"/>
<circle cx="623.30" cy="448.82" r="2.3" fill="#4a98fb" stroke="#fff" stroke-width="0.9"/>
<path d="M556.29 452.55L560.31 452.17M566.29 451.64L570.31 451.30M576.30 450.88L580.30 450.66M586.29 450.21L590.31 449.83M596.29 449.26L600.31 448.88M606.28 448.30L610.32 447.89M616.29 447.41L620.31 447.16" stroke="#35b835" stroke-width="1.6" fill="none"/>
<circle cx="553.30" cy="452.84" r="2.3" fill="#35b835" stroke="#fff" stroke-width="0.9"/>
<circle cx="563.30" cy="451.89" r="2.3" fill="#35b835" stroke="#fff" stroke-width="0.9"/>
<circle cx="573.30" cy="451.05" r="2.3" fill="#35b835" stroke="#fff" stroke-width="0.9"/>
<circle cx="583.30" cy="450.49" r="2.3" fill="#35b835" stroke="#fff" stroke-width="0.9"/>
<circle cx="593.30" cy="449.55" r="2.3" fill="#35b835" stroke="#fff" stroke-width="0.9"/>
<circle cx="603.30" cy="448.60" r="2.3" fill="#35b835" stroke="#fff" stroke-width="0.9"/>
<circle cx="613.30" cy="447.59" r="2.3" fill="#35b835" stroke="#fff" stroke-width="0.9"/>
<circle cx="623.30" cy="446.98" r="2.3" fill="#35b835" stroke="#fff" stroke-width="0.9"/>
<path d="M556.27 452.20L560.33 451.63M566.27 450.77L570.33 450.16M576.26 449.25L580.34 448.61M586.27 447.70L590.33 447.09M596.27 446.20L600.33 445.58M606.27 444.69L610.33 444.08M616.28 443.27L620.32 442.77" stroke="#c83636" stroke-width="1.6" fill="none"/>
<circle cx="553.30" cy="452.61" r="2.3" fill="#c83636" stroke="#fff" stroke-width="0.9"/>
<circle cx="563.30" cy="451.22" r="2.3" fill="#c83636" stroke="#fff" stroke-width="0.9"/>
<circle cx="573.30" cy="449.71" r="2.3" fill="#c83636" stroke="#fff" stroke-width="0.9"/>
<circle cx="583.30" cy="448.15" r="2.3" fill="#c83636" stroke="#fff" stroke-width="0.9"/>
<circle cx="593.30" cy="446.64" r="2.3" fill="#c83636" stroke="#fff" stroke-width="0.9"/>
<circle cx="603.30" cy="445.14" r="2.3" fill="#c83636" stroke="#fff" stroke-width="0.9"/>
<circle cx="613.30" cy="443.63" r="2.3" fill="#c83636" stroke="#fff" stroke-width="0.9"/>
<circle cx="623.30" cy="442.40" r="2.3" fill="#c83636" stroke="#fff" stroke-width="0.9"/>
<path d="M556.16 442.62L560.44 439.17M566.03 435.00L570.57 431.89M575.94 428.44L580.66 425.62M585.96 422.65L590.64 420.19M595.98 417.45L600.62 415.12M605.95 412.37L610.65 409.88M615.95 406.86L620.65 404.01" stroke="#3a3ad0" stroke-width="1.6" fill="none"/>
<circle cx="553.30" cy="444.91" r="2.3" fill="#3a3ad0" stroke="#fff" stroke-width="0.9"/>
<circle cx="563.30" cy="436.88" r="2.3" fill="#3a3ad0" stroke="#fff" stroke-width="0.9"/>
<circle cx="573.30" cy="430.02" r="2.3" fill="#3a3ad0" stroke="#fff" stroke-width="0.9"/>
<circle cx="583.30" cy="424.04" r="2.3" fill="#3a3ad0" stroke="#fff" stroke-width="0.9"/>
<circle cx="593.30" cy="418.80" r="2.3" fill="#3a3ad0" stroke="#fff" stroke-width="0.9"/>
<circle cx="603.30" cy="413.78" r="2.3" fill="#3a3ad0" stroke="#fff" stroke-width="0.9"/>
<circle cx="613.30" cy="408.48" r="2.3" fill="#3a3ad0" stroke="#fff" stroke-width="0.9"/>
<circle cx="623.30" cy="402.39" r="2.3" fill="#3a3ad0" stroke="#fff" stroke-width="0.9"/>
<text x="588.20" y="518.30" font-size="9.5" text-anchor="middle" font-weight="bold" fill="#000" letter-spacing="0.28">(e) N+S (all)</text>
<path d="M551.30 565.94H625.10M551.30 554.78H625.10M551.30 543.62H625.10M551.30 532.46H625.10M568.05 521.30V577.10M584.80 521.30V577.10M601.55 521.30V577.10M618.30 521.30V577.10" stroke="#ebebeb" stroke-width="0.9" fill="none"/>
<path d="M552.10 521.30V577.10" stroke="#c4c4c4" stroke-width="1.6" fill="none"/>
<path d="M551.80 565.94h1M551.80 554.78h1M551.80 543.62h1M551.80 532.46h1" stroke="#555" stroke-width="0.8" fill="none"/>
<text x="548.30" y="580.40" font-size="9.5" text-anchor="end" fill="#333" letter-spacing="0.2">0</text>
<text x="548.30" y="569.24" font-size="9.5" text-anchor="end" fill="#333" letter-spacing="0.2">0.2</text>
<text x="548.30" y="558.08" font-size="9.5" text-anchor="end" fill="#333" letter-spacing="0.2">0.4</text>
<text x="548.30" y="546.92" font-size="9.5" text-anchor="end" fill="#333" letter-spacing="0.2">0.6</text>
<text x="548.30" y="535.76" font-size="9.5" text-anchor="end" fill="#333" letter-spacing="0.2">0.8</text>
<text x="551.40" y="589.20" font-size="9.5" text-anchor="middle" fill="#333" letter-spacing="0.2">0</text>
<text x="568.15" y="589.20" font-size="9.5" text-anchor="middle" fill="#333" letter-spacing="0.2">0.5</text>
<text x="584.90" y="589.20" font-size="9.5" text-anchor="middle" fill="#333" letter-spacing="0.2">1</text>
<text x="601.65" y="589.20" font-size="9.5" text-anchor="middle" fill="#333" letter-spacing="0.2">1.5</text>
<text x="618.40" y="589.20" font-size="9.5" text-anchor="middle" fill="#333" letter-spacing="0.2">2</text>
<text x="588.20" y="601.30" font-size="9.5" text-anchor="middle" fill="#222" letter-spacing="0.62">Input log-ratio</text>
<text transform="translate(530.40,549.20) rotate(-90)" font-size="9.5" text-anchor="middle" fill="#222" letter-spacing="0.54">Dissimilarity</text>
<path d="M584.80 577.40H625.00" stroke="#bdbdbd" stroke-width="1.2" fill="none"/>
<path d="M589.22 575.43L592.18 575.43M594.38 575.43L596.63 575.43M598.83 575.35L600.59 575.22M602.78 575.23L604.10 575.34M606.30 575.43L607.15 575.43M609.35 575.43L610.23 575.43M617.59 575.43L619.85 575.43M622.05 575.43L623.80 575.43" stroke="#4a98fb" stroke-width="1.6" fill="none"/>
<path d="M575.60 574.71L580.90 573.91M583.08 573.65L587.02 573.29M589.19 572.96L592.20 572.31M594.37 572.21L596.64 572.50M598.81 572.41L600.61 572.03M602.65 572.33L604.24 573.22M606.30 573.70L610.23 573.52M612.42 573.30L615.41 572.81M617.59 572.64L619.85 572.64M622.04 572.56L623.80 572.43" stroke="#c83636" stroke-width="1.6" fill="none"/>
<path d="M561.69 575.21L563.69 573.96M564.38 573.95L565.69 574.67M566.43 574.97L567.66 575.32" stroke="#3a3ad0" stroke-width="1.28" stroke-opacity="0.55" fill="none"/>
<circle cx="571.00" cy="574.59" r="2.3" fill="#3a3ad0" stroke="#fff" stroke-width="0.9"/>
<circle cx="574.52" cy="571.13" r="2.3" fill="#3a3ad0" stroke="#fff" stroke-width="0.9"/>
<circle cx="579.67" cy="572.86" r="2.3" fill="#3a3ad0" stroke="#fff" stroke-width="0.9"/>
<circle cx="581.99" cy="568.51" r="2.3" fill="#3a3ad0" stroke="#fff" stroke-width="0.9"/>
<circle cx="584.13" cy="572.52" r="2.3" fill="#3a3ad0" stroke="#fff" stroke-width="0.9"/>
<circle cx="588.12" cy="570.12" r="2.3" fill="#3a3ad0" stroke="#fff" stroke-width="0.9"/>
<circle cx="593.28" cy="568.06" r="2.3" fill="#3a3ad0" stroke="#fff" stroke-width="0.9"/>
<circle cx="597.73" cy="569.18" r="2.3" fill="#3a3ad0" stroke="#fff" stroke-width="0.9"/>
<circle cx="601.68" cy="567.84" r="2.3" fill="#3a3ad0" stroke="#fff" stroke-width="0.9"/>
<circle cx="605.20" cy="570.01" r="2.3" fill="#3a3ad0" stroke="#fff" stroke-width="0.9"/>
<circle cx="611.33" cy="569.68" r="2.3" fill="#3a3ad0" stroke="#fff" stroke-width="0.9"/>
<circle cx="616.49" cy="569.40" r="2.3" fill="#3a3ad0" stroke="#fff" stroke-width="0.9"/>
<circle cx="620.95" cy="568.95" r="2.3" fill="#3a3ad0" stroke="#fff" stroke-width="0.9"/>
<circle cx="624.90" cy="568.62" r="2.3" fill="#3a3ad0" stroke="#fff" stroke-width="0.9"/>
<text x="588.20" y="640.50" font-size="9.5" text-anchor="middle" font-weight="bold" fill="#000" letter-spacing="0.28">(e) N+S (all)</text>
<path d="M551.30 688.14H625.10M551.30 676.98H625.10M551.30 665.82H625.10M551.30 654.66H625.10M568.05 643.50V699.30M584.80 643.50V699.30M601.55 643.50V699.30M618.30 643.50V699.30" stroke="#ebebeb" stroke-width="0.9" fill="none"/>
<path d="M552.10 643.50V699.30" stroke="#c4c4c4" stroke-width="1.6" fill="none"/>
<path d="M551.80 688.14h1M551.80 676.98h1M551.80 665.82h1M551.80 654.66h1" stroke="#555" stroke-width="0.8" fill="none"/>
<text x="548.30" y="702.60" font-size="9.5" text-anchor="end" fill="#333" letter-spacing="0.2">0</text>
<text x="548.30" y="691.44" font-size="9.5" text-anchor="end" fill="#333" letter-spacing="0.2">0.2</text>
<text x="548.30" y="680.28" font-size="9.5" text-anchor="end" fill="#333" letter-spacing="0.2">0.4</text>
<text x="548.30" y="669.12" font-size="9.5" text-anchor="end" fill="#333" letter-spacing="0.2">0.6</text>
<text x="548.30" y="657.96" font-size="9.5" text-anchor="end" fill="#333" letter-spacing="0.2">0.8</text>
<text x="551.40" y="711.40" font-size="9.5" text-anchor="middle" fill="#333" letter-spacing="0.2">0</text>
<text x="568.15" y="711.40" font-size="9.5" text-anchor="middle" fill="#333" letter-spacing="0.2">0.5</text>
<text x="584.90" y="711.40" font-size="9.5" text-anchor="middle" fill="#333" letter-spacing="0.2">1</text>
<text x="601.65" y="711.40" font-size="9.5" text-anchor="middle" fill="#333" letter-spacing="0.2">1.5</text>
<text x="618.40" y="711.40" font-size="9.5" text-anchor="middle" fill="#333" letter-spacing="0.2">2</text>
<text x="588.20" y="723.50" font-size="9.5" text-anchor="middle" fill="#222" letter-spacing="0.62">Input log-ratio</text>
<text transform="translate(530.40,671.40) rotate(-90)" font-size="9.5" text-anchor="middle" fill="#222" letter-spacing="0.54">Dissimilarity</text>
<path d="M571.90 699.60H625.00" stroke="#bdbdbd" stroke-width="1.2" fill="none"/>
<path d="M598.10 694.39L598.95 694.01" stroke="#35b835" stroke-width="1.6" fill="none"/>
<path d="M584.53 695.39L587.72 695.39M588.50 695.27L592.90 693.84M593.67 693.79L597.34 694.48" stroke="#35b835" stroke-width="1.28" stroke-opacity="0.55" fill="none"/>
<circle cx="601.68" cy="692.77" r="2.3" fill="#35b835" stroke="#fff" stroke-width="0.9"/>
<circle cx="605.20" cy="695.56" r="2.3" fill="#35b835" stroke="#fff" stroke-width="0.9"/>
<circle cx="611.33" cy="694.39" r="2.3" fill="#35b835" stroke="#fff" stroke-width="0.9"/>
<circle cx="616.49" cy="692.94" r="2.3" fill="#35b835" stroke="#fff" stroke-width="0.9"/>
<circle cx="620.95" cy="692.16" r="2.3" fill="#35b835" stroke="#fff" stroke-width="0.9"/>
<circle cx="624.90" cy="691.26" r="2.3" fill="#35b835" stroke="#fff" stroke-width="0.9"/>
<path d="M567.35 696.26L568.68 695.17M577.33 693.02L578.09 692.74M580.07 693.09L581.18 692.90" stroke="#c83636" stroke-width="1.6" fill="none"/>
<path d="M557.70 698.04L558.40 697.77M559.95 697.86L560.71 696.83M561.33 696.64L562.18 696.94M562.92 696.89L564.51 696.13M565.25 696.05L566.66 696.41M578.83 692.77L579.31 692.99" stroke="#c83636" stroke-width="1.28" stroke-opacity="0.55" fill="none"/>
<circle cx="571.00" cy="693.27" r="2.3" fill="#c83636" stroke="#fff" stroke-width="0.9"/>
<circle cx="574.52" cy="694.05" r="2.3" fill="#c83636" stroke="#fff" stroke-width="0.9"/>
<circle cx="584.13" cy="692.38" r="2.3" fill="#c83636" stroke="#fff" stroke-width="0.9"/>
<circle cx="588.12" cy="693.27" r="2.3" fill="#c83636" stroke="#fff" stroke-width="0.9"/>
<circle cx="593.28" cy="691.21" r="2.3" fill="#c83636" stroke="#fff" stroke-width="0.9"/>
<circle cx="597.73" cy="692.38" r="2.3" fill="#c83636" stroke="#fff" stroke-width="0.9"/>
<circle cx="601.68" cy="688.92" r="2.3" fill="#c83636" stroke="#fff" stroke-width="0.9"/>
<circle cx="605.20" cy="693.27" r="2.3" fill="#c83636" stroke="#fff" stroke-width="0.9"/>
<circle cx="611.33" cy="691.77" r="2.3" fill="#c83636" stroke="#fff" stroke-width="0.9"/>
<circle cx="616.49" cy="690.37" r="2.3" fill="#c83636" stroke="#fff" stroke-width="0.9"/>
<circle cx="620.95" cy="689.26" r="2.3" fill="#c83636" stroke="#fff" stroke-width="0.9"/>
<circle cx="624.90" cy="687.69" r="2.3" fill="#c83636" stroke="#fff" stroke-width="0.9"/>
<path d="M559.08 688.00L559.40 684.82M560.46 684.74L560.85 686.25M570.37 674.44L570.69 671.26M572.07 671.08L573.44 674.63M575.74 673.10L577.24 667.81M579.33 666.35L579.56 667.11M579.86 667.85L580.61 669.29M582.98 669.13L583.14 668.65M598.83 661.19L600.58 656.78M602.76 656.79L604.13 660.34M607.71 661.50L608.82 660.77" stroke="#3a3ad0" stroke-width="1.6" fill="none"/>
<path d="M561.09 686.26L562.41 682.93" stroke="#3a3ad0" stroke-width="1.28" stroke-opacity="0.55" fill="none"/>
<circle cx="558.77" cy="690.99" r="2.3" fill="#3a3ad0" stroke="#fff" stroke-width="0.9"/>
<circle cx="559.71" cy="681.83" r="2.3" fill="#3a3ad0" stroke="#fff" stroke-width="0.9"/>
<circle cx="564.87" cy="681.44" r="2.3" fill="#3a3ad0" stroke="#fff" stroke-width="0.9"/>
<circle cx="567.04" cy="676.42" r="2.3" fill="#3a3ad0" stroke="#fff" stroke-width="0.9"/>
<circle cx="568.42" cy="682.34" r="2.3" fill="#3a3ad0" stroke="#fff" stroke-width="0.9"/>
<circle cx="570.06" cy="677.43" r="2.3" fill="#3a3ad0" stroke="#fff" stroke-width="0.9"/>
<circle cx="571.00" cy="668.28" r="2.3" fill="#3a3ad0" stroke="#fff" stroke-width="0.9"/>
<circle cx="574.52" cy="677.43" r="2.3" fill="#3a3ad0" stroke="#fff" stroke-width="0.9"/>
<circle cx="578.47" cy="663.48" r="2.3" fill="#3a3ad0" stroke="#fff" stroke-width="0.9"/>
<circle cx="581.99" cy="671.96" r="2.3" fill="#3a3ad0" stroke="#fff" stroke-width="0.9"/>
<circle cx="584.13" cy="665.82" r="2.3" fill="#3a3ad0" stroke="#fff" stroke-width="0.9"/>
<circle cx="588.12" cy="667.77" r="2.3" fill="#3a3ad0" stroke="#fff" stroke-width="0.9"/>
<circle cx="593.28" cy="663.98" r="2.3" fill="#3a3ad0" stroke="#fff" stroke-width="0.9"/>
<circle cx="597.73" cy="663.98" r="2.3" fill="#3a3ad0" stroke="#fff" stroke-width="0.9"/>
<circle cx="601.68" cy="653.99" r="2.3" fill="#3a3ad0" stroke="#fff" stroke-width="0.9"/>
<circle cx="605.20" cy="663.14" r="2.3" fill="#3a3ad0" stroke="#fff" stroke-width="0.9"/>
<circle cx="611.33" cy="659.12" r="2.3" fill="#3a3ad0" stroke="#fff" stroke-width="0.9"/>
<circle cx="616.49" cy="655.78" r="2.3" fill="#3a3ad0" stroke="#fff" stroke-width="0.9"/>
<circle cx="620.95" cy="651.42" r="2.3" fill="#3a3ad0" stroke="#fff" stroke-width="0.9"/>
<circle cx="624.90" cy="646.85" r="2.3" fill="#3a3ad0" stroke="#fff" stroke-width="0.9"/>
<path d="M639.2 289.75H647.8M654 289.75H662.6" stroke="#4a98fb" stroke-width="1.5" fill="none"/>
<circle cx="650.9" cy="289.75" r="1.6" fill="#4a98fb"/>
<text x="665.00" y="292.85" font-size="8.5" text-anchor="start" fill="#262626" >V1</text>
<path d="M639.2 303.85H647.8M654 303.85H662.6" stroke="#35b835" stroke-width="1.5" fill="none"/>
<circle cx="650.9" cy="303.85" r="1.6" fill="#35b835"/>
<text x="665.00" y="306.95" font-size="8.5" text-anchor="start" fill="#262626" >V2</text>
<path d="M639.2 317.95H647.8M654 317.95H662.6" stroke="#c83636" stroke-width="1.5" fill="none"/>
<circle cx="650.9" cy="317.95" r="1.6" fill="#c83636"/>
<text x="665.00" y="321.05" font-size="8.5" text-anchor="start" fill="#262626" >V3</text>
<path d="M639.2 332.05H647.8M654 332.05H662.6" stroke="#3a3ad0" stroke-width="1.5" fill="none"/>
<circle cx="650.9" cy="332.05" r="1.6" fill="#3a3ad0"/>
<text x="665.00" y="335.15" font-size="8.5" text-anchor="start" fill="#262626" letter-spacing="-0.4">IPS</text>
<path d="M639.2 414.40H647.8M654 414.40H662.6" stroke="#4a98fb" stroke-width="1.5" fill="none"/>
<circle cx="650.9" cy="414.40" r="1.6" fill="#4a98fb"/>
<text x="665.00" y="417.50" font-size="8.5" text-anchor="start" fill="#262626" >V1</text>
<path d="M639.2 428.50H647.8M654 428.50H662.6" stroke="#35b835" stroke-width="1.5" fill="none"/>
<circle cx="650.9" cy="428.50" r="1.6" fill="#35b835"/>
<text x="665.00" y="431.60" font-size="8.5" text-anchor="start" fill="#262626" >V2</text>
<path d="M639.2 442.60H647.8M654 442.60H662.6" stroke="#c83636" stroke-width="1.5" fill="none"/>
<circle cx="650.9" cy="442.60" r="1.6" fill="#c83636"/>
<text x="665.00" y="445.70" font-size="8.5" text-anchor="start" fill="#262626" >V3</text>
<path d="M639.2 456.70H647.8M654 456.70H662.6" stroke="#3a3ad0" stroke-width="1.5" fill="none"/>
<circle cx="650.9" cy="456.70" r="1.6" fill="#3a3ad0"/>
<text x="665.00" y="459.80" font-size="8.5" text-anchor="start" fill="#262626" letter-spacing="-0.4">IPS</text>
<path d="M639.2 531.50H647.8M654 531.50H662.6" stroke="#4a98fb" stroke-width="1.5" fill="none"/>
<circle cx="650.9" cy="531.50" r="1.6" fill="#4a98fb"/>
<text x="665.00" y="534.60" font-size="8.5" text-anchor="start" fill="#262626" >V1</text>
<path d="M639.2 545.60H647.8M654 545.60H662.6" stroke="#35b835" stroke-width="1.5" fill="none"/>
<circle cx="650.9" cy="545.60" r="1.6" fill="#35b835"/>
<text x="665.00" y="548.70" font-size="8.5" text-anchor="start" fill="#262626" >V2</text>
<path d="M639.2 559.70H647.8M654 559.70H662.6" stroke="#c83636" stroke-width="1.5" fill="none"/>
<circle cx="650.9" cy="559.70" r="1.6" fill="#c83636"/>
<text x="665.00" y="562.80" font-size="8.5" text-anchor="start" fill="#262626" >V3</text>
<path d="M639.2 573.80H647.8M654 573.80H662.6" stroke="#3a3ad0" stroke-width="1.5" fill="none"/>
<circle cx="650.9" cy="573.80" r="1.6" fill="#3a3ad0"/>
<text x="665.00" y="576.90" font-size="8.5" text-anchor="start" fill="#262626" letter-spacing="-0.4">IPS</text>
<path d="M639.2 656.00H647.8M654 656.00H662.6" stroke="#4a98fb" stroke-width="1.5" fill="none"/>
<circle cx="650.9" cy="656.00" r="1.6" fill="#4a98fb"/>
<text x="665.00" y="659.10" font-size="8.5" text-anchor="start" fill="#262626" >V1</text>
<path d="M639.2 670.10H647.8M654 670.10H662.6" stroke="#35b835" stroke-width="1.5" fill="none"/>
<circle cx="650.9" cy="670.10" r="1.6" fill="#35b835"/>
<text x="665.00" y="673.20" font-size="8.5" text-anchor="start" fill="#262626" >V2</text>
<path d="M639.2 684.20H647.8M654 684.20H662.6" stroke="#c83636" stroke-width="1.5" fill="none"/>
<circle cx="650.9" cy="684.20" r="1.6" fill="#c83636"/>
<text x="665.00" y="687.30" font-size="8.5" text-anchor="start" fill="#262626" >V3</text>
<path d="M639.2 698.30H647.8M654 698.30H662.6" stroke="#3a3ad0" stroke-width="1.5" fill="none"/>
<circle cx="650.9" cy="698.30" r="1.6" fill="#3a3ad0"/>
<text x="665.00" y="701.40" font-size="8.5" text-anchor="start" fill="#262626" letter-spacing="-0.4">IPS</text>
</svg>
</body></html>
